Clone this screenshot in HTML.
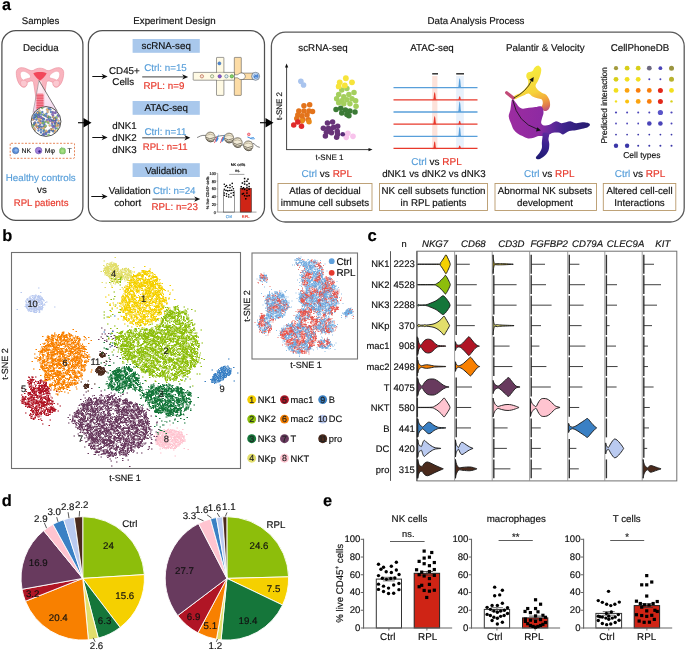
<!DOCTYPE html>
<html lang="en">
<head>
<meta charset="utf-8">
<title>Figure 1</title>
<style>
html,body{margin:0;padding:0;background:#fff;}
body{width:685px;height:650px;overflow:hidden;}
svg{display:block;font-family:"Liberation Sans",sans-serif;text-rendering:geometricPrecision;}
text{stroke-width:0.16px;}
</style>
</head>
<body>
<svg width="685" height="650" viewBox="0 0 685 650" role="img" aria-label="Figure 1: single-cell atlas of decidual immune cells in healthy controls and RPL patients">
<rect width="685" height="650" fill="#fff"/>
<text x="2" y="9.6" font-size="16.2" fill="#000" stroke="#000" font-weight="bold">a</text>
<text x="40.5" y="23.7" font-size="9.65" fill="#111" stroke="#111" text-anchor="middle">Samples</text>
<text x="174.5" y="24" font-size="9.75" fill="#111" stroke="#111" text-anchor="middle">Experiment Design</text>
<text x="476" y="24" font-size="9.75" fill="#111" stroke="#111" text-anchor="middle">Data Analysis Process</text>
<rect x="1.9" y="30.6" width="81" height="189.8" fill="none" stroke="#505050" stroke-width="1.25" rx="14"/>
<rect x="88.4" y="30.6" width="176.1" height="190.6" fill="none" stroke="#505050" stroke-width="1.25" rx="14"/>
<rect x="271.4" y="32.1" width="412.8" height="189.9" fill="none" stroke="#5a5a5a" stroke-width="1.3" rx="14"/>
<line x1="78" y1="122.7" x2="86" y2="122.7" stroke="#111" stroke-width="1.2"/>
<path d="M91.5 122.7 L83.5 118 L83.5 127.4Z" fill="#000"/>
<line x1="260" y1="122.7" x2="268" y2="122.7" stroke="#111" stroke-width="1.2"/>
<path d="M273.5 122.7 L265.5 118 L265.5 127.4Z" fill="#000"/>
<text x="40.8" y="50.8" font-size="9.75" fill="#111" stroke="#111" text-anchor="middle">Decidua</text>
<path d="M16.3 73.500 C15.8 68 21 66.2 26.500 68.8 C29.5 70.300 31.5 71.2 33.5 70.300 C35.5 69 37.5 68.200 40 68.2 C42.5 68.200 44.5 69 46.5 70.300 C48.5 71.2 50.500 70.300 53.5 68.8 C59 66.2 64.200 68 63.7 73.5 C63.5 79.5 61 85.5 57.5 87 C55 88 52.5 86 53 82.500 C50 81 47.500 80 46.5 82.500 C45.5 88 45 93 44.3 96 L44.3 108.5 C44.300 109.500 43.5 110 42.5 110 L37.5 110 C36.5 110 35.700 109.500 35.7 108.5 L35.7 96 C35 93 34.500 88 33.5 82.500 C32.5 80 30 81 27 82.500 C27.5 86 25 88 22.5 87 C19 85.500 16.500 79.500 16.3 73.5 Z" fill="#F9B4BE" stroke="#E98A98" stroke-width="0.6"/><path d="M20.300 74.5 C20.300 70.800 23.8 70.600 27 72.600 C29.5 74.2 31.2 76.2 30.2 77.800 C28 78.800 25.5 78.300 23.5 80.3 C21.5 79.300 20.300 77 20.3 74.5 Z" fill="#fff" stroke="#E98A98" stroke-width="0.4"/><path d="M59.700 74.5 C59.700 70.800 56.200 70.600 53 72.600 C50.5 74.2 48.800 76.2 49.800 77.800 C52 78.800 54.5 78.300 56.5 80.3 C58.5 79.300 59.700 77 59.7 74.5 Z" fill="#fff" stroke="#E98A98" stroke-width="0.4"/><path d="M21 81 C23 79.500 26 80 27 82.500 C27.5 85.500 25 87.500 22.5 86.500 C20.5 85.500 20 82.500 21 81Z" fill="#FBC8D0" stroke="#E98A98" stroke-width="0.4"/><path d="M59 81 C57 79.500 54 80 53 82.500 C52.5 85.500 55 87.500 57.5 86.500 C59.500 85.500 60 82.500 59 81Z" fill="#FBC8D0" stroke="#E98A98" stroke-width="0.4"/><path d="M33.3 73.300 C36 71.6 44 71.600 46.7 73.3 C45.2 76.500 42.5 79.300 40 80.5 C37.5 79.300 34.800 76.5 33.3 73.3Z" fill="#F2485A"/><path d="M38.3 81 L41.7 81 L42.8 95 L37.2 95Z" fill="#FBD9DE"/>
<defs><linearGradient id="cone" x1="0" y1="0" x2="0" y2="1"><stop offset="0" stop-color="#fff" stop-opacity="0.9"/><stop offset="0.45" stop-color="#FBE6F2" stop-opacity="0.75"/><stop offset="1" stop-color="#EFC2E6" stop-opacity="0.7"/></linearGradient><clipPath id="cc"><circle cx="46" cy="121.5" r="14.5"/></clipPath></defs><path d="M39 80.500 L32.6 113.5 L57.600 111.5 Z" fill="url(#cone)"/><rect x="36.5" y="93.5" width="7" height="16" fill="#F47C8C" rx="1.2" opacity="0.92"/><line x1="36.5" y1="95.8" x2="43.5" y2="95.8" stroke="#E2485C" stroke-width="0.8"/><line x1="36.5" y1="98.2" x2="43.5" y2="98.2" stroke="#E2485C" stroke-width="0.8"/><line x1="36.5" y1="100.6" x2="43.5" y2="100.6" stroke="#E2485C" stroke-width="0.8"/><line x1="36.5" y1="103" x2="43.5" y2="103" stroke="#E2485C" stroke-width="0.8"/><line x1="36.5" y1="105.4" x2="43.5" y2="105.4" stroke="#E2485C" stroke-width="0.8"/><line x1="36.5" y1="107.8" x2="43.5" y2="107.8" stroke="#E2485C" stroke-width="0.8"/><line x1="39" y1="80.5" x2="33" y2="112.5" stroke="#555" stroke-width="0.4"/><line x1="39" y1="80.5" x2="57" y2="110.8" stroke="#222" stroke-width="0.6"/><circle cx="46" cy="121.5" r="14.9" fill="#fff" stroke="#222" stroke-width="0.8"/><g clip-path="url(#cc)"><circle cx="43.55" cy="126.4" r="1.05" fill="#5B8FD9" stroke="#334" stroke-width="0.2"/><circle cx="55.27" cy="126.04" r="1.05" fill="#8FD46F" stroke="#334" stroke-width="0.2"/><circle cx="34.33" cy="114.82" r="1.05" fill="#5B8FD9" stroke="#334" stroke-width="0.2"/><circle cx="55.03" cy="123.67" r="1.05" fill="#5B8FD9" stroke="#334" stroke-width="0.2"/><circle cx="46.61" cy="131.95" r="1.05" fill="#5B8FD9" stroke="#334" stroke-width="0.2"/><circle cx="48.3" cy="117.11" r="1.05" fill="#5B8FD9" stroke="#334" stroke-width="0.2"/><circle cx="38.66" cy="113.62" r="1.05" fill="#5B8FD9" stroke="#334" stroke-width="0.2"/><circle cx="38.14" cy="117.36" r="1.05" fill="#5B8FD9" stroke="#334" stroke-width="0.2"/><circle cx="58.51" cy="125.27" r="1.05" fill="#9B7BD8" stroke="#334" stroke-width="0.2"/><circle cx="36.94" cy="126.54" r="1.05" fill="#9B7BD8" stroke="#334" stroke-width="0.2"/><circle cx="35.18" cy="117.2" r="1.05" fill="#5B8FD9" stroke="#334" stroke-width="0.2"/><circle cx="36.18" cy="115.97" r="1.05" fill="#8FD46F" stroke="#334" stroke-width="0.2"/><circle cx="55.74" cy="128.34" r="1.05" fill="#5B8FD9" stroke="#334" stroke-width="0.2"/><circle cx="38.72" cy="114.74" r="1.05" fill="#F9C27A" stroke="#334" stroke-width="0.2"/><circle cx="47.64" cy="112.02" r="1.05" fill="#F9C27A" stroke="#334" stroke-width="0.2"/><circle cx="41.47" cy="126.87" r="1.05" fill="#5B8FD9" stroke="#334" stroke-width="0.2"/><circle cx="43.81" cy="114.89" r="1.05" fill="#9B7BD8" stroke="#334" stroke-width="0.2"/><circle cx="32.97" cy="119.42" r="1.05" fill="#F9C27A" stroke="#334" stroke-width="0.2"/><circle cx="42.7" cy="135.06" r="1.05" fill="#5B8FD9" stroke="#334" stroke-width="0.2"/><circle cx="40.29" cy="121.07" r="1.05" fill="#9B7BD8" stroke="#334" stroke-width="0.2"/><circle cx="51.7" cy="129.55" r="1.05" fill="#5B8FD9" stroke="#334" stroke-width="0.2"/><circle cx="49.82" cy="120.57" r="1.05" fill="#9B7BD8" stroke="#334" stroke-width="0.2"/><circle cx="41.52" cy="128.54" r="1.05" fill="#F9C27A" stroke="#334" stroke-width="0.2"/><circle cx="37.65" cy="116.92" r="1.05" fill="#5B8FD9" stroke="#334" stroke-width="0.2"/><circle cx="55.13" cy="118.19" r="1.05" fill="#5B8FD9" stroke="#334" stroke-width="0.2"/><circle cx="56.96" cy="125.89" r="1.05" fill="#F9C27A" stroke="#334" stroke-width="0.2"/><circle cx="44.11" cy="130.05" r="1.05" fill="#8FD46F" stroke="#334" stroke-width="0.2"/><circle cx="55.48" cy="122.85" r="1.05" fill="#5B8FD9" stroke="#334" stroke-width="0.2"/><circle cx="38.4" cy="115.14" r="1.05" fill="#5B8FD9" stroke="#334" stroke-width="0.2"/><circle cx="46.58" cy="116.46" r="1.05" fill="#5B8FD9" stroke="#334" stroke-width="0.2"/><circle cx="35.18" cy="129.58" r="1.05" fill="#F9C27A" stroke="#334" stroke-width="0.2"/><circle cx="54.26" cy="126.08" r="1.05" fill="#9B7BD8" stroke="#334" stroke-width="0.2"/><circle cx="55.49" cy="112.96" r="1.05" fill="#9B7BD8" stroke="#334" stroke-width="0.2"/><circle cx="42.21" cy="108.02" r="1.05" fill="#8FD46F" stroke="#334" stroke-width="0.2"/><circle cx="51.29" cy="120.06" r="1.05" fill="#5B8FD9" stroke="#334" stroke-width="0.2"/><circle cx="52.65" cy="130.81" r="1.05" fill="#5B8FD9" stroke="#334" stroke-width="0.2"/><circle cx="35.23" cy="122.52" r="1.05" fill="#9B7BD8" stroke="#334" stroke-width="0.2"/><circle cx="44.93" cy="126.77" r="1.05" fill="#8FD46F" stroke="#334" stroke-width="0.2"/><circle cx="39.86" cy="116.43" r="1.05" fill="#5B8FD9" stroke="#334" stroke-width="0.2"/><circle cx="42.3" cy="112.08" r="1.05" fill="#5B8FD9" stroke="#334" stroke-width="0.2"/><circle cx="33.33" cy="125.04" r="1.05" fill="#8FD46F" stroke="#334" stroke-width="0.2"/><circle cx="38.9" cy="126.79" r="1.05" fill="#F9C27A" stroke="#334" stroke-width="0.2"/><circle cx="43.66" cy="118.87" r="1.05" fill="#5B8FD9" stroke="#334" stroke-width="0.2"/><circle cx="55.32" cy="120.6" r="1.05" fill="#5B8FD9" stroke="#334" stroke-width="0.2"/><circle cx="44.27" cy="124.23" r="1.05" fill="#5B8FD9" stroke="#334" stroke-width="0.2"/><circle cx="36.57" cy="117.29" r="1.05" fill="#8FD46F" stroke="#334" stroke-width="0.2"/><circle cx="43.18" cy="119.05" r="1.05" fill="#5B8FD9" stroke="#334" stroke-width="0.2"/><circle cx="41.9" cy="117.93" r="1.05" fill="#9B7BD8" stroke="#334" stroke-width="0.2"/><circle cx="56.52" cy="118.48" r="1.05" fill="#F9C27A" stroke="#334" stroke-width="0.2"/><circle cx="55.31" cy="130.56" r="1.05" fill="#F9C27A" stroke="#334" stroke-width="0.2"/><circle cx="38.19" cy="122.47" r="1.05" fill="#5B8FD9" stroke="#334" stroke-width="0.2"/><circle cx="52.61" cy="126.44" r="1.05" fill="#9B7BD8" stroke="#334" stroke-width="0.2"/><circle cx="34.38" cy="123.07" r="1.05" fill="#F9C27A" stroke="#334" stroke-width="0.2"/><circle cx="59.61" cy="123.49" r="1.05" fill="#F9C27A" stroke="#334" stroke-width="0.2"/><circle cx="38.43" cy="130.44" r="1.05" fill="#5B8FD9" stroke="#334" stroke-width="0.2"/><circle cx="46.39" cy="113.81" r="1.05" fill="#5B8FD9" stroke="#334" stroke-width="0.2"/><circle cx="43.61" cy="114.7" r="1.05" fill="#8FD46F" stroke="#334" stroke-width="0.2"/><circle cx="53.05" cy="116.92" r="1.05" fill="#5B8FD9" stroke="#334" stroke-width="0.2"/><circle cx="33.81" cy="118.97" r="1.05" fill="#9B7BD8" stroke="#334" stroke-width="0.2"/><circle cx="38.77" cy="113.15" r="1.05" fill="#5B8FD9" stroke="#334" stroke-width="0.2"/><circle cx="50.4" cy="109.53" r="1.05" fill="#5B8FD9" stroke="#334" stroke-width="0.2"/><circle cx="49.06" cy="130.91" r="1.05" fill="#5B8FD9" stroke="#334" stroke-width="0.2"/><circle cx="58.51" cy="120.68" r="1.05" fill="#F9C27A" stroke="#334" stroke-width="0.2"/><circle cx="45.32" cy="133.21" r="1.05" fill="#8FD46F" stroke="#334" stroke-width="0.2"/><circle cx="33.09" cy="125.94" r="1.05" fill="#8FD46F" stroke="#334" stroke-width="0.2"/><circle cx="54.18" cy="119.12" r="1.05" fill="#5B8FD9" stroke="#334" stroke-width="0.2"/><circle cx="53.74" cy="127.29" r="1.05" fill="#9B7BD8" stroke="#334" stroke-width="0.2"/><circle cx="49.15" cy="132.18" r="1.05" fill="#5B8FD9" stroke="#334" stroke-width="0.2"/><circle cx="34.7" cy="122.97" r="1.05" fill="#5B8FD9" stroke="#334" stroke-width="0.2"/><circle cx="48.48" cy="117.29" r="1.05" fill="#8FD46F" stroke="#334" stroke-width="0.2"/><circle cx="48.46" cy="109.54" r="1.05" fill="#F9C27A" stroke="#334" stroke-width="0.2"/><circle cx="53.12" cy="115.54" r="1.05" fill="#9B7BD8" stroke="#334" stroke-width="0.2"/><circle cx="57.73" cy="128.61" r="1.05" fill="#8FD46F" stroke="#334" stroke-width="0.2"/><circle cx="34.17" cy="124.29" r="1.05" fill="#5B8FD9" stroke="#334" stroke-width="0.2"/><circle cx="45.08" cy="115.76" r="1.05" fill="#5B8FD9" stroke="#334" stroke-width="0.2"/><circle cx="56.68" cy="123.37" r="1.05" fill="#F9C27A" stroke="#334" stroke-width="0.2"/><circle cx="47.87" cy="116.45" r="1.05" fill="#F9C27A" stroke="#334" stroke-width="0.2"/><circle cx="41.41" cy="114.53" r="1.05" fill="#5B8FD9" stroke="#334" stroke-width="0.2"/><circle cx="58.49" cy="123.19" r="1.05" fill="#5B8FD9" stroke="#334" stroke-width="0.2"/><circle cx="32.57" cy="119.24" r="1.05" fill="#F9C27A" stroke="#334" stroke-width="0.2"/><circle cx="52.2" cy="120.97" r="1.05" fill="#5B8FD9" stroke="#334" stroke-width="0.2"/><circle cx="52.4" cy="122.64" r="1.05" fill="#F9C27A" stroke="#334" stroke-width="0.2"/><circle cx="46.64" cy="132.28" r="1.05" fill="#9B7BD8" stroke="#334" stroke-width="0.2"/><circle cx="33.62" cy="117.96" r="1.05" fill="#5B8FD9" stroke="#334" stroke-width="0.2"/><circle cx="53.08" cy="117.01" r="1.05" fill="#F9C27A" stroke="#334" stroke-width="0.2"/><circle cx="39.35" cy="110.65" r="1.05" fill="#F9C27A" stroke="#334" stroke-width="0.2"/><circle cx="34.14" cy="127.96" r="1.05" fill="#F9C27A" stroke="#334" stroke-width="0.2"/><circle cx="49.74" cy="125.52" r="1.05" fill="#F9C27A" stroke="#334" stroke-width="0.2"/><circle cx="55.29" cy="122.6" r="1.05" fill="#5B8FD9" stroke="#334" stroke-width="0.2"/><circle cx="36.36" cy="113.67" r="1.05" fill="#5B8FD9" stroke="#334" stroke-width="0.2"/><circle cx="50.55" cy="130.07" r="1.05" fill="#5B8FD9" stroke="#334" stroke-width="0.2"/><circle cx="38.45" cy="118.7" r="1.05" fill="#F9C27A" stroke="#334" stroke-width="0.2"/><circle cx="36.39" cy="119.62" r="1.05" fill="#5B8FD9" stroke="#334" stroke-width="0.2"/><circle cx="48.5" cy="119.25" r="1.05" fill="#5B8FD9" stroke="#334" stroke-width="0.2"/><circle cx="43.91" cy="133.71" r="1.05" fill="#F9C27A" stroke="#334" stroke-width="0.2"/><circle cx="43.75" cy="122.2" r="1.05" fill="#5B8FD9" stroke="#334" stroke-width="0.2"/><circle cx="35.66" cy="125.35" r="1.05" fill="#F9C27A" stroke="#334" stroke-width="0.2"/><circle cx="41.05" cy="117.61" r="1.05" fill="#9B7BD8" stroke="#334" stroke-width="0.2"/><circle cx="36.16" cy="124.54" r="1.05" fill="#F9C27A" stroke="#334" stroke-width="0.2"/><circle cx="38.99" cy="121.16" r="1.05" fill="#F9C27A" stroke="#334" stroke-width="0.2"/><circle cx="55.77" cy="111.92" r="1.05" fill="#9B7BD8" stroke="#334" stroke-width="0.2"/><circle cx="57.79" cy="115.29" r="1.05" fill="#5B8FD9" stroke="#334" stroke-width="0.2"/><circle cx="48.8" cy="117.09" r="1.05" fill="#5B8FD9" stroke="#334" stroke-width="0.2"/><circle cx="39.82" cy="126.46" r="1.05" fill="#5B8FD9" stroke="#334" stroke-width="0.2"/><circle cx="40.15" cy="124.33" r="1.05" fill="#9B7BD8" stroke="#334" stroke-width="0.2"/><circle cx="48.83" cy="108.45" r="1.05" fill="#5B8FD9" stroke="#334" stroke-width="0.2"/><circle cx="56.5" cy="117.3" r="1.05" fill="#8FD46F" stroke="#334" stroke-width="0.2"/><circle cx="54.25" cy="131.86" r="1.05" fill="#F9C27A" stroke="#334" stroke-width="0.2"/><circle cx="48.61" cy="135.01" r="1.05" fill="#8FD46F" stroke="#334" stroke-width="0.2"/><circle cx="50.27" cy="117.74" r="1.05" fill="#5B8FD9" stroke="#334" stroke-width="0.2"/><circle cx="50.89" cy="129.37" r="1.05" fill="#F9C27A" stroke="#334" stroke-width="0.2"/><circle cx="38.47" cy="126.7" r="1.05" fill="#8FD46F" stroke="#334" stroke-width="0.2"/><circle cx="41" cy="132.39" r="1.05" fill="#5B8FD9" stroke="#334" stroke-width="0.2"/><circle cx="40.99" cy="129.63" r="1.05" fill="#5B8FD9" stroke="#334" stroke-width="0.2"/><circle cx="38.42" cy="128.24" r="1.05" fill="#9B7BD8" stroke="#334" stroke-width="0.2"/><circle cx="42.44" cy="121.22" r="1.05" fill="#5B8FD9" stroke="#334" stroke-width="0.2"/><circle cx="50.49" cy="120.69" r="1.05" fill="#9B7BD8" stroke="#334" stroke-width="0.2"/><circle cx="44.16" cy="134.79" r="1.05" fill="#5B8FD9" stroke="#334" stroke-width="0.2"/><circle cx="45.35" cy="126.53" r="1.05" fill="#F9C27A" stroke="#334" stroke-width="0.2"/><circle cx="52.79" cy="112.1" r="1.05" fill="#9B7BD8" stroke="#334" stroke-width="0.2"/><circle cx="37.42" cy="127.25" r="1.05" fill="#F9C27A" stroke="#334" stroke-width="0.2"/><circle cx="35.34" cy="116.44" r="1.05" fill="#5B8FD9" stroke="#334" stroke-width="0.2"/><circle cx="43.71" cy="133.9" r="1.05" fill="#5B8FD9" stroke="#334" stroke-width="0.2"/><circle cx="42.62" cy="123.22" r="1.05" fill="#5B8FD9" stroke="#334" stroke-width="0.2"/><circle cx="37.62" cy="112.06" r="1.05" fill="#5B8FD9" stroke="#334" stroke-width="0.2"/><circle cx="40.83" cy="117.32" r="1.05" fill="#9B7BD8" stroke="#334" stroke-width="0.2"/><circle cx="52.18" cy="114.29" r="1.05" fill="#9B7BD8" stroke="#334" stroke-width="0.2"/><circle cx="55.11" cy="121.17" r="1.05" fill="#9B7BD8" stroke="#334" stroke-width="0.2"/><circle cx="43.89" cy="119.47" r="1.05" fill="#5B8FD9" stroke="#334" stroke-width="0.2"/><circle cx="58.85" cy="116.24" r="1.05" fill="#9B7BD8" stroke="#334" stroke-width="0.2"/><circle cx="52.02" cy="123.47" r="1.05" fill="#9B7BD8" stroke="#334" stroke-width="0.2"/><circle cx="38.9" cy="114.07" r="1.05" fill="#5B8FD9" stroke="#334" stroke-width="0.2"/><circle cx="43.52" cy="131.16" r="1.05" fill="#5B8FD9" stroke="#334" stroke-width="0.2"/><circle cx="44.37" cy="134.04" r="1.05" fill="#9B7BD8" stroke="#334" stroke-width="0.2"/><circle cx="47.86" cy="121.94" r="1.05" fill="#F9C27A" stroke="#334" stroke-width="0.2"/><circle cx="40.18" cy="119.57" r="1.05" fill="#F9C27A" stroke="#334" stroke-width="0.2"/><circle cx="46.26" cy="130.92" r="1.05" fill="#F9C27A" stroke="#334" stroke-width="0.2"/><circle cx="40.23" cy="112.83" r="1.05" fill="#8FD46F" stroke="#334" stroke-width="0.2"/><circle cx="53.69" cy="120.05" r="1.05" fill="#5B8FD9" stroke="#334" stroke-width="0.2"/><circle cx="54.2" cy="120.59" r="1.05" fill="#5B8FD9" stroke="#334" stroke-width="0.2"/><circle cx="39.13" cy="126.19" r="1.05" fill="#5B8FD9" stroke="#334" stroke-width="0.2"/><circle cx="46.87" cy="120.06" r="1.05" fill="#9B7BD8" stroke="#334" stroke-width="0.2"/><circle cx="42.99" cy="122.9" r="1.05" fill="#8FD46F" stroke="#334" stroke-width="0.2"/><circle cx="53.93" cy="113.11" r="1.05" fill="#9B7BD8" stroke="#334" stroke-width="0.2"/><circle cx="36.45" cy="114.68" r="1.05" fill="#5B8FD9" stroke="#334" stroke-width="0.2"/><circle cx="40.58" cy="122.91" r="1.05" fill="#F9C27A" stroke="#334" stroke-width="0.2"/><circle cx="54.51" cy="121.69" r="1.05" fill="#9B7BD8" stroke="#334" stroke-width="0.2"/><circle cx="56.28" cy="119.71" r="1.05" fill="#5B8FD9" stroke="#334" stroke-width="0.2"/><circle cx="58.94" cy="124.34" r="1.05" fill="#5B8FD9" stroke="#334" stroke-width="0.2"/><circle cx="45.71" cy="121.86" r="1.05" fill="#8FD46F" stroke="#334" stroke-width="0.2"/><circle cx="52.44" cy="125.25" r="1.05" fill="#5B8FD9" stroke="#334" stroke-width="0.2"/><circle cx="46.14" cy="133.92" r="1.05" fill="#5B8FD9" stroke="#334" stroke-width="0.2"/><circle cx="45.62" cy="125.71" r="1.05" fill="#8FD46F" stroke="#334" stroke-width="0.2"/><circle cx="38.43" cy="116.91" r="1.05" fill="#9B7BD8" stroke="#334" stroke-width="0.2"/><circle cx="43.73" cy="127.91" r="1.05" fill="#F9C27A" stroke="#334" stroke-width="0.2"/><circle cx="49.36" cy="117.07" r="1.05" fill="#8FD46F" stroke="#334" stroke-width="0.2"/><circle cx="47.07" cy="109.58" r="1.05" fill="#F9C27A" stroke="#334" stroke-width="0.2"/><circle cx="53.09" cy="131.18" r="1.05" fill="#5B8FD9" stroke="#334" stroke-width="0.2"/><circle cx="58.4" cy="125" r="1.05" fill="#F9C27A" stroke="#334" stroke-width="0.2"/><circle cx="37.59" cy="112.83" r="1.05" fill="#F9C27A" stroke="#334" stroke-width="0.2"/><circle cx="52.54" cy="129.33" r="1.05" fill="#F9C27A" stroke="#334" stroke-width="0.2"/><circle cx="34.45" cy="116.2" r="1.05" fill="#5B8FD9" stroke="#334" stroke-width="0.2"/><circle cx="50.98" cy="111.94" r="1.05" fill="#5B8FD9" stroke="#334" stroke-width="0.2"/><circle cx="48.48" cy="122.97" r="1.05" fill="#8FD46F" stroke="#334" stroke-width="0.2"/><circle cx="54.37" cy="119.32" r="1.05" fill="#F9C27A" stroke="#334" stroke-width="0.2"/></g>
<rect x="10.2" y="143.3" width="64.3" height="15" fill="none" stroke="#E2703C" stroke-width="0.85" rx="0.8" stroke-dasharray="2 1.5"/>
<circle cx="15.6" cy="150.6" r="3.2" fill="#5B8FD9" stroke="#2f5590" stroke-width="0.5"/>
<circle cx="16.1" cy="150.2" r="1.5" fill="#8DB4EC"/>
<text x="21.6" y="153.1" font-size="6.9" fill="#222" stroke="#222" stroke-width="0.35">NK</text>
<circle cx="38.6" cy="150.6" r="3.3" fill="#A484DC" stroke="#5f44a0" stroke-width="0.5"/>
<circle cx="39.5" cy="151.5" r="1.2" fill="#3a1f8a"/>
<text x="44.7" y="153.1" font-size="6.9" fill="#222" stroke="#222" stroke-width="0.35">Mφ</text>
<rect x="59.7" y="148.2" width="5.6" height="5.6" fill="#8FD46F" stroke="#4f9a38" stroke-width="0.5" rx="1.6"/>
<line x1="62" y1="148.2" x2="61.5" y2="146.9" stroke="#4f9a38" stroke-width="0.5"/>
<circle cx="62.5" cy="151.1" r="1.5" fill="#A8E088"/>
<text x="67.6" y="153.1" font-size="6.9" fill="#222" stroke="#222" stroke-width="0.35">T</text>
<text x="40.8" y="181" font-size="9.75" fill="#589FDA" stroke="#589FDA" text-anchor="middle">Healthy controls</text>
<text x="41.9" y="193.4" font-size="9.75" fill="#111" stroke="#111" text-anchor="middle">vs</text>
<text x="41.1" y="206" font-size="9.65" fill="#E8382B" stroke="#E8382B" text-anchor="middle">RPL patients</text>
<rect x="132.6" y="39" width="67.2" height="13.8" fill="#A9C8EC"/>
<text x="166.2" y="49.4" font-size="9.75" fill="#111" stroke="#111" text-anchor="middle">scRNA-seq</text>
<rect x="132.6" y="101" width="67.2" height="13.8" fill="#A9C8EC"/>
<text x="166.2" y="111.4" font-size="9.75" fill="#111" stroke="#111" text-anchor="middle">ATAC-seq</text>
<rect x="132.6" y="163.2" width="67.2" height="13.8" fill="#A9C8EC"/>
<text x="166.2" y="173.6" font-size="9.75" fill="#111" stroke="#111" text-anchor="middle">Validation</text>
<line x1="92.3" y1="76.5" x2="104" y2="76.5" stroke="#111" stroke-width="1"/><path d="M107.6 76.5L101.6 73.8L103.28 76.5L101.6 79.2Z" fill="#111"/>
<text x="124.4" y="74" font-size="9.75" fill="#111" stroke="#111" text-anchor="middle">CD45+</text>
<text x="123.2" y="85.2" font-size="9.75" fill="#111" stroke="#111" text-anchor="middle">Cells</text>
<line x1="142.2" y1="76.9" x2="184.6" y2="76.9" stroke="#666" stroke-width="1.3"/><path d="M188.2 76.9L182.2 74.2L183.88 76.9L182.2 79.6Z" fill="#111"/>
<text x="144.2" y="71" font-size="9.75" fill="#589FDA" stroke="#589FDA">Ctrl: n=15</text>
<text x="143.4" y="89.2" font-size="9.75" fill="#E8382B" stroke="#E8382B">RPL: n=9</text>
<rect x="234.3" y="57.4" width="7" height="38" fill="#FCDCA6" stroke="#3c3c3c" stroke-width="0.5" rx="0.5"/><path d="M241.3 73.1 L254 73.1 L254 79.5 L241.3 79.5Z" fill="#FCDCA6" stroke="#3c3c3c" stroke-width="0.5"/><rect x="216.5" y="57.4" width="7.4" height="38" fill="#FFFAE4" stroke="#3c3c3c" stroke-width="0.5" rx="0.5"/><rect x="193.2" y="72.4" width="41.3" height="7.8" fill="#FFFAE4" stroke="#3c3c3c" stroke-width="0.5" rx="0.5"/><rect x="216.9" y="72.7" width="6.6" height="7.2" fill="#FFFAE4"/><path d="M234.3 74.700 C236 74.7 237.3 75.2 238.3 74.3 C240 72.200 245 72.5 245.3 76.3 C245 80.100 240 80.4 238.3 78.3 C237.3 77.400 236 77.900 234.3 77.9 Z" fill="#fff" stroke="#3c3c3c" stroke-width="0.5"/><circle cx="201.9" cy="76.3" r="1.65" fill="#F6E2D6" stroke="#B8654A" stroke-width="0.7"/><circle cx="212.1" cy="76.3" r="1.65" fill="#EEF2E2" stroke="#7E9466" stroke-width="0.7"/><circle cx="219.7" cy="76.3" r="1.65" fill="#8B5AD0" stroke="#5A3A9C" stroke-width="0.7"/><circle cx="226.4" cy="76.3" r="1.65" fill="#E6EEF2" stroke="#5E8298" stroke-width="0.7"/><circle cx="231.8" cy="76.3" r="1.65" fill="#86D46A" stroke="#4E9A3C" stroke-width="0.7"/><circle cx="219.4" cy="63.4" r="1.6" fill="#4E86D0" stroke="#3a68a8" stroke-width="0.4"/><circle cx="255.6" cy="76.3" r="4" fill="#D2E3F6" stroke="#3a4a5a" stroke-width="0.55"/><circle cx="256" cy="76.2" r="2.5" fill="#4E86D0"/><path d="M254.3 75.300 q1.2 -1.400 2.6 -0.6" fill="none" stroke="#fff" stroke-width="0.7"/><path d="M255.2 77.300 q1.2 0.900 2.2 0" fill="none" stroke="#fff" stroke-width="0.5"/>
<line x1="92.3" y1="137.5" x2="104" y2="137.5" stroke="#111" stroke-width="1"/><path d="M107.6 137.5L101.6 134.8L103.28 137.5L101.6 140.2Z" fill="#111"/>
<text x="124.5" y="129.2" font-size="9.75" fill="#111" stroke="#111" text-anchor="middle">dNK1</text>
<text x="124.5" y="140.9" font-size="9.75" fill="#111" stroke="#111" text-anchor="middle">dNK2</text>
<text x="124.5" y="152.6" font-size="9.75" fill="#111" stroke="#111" text-anchor="middle">dNK3</text>
<line x1="142.2" y1="137.7" x2="186.7" y2="137.7" stroke="#808080" stroke-width="1.5"/><path d="M190.3 137.7L184.3 135L185.98 137.7L184.3 140.4Z" fill="#111"/>
<text x="144.5" y="134.7" font-size="9.75" fill="#589FDA" stroke="#589FDA">Ctrl: n=11</text>
<text x="142.8" y="149.6" font-size="9.6" fill="#E8382B" stroke="#E8382B">RPL: n=11</text>
<path d="M197.12 137.57 C199.46 136.72 201.06 134.8 205.85 135.44" stroke="#2a2a2a" stroke-width="0.6" fill="none"/><path d="M214.38 137.79 C217.58 136.19 221.84 135.12 225.57 135.66" stroke="#2a2a2a" stroke-width="0.6" fill="none"/><path d="M240.49 144.71 L244.22 145.25" stroke="#2a2a2a" stroke-width="0.6" fill="none"/><path d="M252.74 143.12 C254.87 143.65 255.94 146.85 259.77 147.38" stroke="#2a2a2a" stroke-width="0.6" fill="none"/><ellipse cx="210.33" cy="136.94" rx="4.7" ry="4.9" fill="#F2EBD6" stroke="#3a3226" stroke-width="0.5" transform="rotate(-20 210.33 136.94)"/><path d="M205.83 137.14 q3.6 3.200 8.6 0.4 M206.23 138.84 q3.6 3.200 8.2 0.6 M207.13 140.34 q3 2.600 6.800 0.8" fill="none" stroke="#2e281e" stroke-width="0.55"/><path d="M206.43 135.34 q3.8 -2.400 8 0.2 M207.73 133.54 q3 -2 6.400 -0.6" fill="none" stroke="#8a7f64" stroke-width="0.45"/><ellipse cx="228.98" cy="138" rx="4.7" ry="4.9" fill="#F2EBD6" stroke="#3a3226" stroke-width="0.5" transform="rotate(-20 228.98 138)"/><path d="M224.48 138.2 q3.6 3.200 8.6 0.4 M224.88 139.9 q3.6 3.200 8.2 0.6 M225.78 141.4 q3 2.600 6.800 0.8" fill="none" stroke="#2e281e" stroke-width="0.55"/><path d="M225.08 136.4 q3.8 -2.400 8 0.2 M226.38 134.6 q3 -2 6.400 -0.6" fill="none" stroke="#8a7f64" stroke-width="0.45"/><ellipse cx="237.5" cy="142.58" rx="4.7" ry="4.9" fill="#F2EBD6" stroke="#3a3226" stroke-width="0.5" transform="rotate(-20 237.5 142.58)"/><path d="M233 142.78 q3.6 3.200 8.6 0.4 M233.4 144.48 q3.6 3.200 8.2 0.6 M234.3 145.98 q3 2.600 6.800 0.8" fill="none" stroke="#2e281e" stroke-width="0.55"/><path d="M233.6 140.98 q3.8 -2.400 8 0.2 M234.9 139.18 q3 -2 6.400 -0.6" fill="none" stroke="#8a7f64" stroke-width="0.45"/><ellipse cx="248.27" cy="145.78" rx="4.7" ry="4.9" fill="#F2EBD6" stroke="#3a3226" stroke-width="0.5" transform="rotate(-20 248.27 145.78)"/><path d="M243.77 145.98 q3.6 3.200 8.6 0.4 M244.17 147.68 q3.6 3.200 8.2 0.6 M245.07 149.18 q3 2.600 6.800 0.8" fill="none" stroke="#2e281e" stroke-width="0.55"/><path d="M244.37 144.18 q3.8 -2.400 8 0.2 M245.67 142.38 q3 -2 6.400 -0.6" fill="none" stroke="#8a7f64" stroke-width="0.45"/><ellipse cx="216.8" cy="139.49" rx="1.3" ry="2.6" fill="#3E8FE0" transform="rotate(28 216.8 139.49)"/><path d="M214.4 143.09 l2.400 -6.2" fill="none" stroke="#F0485A" stroke-width="0.8"/><path d="M217.3 137.89 l1.300 -3.2" fill="none" stroke="#3E8FE0" stroke-width="0.7"/><ellipse cx="222.76" cy="139.49" rx="1.3" ry="2.6" fill="#3E8FE0" transform="rotate(28 222.76 139.49)"/><path d="M220.36 143.09 l2.400 -6.2" fill="none" stroke="#F0485A" stroke-width="0.8"/><path d="M223.26 137.89 l1.300 -3.2" fill="none" stroke="#3E8FE0" stroke-width="0.7"/><path d="M247.41 136.94 q3 2.200 6.400 0.6" fill="none" stroke="#3E8FE0" stroke-width="1"/><path d="M250.08 138.43 q2.600 1 4.800 0.2" fill="none" stroke="#3E8FE0" stroke-width="0.8"/><circle cx="248.8" cy="134.38" r="1.3" fill="#F6B0B6" stroke="#EE3E4E" stroke-width="0.7"/>
<line x1="91.3" y1="196.5" x2="104" y2="196.5" stroke="#111" stroke-width="1"/><path d="M107.6 196.5L101.6 193.8L103.28 196.5L101.6 199.2Z" fill="#111"/>
<text x="129.7" y="194.2" font-size="9.75" fill="#111" stroke="#111" text-anchor="middle">Validation</text>
<text x="127.7" y="206.2" font-size="9.75" fill="#111" stroke="#111" text-anchor="middle">cohort</text>
<line x1="152.4" y1="199.1" x2="196.6" y2="199.1" stroke="#666" stroke-width="1.3"/><path d="M200.2 199.1L194.2 196.4L195.88 199.1L194.2 201.8Z" fill="#111"/>
<text x="153" y="194.4" font-size="9.75" fill="#589FDA" stroke="#589FDA">Ctrl: n=24</text>
<text x="151.5" y="209.8" font-size="9.75" fill="#E8382B" stroke="#E8382B">RPL: n=23</text>
<text x="238" y="166.1" font-size="4" fill="#111" stroke="#111" text-anchor="middle">NK cells</text><text x="237.7" y="172.4" font-size="4" fill="#111" stroke="#111" text-anchor="middle">ns.</text><line x1="229.2" y1="174.4" x2="244.4" y2="174.4" stroke="#333" stroke-width="0.45"/><rect x="223.31" y="190.76" width="11.21" height="21.34" fill="#fff" stroke="#333" stroke-width="0.5"/><rect x="240.17" y="188.23" width="11.3" height="23.87" fill="#CF2415" stroke="#222" stroke-width="0.5"/><line x1="217.7" y1="173.4" x2="217.7" y2="212.1" stroke="#555" stroke-width="0.55"/><line x1="217.7" y1="212.1" x2="256.5" y2="212.1" stroke="#555" stroke-width="0.55"/><line x1="216.4" y1="212.1" x2="217.7" y2="212.1" stroke="#555" stroke-width="0.45"/><text x="216.1" y="213.5" font-size="4" fill="#111" stroke="#111" text-anchor="end">0</text><line x1="216.4" y1="204.36" x2="217.7" y2="204.36" stroke="#555" stroke-width="0.45"/><text x="216.1" y="205.76" font-size="4" fill="#111" stroke="#111" text-anchor="end">20</text><line x1="216.4" y1="196.62" x2="217.7" y2="196.62" stroke="#555" stroke-width="0.45"/><text x="216.1" y="198.02" font-size="4" fill="#111" stroke="#111" text-anchor="end">40</text><line x1="216.4" y1="188.88" x2="217.7" y2="188.88" stroke="#555" stroke-width="0.45"/><text x="216.1" y="190.28" font-size="4" fill="#111" stroke="#111" text-anchor="end">60</text><line x1="216.4" y1="181.14" x2="217.7" y2="181.14" stroke="#555" stroke-width="0.45"/><text x="216.1" y="182.54" font-size="4" fill="#111" stroke="#111" text-anchor="end">80</text><line x1="216.4" y1="173.4" x2="217.7" y2="173.4" stroke="#555" stroke-width="0.45"/><text x="216.1" y="174.8" font-size="4" fill="#111" stroke="#111" text-anchor="end">100</text><text transform="translate(209.2 192.8) rotate(-90)" font-size="4" text-anchor="middle" fill="#111" stroke="#111">% live CD45<tspan font-size="2.6" dy="-1.4">+</tspan><tspan dy="1.4"> cells</tspan></text><circle cx="224.28" cy="184.3" r="0.8" fill="#000"/><circle cx="232.24" cy="183.39" r="0.8" fill="#000"/><circle cx="226.52" cy="185.58" r="0.8" fill="#000"/><circle cx="230" cy="185.17" r="0.8" fill="#000"/><circle cx="225.38" cy="186.44" r="0.8" fill="#000"/><circle cx="232.24" cy="186.8" r="0.8" fill="#000"/><circle cx="227.71" cy="187.57" r="0.8" fill="#000"/><circle cx="230" cy="187.87" r="0.8" fill="#000"/><circle cx="233.43" cy="188.74" r="0.8" fill="#000"/><circle cx="224.28" cy="189.25" r="0.8" fill="#000"/><circle cx="226" cy="190.37" r="0.8" fill="#000"/><circle cx="227.82" cy="190.88" r="0.8" fill="#000"/><circle cx="229.74" cy="190.52" r="0.8" fill="#000"/><circle cx="231.56" cy="190.27" r="0.8" fill="#000"/><circle cx="224.28" cy="192.97" r="0.8" fill="#000"/><circle cx="226.52" cy="193.83" r="0.8" fill="#000"/><circle cx="231.04" cy="193.32" r="0.8" fill="#000"/><circle cx="233.38" cy="192.66" r="0.8" fill="#000"/><circle cx="228.75" cy="194.7" r="0.8" fill="#000"/><circle cx="224.28" cy="195.26" r="0.8" fill="#000"/><circle cx="226.52" cy="196.18" r="0.8" fill="#000"/><circle cx="233.38" cy="195.36" r="0.8" fill="#000"/><circle cx="228.75" cy="197.04" r="0.8" fill="#000"/><circle cx="231.04" cy="196.94" r="0.8" fill="#000"/><rect x="243.85" y="177.8" width="1.5" height="1.5" fill="#000"/><rect x="247.23" y="178.41" width="1.5" height="1.5" fill="#000"/><rect x="246.19" y="180.45" width="1.5" height="1.5" fill="#000"/><rect x="243.85" y="180.85" width="1.5" height="1.5" fill="#000"/><rect x="241.62" y="182.28" width="1.5" height="1.5" fill="#000"/><rect x="248.38" y="182.79" width="1.5" height="1.5" fill="#000"/><rect x="243.85" y="183.3" width="1.5" height="1.5" fill="#000"/><rect x="246.19" y="184.17" width="1.5" height="1.5" fill="#000"/><rect x="240.48" y="185.95" width="1.5" height="1.5" fill="#000"/><rect x="248.38" y="185.85" width="1.5" height="1.5" fill="#000"/><rect x="242.76" y="186.97" width="1.5" height="1.5" fill="#000"/><rect x="246.19" y="186.71" width="1.5" height="1.5" fill="#000"/><rect x="241.62" y="188.09" width="1.5" height="1.5" fill="#000"/><rect x="243.85" y="188.65" width="1.5" height="1.5" fill="#000"/><rect x="248.38" y="188.39" width="1.5" height="1.5" fill="#000"/><rect x="246.19" y="189.77" width="1.5" height="1.5" fill="#000"/><rect x="246.19" y="192.32" width="1.5" height="1.5" fill="#000"/><rect x="242.76" y="192.73" width="1.5" height="1.5" fill="#000"/><rect x="241.62" y="193.34" width="1.5" height="1.5" fill="#000"/><rect x="243.85" y="194.97" width="1.5" height="1.5" fill="#000"/><rect x="246.19" y="195.27" width="1.5" height="1.5" fill="#000"/><rect x="248.38" y="194.87" width="1.5" height="1.5" fill="#000"/><rect x="245" y="198.03" width="1.5" height="1.5" fill="#000"/><text x="228.8" y="217.6" font-size="4" fill="#589FDA" stroke="#589FDA" text-anchor="middle">Ctrl</text><text x="245.7" y="217.6" font-size="4" fill="#E8382B" stroke="#E8382B" text-anchor="middle">RPL</text>
<text x="323" y="51.3" font-size="9.75" fill="#111" stroke="#111" text-anchor="middle">scRNA-seq</text>
<text x="432" y="51.3" font-size="9.75" fill="#111" stroke="#111" text-anchor="middle">ATAC-seq</text>
<text x="545.3" y="51.3" font-size="9.75" fill="#111" stroke="#111" text-anchor="middle">Palantir &amp; Velocity</text>
<text x="640" y="51.3" font-size="9.75" fill="#111" stroke="#111" text-anchor="middle">CellPhoneDB</text>
<line x1="286.6" y1="149.6" x2="286.6" y2="66" stroke="#111" stroke-width="0.8"/><path d="M286.6 63.5 L285 67.500 L288.2 67.5Z" fill="#111"/><line x1="286.2" y1="149.6" x2="370" y2="149.6" stroke="#111" stroke-width="0.8"/><path d="M372.5 149.6 L368.5 148 L368.5 151.2Z" fill="#111"/><text transform="translate(281.8 106) rotate(-90)" font-size="8" fill="#111" stroke="#111" text-anchor="middle">t-SNE 2</text><text x="329.5" y="159.5" font-size="8" fill="#111" stroke="#111" text-anchor="middle">t-SNE 1</text><circle cx="300.87" cy="81.31" r="2.8" fill="#A9C4EE"/><circle cx="303.53" cy="84.99" r="2.8" fill="#A9C4EE"/><circle cx="303.94" cy="105.84" r="2.75" fill="#E3731B"/><circle cx="309.66" cy="104.82" r="2.75" fill="#E3731B"/><circle cx="298.83" cy="110.95" r="2.75" fill="#E3731B"/><circle cx="303.94" cy="110.95" r="2.75" fill="#E3731B"/><circle cx="309.05" cy="110.95" r="2.75" fill="#E3731B"/><circle cx="312.52" cy="111.56" r="2.75" fill="#E3731B"/><circle cx="297.81" cy="115.03" r="2.75" fill="#E3731B"/><circle cx="301.9" cy="115.65" r="2.75" fill="#E3731B"/><circle cx="307.01" cy="115.03" r="2.75" fill="#E3731B"/><circle cx="296.79" cy="118.51" r="2.75" fill="#E3731B"/><circle cx="302.92" cy="119.53" r="2.75" fill="#E3731B"/><circle cx="308.44" cy="119.73" r="2.75" fill="#E3731B"/><circle cx="301.9" cy="121.02" r="2.75" fill="#E98A1A"/><circle cx="309.05" cy="121.63" r="2.75" fill="#E98A1A"/><circle cx="293.72" cy="125.11" r="2.75" fill="#E02A2A"/><circle cx="297.81" cy="122.04" r="2.75" fill="#E02A2A"/><circle cx="301.49" cy="126.13" r="2.75" fill="#E02A2A"/><circle cx="341.75" cy="89.9" r="2.75" fill="#A4CF5D"/><circle cx="346.86" cy="88.47" r="2.75" fill="#A4CF5D"/><circle cx="354.01" cy="92.55" r="2.75" fill="#A4CF5D"/><circle cx="338.68" cy="94.6" r="2.75" fill="#A4CF5D"/><circle cx="343.79" cy="96.64" r="2.75" fill="#A4CF5D"/><circle cx="348.9" cy="94.6" r="2.75" fill="#A4CF5D"/><circle cx="336.64" cy="98.68" r="2.75" fill="#A4CF5D"/><circle cx="341.75" cy="100.73" r="2.75" fill="#A4CF5D"/><circle cx="346.86" cy="99.71" r="2.75" fill="#A4CF5D"/><circle cx="351.97" cy="98.68" r="2.75" fill="#A4CF5D"/><circle cx="355.65" cy="100.73" r="2.75" fill="#A4CF5D"/><circle cx="343.79" cy="103.79" r="2.75" fill="#A4CF5D"/><circle cx="349.92" cy="103.79" r="2.75" fill="#A4CF5D"/><circle cx="356.06" cy="106.25" r="2.75" fill="#A4CF5D"/><circle cx="338.68" cy="102.77" r="2.75" fill="#A4CF5D"/><circle cx="345.84" cy="78.25" r="2.9" fill="#F7E43A"/><circle cx="339.71" cy="82.33" r="2.9" fill="#F7E43A"/><circle cx="351.97" cy="82.33" r="2.9" fill="#F7E43A"/><circle cx="338.68" cy="86.42" r="2.9" fill="#F7E43A"/><circle cx="344.82" cy="85.4" r="2.9" fill="#F7E43A"/><circle cx="336.03" cy="109.52" r="2.75" fill="#3B7A35"/><circle cx="340.73" cy="108.29" r="2.75" fill="#3B7A35"/><circle cx="345.43" cy="109.92" r="2.75" fill="#3B7A35"/><circle cx="349.92" cy="110.95" r="2.75" fill="#3B7A35"/><circle cx="355.03" cy="111.97" r="2.75" fill="#3B7A35"/><circle cx="341.75" cy="112.99" r="2.75" fill="#3B7A35"/><circle cx="346.86" cy="114.42" r="2.75" fill="#3B7A35"/><circle cx="348.9" cy="115.65" r="2.75" fill="#3B7A35"/><circle cx="347.88" cy="133.28" r="2.8" fill="#F8C3EC"/><circle cx="346.25" cy="137.37" r="2.8" fill="#F8C3EC"/><circle cx="352.99" cy="136.35" r="2.8" fill="#F8C3EC"/><circle cx="327.44" cy="123.07" r="2.75" fill="#673378"/><circle cx="332.55" cy="122.04" r="2.75" fill="#673378"/><circle cx="323.36" cy="128.17" r="2.75" fill="#673378"/><circle cx="328.47" cy="128.17" r="2.75" fill="#673378"/><circle cx="333.57" cy="127.15" r="2.75" fill="#673378"/><circle cx="337.66" cy="126.13" r="2.75" fill="#673378"/><circle cx="326.42" cy="132.26" r="2.75" fill="#673378"/><circle cx="331.53" cy="132.67" r="2.75" fill="#673378"/><circle cx="337.25" cy="131.24" r="2.75" fill="#673378"/><circle cx="325.4" cy="135.94" r="2.75" fill="#673378"/><circle cx="336.64" cy="137.37" r="2.75" fill="#673378"/><circle cx="330.51" cy="129.81" r="2.75" fill="#673378"/><circle cx="337.66" cy="134.31" r="2.75" fill="#673378"/><circle cx="342.77" cy="134.31" r="2.3" fill="#5A2A78"/>
<rect x="432.2" y="76" width="5.2" height="73.5" fill="#FDE2DA"/><rect x="456.2" y="76" width="7.6" height="73.5" fill="#E7F1FC"/><line x1="432.2" y1="73.8" x2="438" y2="73.8" stroke="#333" stroke-width="1.5"/><line x1="456.2" y1="73.8" x2="464" y2="73.8" stroke="#333" stroke-width="1.5"/><line x1="393.5" y1="87.7" x2="477.5" y2="87.7" stroke="#589FDA" stroke-width="1.3"/><path d="M458.1 87.7 L458 87.7 C458.9 87.7 458.8 78.2 459.7 78.2 C460.6 78.2 460.5 87.7 461.4 87.7Z" fill="#589FDA"/><line x1="393.5" y1="99.8" x2="477.5" y2="99.8" stroke="#E8382B" stroke-width="1.3"/><path d="M433.1 99.8 L433 99.8 C433.9 99.8 433.8 92.3 434.7 92.3 C435.6 92.3 435.5 99.8 436.4 99.8Z" fill="#E8382B"/><path d="M458.1 99.8 L458 99.8 C458.9 99.8 458.8 96.3 459.7 96.3 C460.6 96.3 460.5 99.8 461.4 99.8Z" fill="#E8382B"/><line x1="393.5" y1="112" x2="477.5" y2="112" stroke="#589FDA" stroke-width="1.3"/><path d="M458.1 112 L458 112 C458.9 112 458.8 101.5 459.7 101.5 C460.6 101.5 460.5 112 461.4 112Z" fill="#589FDA"/><line x1="393.5" y1="124.2" x2="477.5" y2="124.2" stroke="#E8382B" stroke-width="1.3"/><path d="M433.1 124.2 L433 124.2 C433.9 124.2 433.8 116.2 434.7 116.2 C435.6 116.2 435.5 124.2 436.4 124.2Z" fill="#E8382B"/><path d="M458.1 124.2 L458 124.2 C458.9 124.2 458.8 120.7 459.7 120.7 C460.6 120.7 460.5 124.2 461.4 124.2Z" fill="#E8382B"/><line x1="393.5" y1="136.4" x2="477.5" y2="136.4" stroke="#589FDA" stroke-width="1.3"/><path d="M458.1 136.4 L458 136.4 C458.9 136.4 458.8 126.9 459.7 126.9 C460.6 126.9 460.5 136.4 461.4 136.4Z" fill="#589FDA"/><line x1="393.5" y1="148.4" x2="477.5" y2="148.4" stroke="#E8382B" stroke-width="1.3"/><path d="M433.1 148.4 L433 148.4 C433.9 148.4 433.8 141.4 434.7 141.4 C435.6 141.4 435.5 148.4 436.4 148.4Z" fill="#E8382B"/><path d="M458.1 148.4 L458 148.4 C458.9 148.4 458.8 145.4 459.7 145.4 C460.6 145.4 460.5 148.4 461.4 148.4Z" fill="#E8382B"/>
<defs><linearGradient id="pg1" gradientUnits="userSpaceOnUse" x1="533.77" y1="69.69" x2="548.31" y2="110.08"><stop offset="0" stop-color="#F6E93C"/><stop offset="0.5" stop-color="#F6D23A"/><stop offset="0.72" stop-color="#F2A83C"/><stop offset="0.88" stop-color="#E07C4C"/><stop offset="1" stop-color="#C0507C"/></linearGradient><linearGradient id="pg2" gradientUnits="userSpaceOnUse" x1="509.54" y1="116.54" x2="590.32" y2="124.62"><stop offset="0" stop-color="#9C2CA0"/><stop offset="0.38" stop-color="#8E2AA2"/><stop offset="0.5" stop-color="#6A2A9E"/><stop offset="0.68" stop-color="#3E248C"/><stop offset="1" stop-color="#241C6E"/></linearGradient><linearGradient id="pg3" gradientUnits="userSpaceOnUse" x1="546.7" y1="132.7" x2="538.62" y2="158.55"><stop offset="0" stop-color="#5E2A9C"/><stop offset="0.45" stop-color="#3A2290"/><stop offset="1" stop-color="#1E1A72"/></linearGradient></defs><path d="M538.62 65.65C539.7 65.9 540.91 67.35 541.2 68.89C541.5 70.42 540.93 72.84 540.4 74.86C539.86 76.88 538.78 79.17 537.97 81C537.16 82.83 535.55 84.34 535.55 85.85C535.55 87.36 536.87 88.86 537.97 90.05C539.08 91.23 540.77 92.15 542.17 92.96C543.57 93.76 545.19 93.76 546.37 94.89C547.56 96.03 548.66 98.02 549.28 99.74C549.9 101.46 550.22 103.62 550.09 105.23C549.95 106.85 549.42 108.47 548.47 109.43C547.53 110.4 545.57 111.32 544.43 111.05C543.3 110.78 541.96 109.17 541.69 107.82C541.42 106.47 542.85 104.4 542.82 102.97C542.79 101.55 542.44 100.06 541.53 99.26C540.61 98.45 538.83 98.58 537.33 98.13C535.82 97.67 533.93 97.26 532.48 96.51C531.03 95.76 530 93.82 528.6 93.6C527.2 93.39 525.64 94.63 524.08 95.22C522.52 95.81 520.79 96.48 519.23 97.16C517.67 97.83 515.73 99.31 514.71 99.26C513.69 99.2 512.72 97.61 513.09 96.83C513.47 96.05 515.52 95.38 516.97 94.57C518.42 93.76 520.36 93.06 521.82 91.99C523.27 90.91 524.64 89.4 525.69 88.11C526.74 86.82 527.71 85.53 528.12 84.23C528.52 82.94 528.41 81.59 528.12 80.36C527.82 79.12 526.48 78.04 526.34 76.8C526.21 75.56 526.34 73.84 527.31 72.92C528.28 72.01 530.92 72.22 532.16 71.31C533.4 70.39 533.66 68.37 534.74 67.43C535.82 66.49 537.54 65.41 538.62 65.65Z" fill="url(#pg1)"/><path d="M506.63 92.79 L513.26 97.96" stroke="#C24A78" stroke-width="3.2" stroke-linecap="round" fill="none"/><path d="M512.45 99.1C513.26 98.93 514.87 101.65 516 102.97C517.13 104.29 518.1 106.07 519.23 107.01C520.36 107.95 521.17 108.49 522.79 108.63C524.4 108.76 526.83 108.09 528.93 107.82C531.03 107.55 533.4 107.28 535.39 107.01C537.38 106.74 539.61 105.91 540.88 106.2C542.15 106.5 542.55 107.6 542.98 108.79C543.41 109.97 543.63 111.75 543.47 113.31C543.3 114.87 542.39 116.54 542.01 118.16C541.63 119.77 540.91 121.79 541.2 123C541.5 124.22 542.33 125.19 543.79 125.43C545.24 125.67 547.96 125.13 549.93 124.46C551.89 123.79 553.7 121.6 555.58 121.39C557.47 121.17 559.49 123.03 561.24 123.17C562.99 123.3 564.47 122.49 566.08 122.2C567.7 121.9 569.26 121.23 570.93 121.39C572.6 121.55 574.21 123.03 576.1 123.17C577.98 123.3 580.3 122.25 582.24 122.2C584.18 122.14 586.44 122.41 587.73 122.84C589.02 123.27 589.99 124.05 589.99 124.78C589.99 125.51 589.02 126.53 587.73 127.21C586.44 127.88 584.23 128.31 582.24 128.82C580.25 129.33 577.93 129.9 575.78 130.27C573.62 130.65 571.41 130.38 569.31 131.08C567.21 131.78 564.79 134.21 563.17 134.47C561.56 134.74 561.29 132.99 559.62 132.7C557.95 132.4 554.99 132.37 553.16 132.7C551.33 133.02 550.25 134.1 548.63 134.64C547.02 135.18 545.13 135.69 543.47 135.93C541.8 136.17 540.23 135.79 538.62 136.09C537 136.39 535.52 137.3 533.77 137.71C532.02 138.11 530 138.78 528.12 138.51C526.23 138.24 524.21 136.93 522.46 136.09C520.71 135.26 519.1 134.61 517.62 133.51C516.14 132.4 514.66 131.08 513.58 129.47C512.5 127.85 511.96 125.97 511.16 123.81C510.35 121.66 508.87 118.83 508.73 116.54C508.6 114.25 509.94 112.18 510.35 110.08C510.75 107.98 510.81 105.77 511.16 103.94C511.51 102.11 511.64 99.26 512.45 99.1Z" fill="url(#pg2)"/><path d="M543.14 132.7C544.22 132.13 548.07 132.43 548.96 133.51C549.85 134.58 548.42 137.41 548.47 139.16C548.53 140.91 549.28 142.12 549.28 144.01C549.28 145.89 549.15 148.58 548.47 150.47C547.8 152.35 546.59 153.94 545.24 155.32C543.9 156.69 541.8 158.09 540.4 158.71C539 159.33 537.57 159.33 536.84 159.03C536.11 158.73 535.6 157.95 536.03 156.93C536.46 155.91 538.46 154.37 539.43 152.89C540.4 151.41 541.45 149.8 541.85 148.05C542.25 146.3 541.74 144.25 541.85 142.39C541.96 140.53 542.28 138.51 542.5 136.9C542.71 135.28 542.07 133.26 543.14 132.7Z" fill="url(#pg3)"/><path d="M513.74 98.13 Q526.5 91.5 531.51 80.68" stroke="#111" stroke-width="0.8" fill="none"/><path d="M533.77 77.12 L529.25 79.71 L533.13 81.97 Z" fill="#111"/><path d="M512.77 100.06 Q517.62 123 537.33 129.14" stroke="#111" stroke-width="0.8" fill="none"/><path d="M540.88 130.44 L537.33 127.21 L536.03 131.41 Z" fill="#111"/>
<circle cx="616" cy="68.2" r="2.1" fill="#A39B3E"/><circle cx="627.1" cy="68.2" r="2.4" fill="#D8CF1A"/><circle cx="638.2" cy="68.2" r="2.4" fill="#D8CF1A"/><circle cx="649.3" cy="68.2" r="2.4" fill="#6E6A80"/><circle cx="660.4" cy="68.2" r="1.9" fill="#4A44B8"/><circle cx="671.5" cy="68.2" r="2.5" fill="#9A9440"/><circle cx="616" cy="79.3" r="2.4" fill="#D8CF1A"/><circle cx="627.1" cy="79.3" r="2.4" fill="#F2DF1E"/><circle cx="638.2" cy="79.3" r="2.4" fill="#F2DF1E"/><circle cx="649.3" cy="79.3" r="1" fill="#4A44B8"/><circle cx="660.4" cy="79.3" r="1" fill="#4A44B8"/><circle cx="671.5" cy="79.3" r="2.5" fill="#B8B22E"/><circle cx="616" cy="90.4" r="2.4" fill="#F2DF1E"/><circle cx="627.1" cy="90.4" r="2.4" fill="#FBA30F"/><circle cx="638.2" cy="90.4" r="2.4" fill="#F97E0B"/><circle cx="649.3" cy="90.4" r="2.4" fill="#F97E0B"/><circle cx="660.4" cy="90.4" r="2.5" fill="#E2281A"/><circle cx="671.5" cy="90.4" r="2.4" fill="#F2DF1E"/><circle cx="616" cy="101.4" r="1.2" fill="#F2DF1E"/><circle cx="627.1" cy="101.4" r="2" fill="#FBC210"/><circle cx="638.2" cy="101.4" r="2.4" fill="#FBA30F"/><circle cx="649.3" cy="101.4" r="2.4" fill="#F97E0B"/><circle cx="660.4" cy="101.4" r="2.5" fill="#E2281A"/><circle cx="671.5" cy="101.4" r="1.2" fill="#D8CF1A"/><circle cx="616" cy="112.5" r="1.1" fill="#4A44B8"/><circle cx="627.1" cy="112.5" r="1" fill="#4A44B8"/><circle cx="638.2" cy="112.5" r="1" fill="#4A44B8"/><circle cx="649.3" cy="112.5" r="1" fill="#4A44B8"/><circle cx="660.4" cy="112.5" r="2.6" fill="#5A54C8"/><circle cx="671.5" cy="112.5" r="1.1" fill="#4A44B8"/><circle cx="616" cy="123.5" r="0.9" fill="#4A44B8"/><circle cx="627.1" cy="123.5" r="0.9" fill="#4A44B8"/><circle cx="638.2" cy="123.5" r="0.9" fill="#4A44B8"/><circle cx="649.3" cy="123.5" r="2.3" fill="#4A44B8"/><circle cx="660.4" cy="123.5" r="2.3" fill="#4A44B8"/><circle cx="671.5" cy="123.5" r="1" fill="#4A44B8"/><circle cx="616" cy="134.6" r="0.9" fill="#3A36A8"/><circle cx="627.1" cy="134.6" r="0.9" fill="#3A36A8"/><circle cx="638.2" cy="134.6" r="0.9" fill="#3A36A8"/><circle cx="649.3" cy="134.6" r="0.9" fill="#3A36A8"/><circle cx="660.4" cy="134.6" r="0.9" fill="#3A36A8"/><circle cx="671.5" cy="134.6" r="0.9" fill="#3A36A8"/><circle cx="616" cy="145.7" r="2.2" fill="#3A36A8"/><circle cx="627.1" cy="145.7" r="2.2" fill="#3A36A8"/><circle cx="638.2" cy="145.7" r="1" fill="#3A36A8"/><circle cx="649.3" cy="145.7" r="1" fill="#3A36A8"/><circle cx="660.4" cy="145.7" r="1" fill="#3A36A8"/><circle cx="671.5" cy="145.7" r="1" fill="#3A36A8"/><text transform="translate(606.5 105.3) rotate(-90)" font-size="8.4" fill="#111" stroke="#111" text-anchor="middle">Predicted interaction</text><text x="641.8" y="157.8" font-size="8.5" fill="#111" stroke="#111" text-anchor="middle">Cell types</text>
<text x="326.8" y="177.3" font-size="10" text-anchor="middle" stroke="none"><tspan fill="#589FDA" stroke="#589FDA">Ctrl</tspan><tspan fill="#111" stroke="#111"> vs </tspan><tspan fill="#E8382B" stroke="#E8382B">RPL</tspan></text>
<text x="436.5" y="165.2" font-size="10" text-anchor="middle" stroke="none"><tspan fill="#589FDA" stroke="#589FDA">Ctrl</tspan><tspan fill="#111" stroke="#111"> vs </tspan><tspan fill="#E8382B" stroke="#E8382B">RPL</tspan></text>
<text x="433.9" y="177.3" font-size="9.75" fill="#111" stroke="#111" text-anchor="middle">dNK1 vs dNK2 vs dNK3</text>
<text x="549.2" y="177.3" font-size="10" text-anchor="middle" stroke="none"><tspan fill="#589FDA" stroke="#589FDA">Ctrl</tspan><tspan fill="#111" stroke="#111"> vs </tspan><tspan fill="#E8382B" stroke="#E8382B">RPL</tspan></text>
<text x="640" y="177.3" font-size="10" text-anchor="middle" stroke="none"><tspan fill="#589FDA" stroke="#589FDA">Ctrl</tspan><tspan fill="#111" stroke="#111"> vs </tspan><tspan fill="#E8382B" stroke="#E8382B">RPL</tspan></text>
<rect x="278" y="183.5" width="94" height="27" fill="#fff" stroke="#B8996A" stroke-width="0.9"/>
<text x="325" y="194.2" font-size="9.75" fill="#111" stroke="#111" text-anchor="middle">Atlas of decidual</text>
<text x="325" y="205.8" font-size="9.75" fill="#111" stroke="#111" text-anchor="middle">immune cell subsets</text>
<rect x="379.5" y="183.5" width="108" height="27" fill="#fff" stroke="#B8996A" stroke-width="0.9"/>
<text x="433.5" y="194.2" font-size="9.75" fill="#111" stroke="#111" text-anchor="middle">NK cell subsets function</text>
<text x="433.5" y="205.8" font-size="9.75" fill="#111" stroke="#111" text-anchor="middle">in RPL patients</text>
<rect x="495" y="183.5" width="101.5" height="27" fill="#fff" stroke="#B8996A" stroke-width="0.9"/>
<text x="545" y="194.2" font-size="9.75" fill="#111" stroke="#111" text-anchor="middle">Abnormal NK subsets</text>
<text x="545" y="205.8" font-size="9.75" fill="#111" stroke="#111" text-anchor="middle">development</text>
<rect x="603.3" y="183.5" width="72.5" height="27" fill="#fff" stroke="#B8996A" stroke-width="0.9"/>
<text x="639.5" y="194.2" font-size="9.75" fill="#111" stroke="#111" text-anchor="middle">Altered cell-cell</text>
<text x="639.5" y="205.8" font-size="9.75" fill="#111" stroke="#111" text-anchor="middle">Interactions</text>
<text x="2.3" y="241.1" font-size="16.4" fill="#000" stroke="#000" font-weight="bold">b</text>
<path transform="translate(11.5 253) scale(0.5)" d="M178 283h3m13 0h3m-18 1h2m23 0h2m-30 1h2m1 0h2m7 0h2m1 0h2m11 0h3m-46 1h2m18 0h3m6 0h5m4 0h6m-13 1h3m2 0h2m1 0h3m10 0h2m-37 1h2m8 0h2m4 0h4m3 0h2m-48 1h2m18 0h2m8 0h2m4 0h8m1 0h3m4 0h3m-57 1h2m10 0h6m4 0h2m1 0h2m5 0h2m2 0h2m3 0h6m1 0h2m6 0h2m-58 1h2m1 0h2m6 0h7m14 0h2m7 0h4m4 0h2m4 0h2m5 0h3m10 0h2m-67 1h2m4 0h2m3 0h2m1 0h2m16 0h3m3 0h2m1 0h2m2 0h2m4 0h4m10 0h4m-82 1h2m1 0h2m1 0h5m8 0h3m1 0h2m11 0h2m3 0h8m2 0h2m1 0h4m3 0h2m1 0h3m1 0h2m6 0h4m-78 1h2m15 0h5m1 0h3m1 0h6m9 0h2m8 0h2m7 0h3m8 0h3m4 0h2m-86 1h2m2 0h3m2 0h6m7 0h5m3 0h7m3 0h2m2 0h2m1 0h2m9 0h3m7 0h2m4 0h12m-83 1h2m2 0h5m9 0h10m2 0h2m4 0h2m1 0h3m1 0h2m5 0h2m1 0h11m2 0h3m3 0h4m3 0h2m-88 1h2m7 0h2m5 0h2m1 0h2m3 0h5m3 0h6m3 0h5m1 0h2m7 0h3m1 0h6m1 0h3m2 0h2m10 0h2m2 0h2m5 0h2m-93 1h3m4 0h2m3 0h6m1 0h7m3 0h5m2 0h6m1 0h6m5 0h6m14 0h5m2 0h2m5 0h4m-87 1h11m3 0h6m4 0h6m3 0h3m3 0h6m1 0h2m2 0h2m3 0h6m10 0h9m1 0h9m-98 1h2m2 0h10m2 0h2m5 0h2m1 0h5m3 0h5m1 0h4m9 0h6m1 0h4m2 0h2m1 0h2m8 0h2m6 0h2m1 0h4m1 0h4m4 0h2m-109 1h3m1 0h2m4 0h7m3 0h3m2 0h3m2 0h4m2 0h4m1 0h2m1 0h2m2 0h6m4 0h4m4 0h2m6 0h2m8 0h8m3 0h7m7 0h3m-114 1h4m3 0h2m3 0h8m2 0h3m2 0h2m1 0h8m2 0h4m1 0h2m7 0h2m3 0h5m7 0h2m1 0h2m6 0h5m1 0h4m1 0h7m1 0h2m5 0h2m-109 1h2m1 0h12m2 0h5m2 0h3m1 0h2m1 0h5m9 0h2m4 0h2m3 0h2m1 0h4m4 0h2m1 0h5m6 0h2m8 0h4m9 0h2m1 0h7m-118 1h3m1 0h2m1 0h7m2 0h6m8 0h3m2 0h3m3 0h2m5 0h6m2 0h2m1 0h2m6 0h4m3 0h5m2 0h2m13 0h6m6 0h2m1 0h2m2 0h2m-118 1h3m4 0h6m1 0h9m1 0h2m10 0h2m13 0h3m2 0h3m7 0h2m5 0h10m17 0h3m7 0h2m4 0h2m-111 1h6m2 0h3m5 0h5m7 0h3m11 0h10m12 0h12m10 0h2m1 0h2m1 0h2m1 0h2m3 0h12m-111 1h5m3 0h4m5 0h2m4 0h2m2 0h2m3 0h3m4 0h3m5 0h3m1 0h2m5 0h2m6 0h9m8 0h2m2 0h2m1 0h2m1 0h4m2 0h4m5 0h4m-110 1h2m3 0h5m3 0h2m1 0h3m3 0h2m7 0h5m3 0h2m6 0h2m17 0h3m9 0h4m3 0h4m1 0h5m6 0h2m4 0h4m2 0h2m2 0h2m-121 1h3m6 0h3m5 0h2m1 0h2m7 0h3m5 0h3m5 0h2m3 0h3m2 0h4m10 0h4m3 0h2m3 0h4m3 0h4m9 0h2m6 0h4m-123 1h2m4 0h2m2 0h8m1 0h2m1 0h2m3 0h3m3 0h2m4 0h2m3 0h3m14 0h2m1 0h2m14 0h4m2 0h2m4 0h2m6 0h2m2 0h2m8 0h3m2 0h6m2 0h4m-126 1h2m3 0h6m2 0h4m5 0h5m2 0h8m3 0h4m5 0h2m2 0h2m1 0h4m1 0h2m7 0h2m1 0h2m1 0h2m6 0h4m3 0h2m14 0h2m5 0h5m6 0h2m-126 1h2m3 0h2m1 0h9m1 0h4m3 0h2m3 0h3m4 0h3m1 0h4m4 0h7m7 0h4m3 0h2m3 0h3m7 0h9m1 0h2m1 0h2m2 0h2m6 0h7m1 0h2m3 0h2m-130 1h2m6 0h4m3 0h7m2 0h2m1 0h4m4 0h3m1 0h2m3 0h2m1 0h4m6 0h2m2 0h2m14 0h2m1 0h6m1 0h11m3 0h2m3 0h4m5 0h9m-125 1h4m3 0h6m1 0h2m1 0h2m1 0h2m4 0h12m1 0h3m6 0h2m9 0h5m2 0h2m5 0h2m6 0h5m4 0h3m1 0h2m2 0h5m1 0h11m1 0h7m-125 1h5m3 0h3m1 0h5m3 0h2m2 0h3m1 0h2m1 0h5m1 0h2m1 0h3m2 0h3m10 0h2m1 0h2m2 0h6m6 0h10m2 0h8m1 0h7m1 0h9m1 0h5m4 0h9m1 0h3m-133 1h2m13 0h3m2 0h3m4 0h4m5 0h3m18 0h2m12 0h2m1 0h8m2 0h9m2 0h2m1 0h2m1 0h2m6 0h3m1 0h6m1 0h9m-135 1h4m3 0h2m1 0h2m3 0h3m2 0h2m2 0h2m2 0h3m1 0h8m3 0h2m8 0h5m6 0h3m17 0h2m2 0h4m3 0h4m1 0h2m4 0h2m2 0h2m2 0h4m6 0h8m1 0h4m-138 1h4m1 0h3m1 0h4m8 0h2m7 0h10m3 0h5m15 0h2m1 0h3m12 0h4m1 0h3m2 0h14m4 0h2m2 0h2m9 0h3m1 0h2m1 0h2m8 0h2m-146 1h2m3 0h6m5 0h2m4 0h2m14 0h5m2 0h4m2 0h2m1 0h2m2 0h2m7 0h3m15 0h2m1 0h3m3 0h4m4 0h6m1 0h2m4 0h2m1 0h3m5 0h6m2 0h2m1 0h2m4 0h2m-146 1h5m2 0h9m7 0h2m2 0h2m8 0h10m14 0h2m5 0h2m2 0h2m11 0h3m4 0h2m2 0h2m2 0h3m3 0h4m8 0h7m2 0h6m1 0h3m2 0h2m2 0h4m-143 1h7m1 0h2m1 0h6m6 0h5m1 0h2m8 0h2m9 0h2m2 0h2m7 0h2m1 0h3m5 0h2m7 0h2m7 0h2m4 0h2m2 0h5m2 0h3m7 0h2m5 0h2m2 0h2m6 0h2m-141 1h4m4 0h5m1 0h3m4 0h5m2 0h2m4 0h2m5 0h2m3 0h3m1 0h2m4 0h2m1 0h2m3 0h8m4 0h2m8 0h4m2 0h6m5 0h4m14 0h3m3 0h5m5 0h2m2 0h2m-144 1h2m5 0h2m4 0h5m5 0h2m3 0h5m1 0h2m2 0h6m2 0h3m3 0h2m6 0h4m3 0h2m3 0h2m15 0h2m1 0h8m2 0h2m9 0h3m4 0h6m1 0h6m5 0h2m2 0h3m-146 1h4m1 0h2m1 0h2m6 0h4m1 0h4m4 0h2m1 0h7m2 0h3m3 0h3m4 0h2m5 0h3m5 0h5m13 0h2m1 0h2m2 0h2m3 0h6m1 0h2m3 0h6m3 0h5m2 0h2m10 0h6m-141 1h3m7 0h4m1 0h2m10 0h3m1 0h5m1 0h3m3 0h2m2 0h2m7 0h4m2 0h8m10 0h2m12 0h10m1 0h2m2 0h6m5 0h3m6 0h2m4 0h6m-145 1h6m1 0h2m9 0h4m11 0h8m3 0h2m1 0h4m4 0h4m5 0h2m4 0h2m16 0h4m2 0h2m1 0h2m12 0h4m1 0h3m3 0h7m5 0h2m3 0h6m-145 1h6m1 0h3m7 0h3m1 0h3m8 0h2m6 0h2m4 0h2m4 0h2m1 0h8m10 0h2m5 0h2m4 0h3m1 0h4m1 0h2m1 0h2m9 0h2m3 0h2m1 0h2m6 0h4m1 0h2m1 0h2m1 0h2m2 0h6m-149 1h6m6 0h4m6 0h4m4 0h2m1 0h2m6 0h6m6 0h9m2 0h2m3 0h4m5 0h4m1 0h7m1 0h4m3 0h4m7 0h2m4 0h2m1 0h4m1 0h2m2 0h2m2 0h2m2 0h2m8 0h4m-143 1h5m2 0h2m2 0h2m2 0h2m2 0h2m3 0h2m3 0h3m2 0h2m5 0h4m2 0h2m3 0h5m1 0h2m1 0h5m3 0h2m3 0h2m4 0h4m2 0h2m3 0h7m5 0h4m5 0h5m5 0h4m10 0h6m1 0h2m-152 1h2m9 0h2m4 0h4m1 0h5m9 0h2m12 0h4m1 0h14m10 0h3m4 0h4m1 0h2m3 0h4m1 0h2m6 0h2m7 0h9m1 0h2m1 0h4m7 0h4m3 0h2m-150 1h2m13 0h6m2 0h4m2 0h2m2 0h2m4 0h3m5 0h4m1 0h2m3 0h2m2 0h2m1 0h3m1 0h2m5 0h4m6 0h4m2 0h6m1 0h2m3 0h6m3 0h4m1 0h9m3 0h2m12 0h2m3 0h2m1 0h2m-153 1h2m13 0h10m5 0h3m6 0h6m4 0h6m2 0h2m3 0h2m1 0h2m4 0h2m1 0h2m8 0h2m1 0h3m2 0h7m8 0h2m2 0h2m7 0h7m4 0h2m10 0h6m-150 1h2m12 0h13m3 0h2m5 0h9m3 0h5m2 0h9m5 0h2m1 0h3m4 0h2m2 0h10m2 0h3m4 0h2m1 0h3m5 0h2m19 0h2m1 0h4m7 0h2m-150 1h3m1 0h2m5 0h2m1 0h10m5 0h3m4 0h3m1 0h2m3 0h2m1 0h6m1 0h4m1 0h6m4 0h3m3 0h2m10 0h7m7 0h2m2 0h2m3 0h3m8 0h3m9 0h8m4 0h2m2 0h2m-153 1h2m1 0h3m5 0h2m3 0h2m2 0h2m1 0h2m2 0h3m1 0h2m2 0h7m7 0h3m1 0h2m1 0h3m1 0h2m8 0h2m4 0h2m7 0h6m1 0h2m2 0h2m7 0h7m3 0h4m2 0h2m9 0h2m1 0h6m5 0h2m2 0h2m-153 1h3m3 0h3m4 0h3m1 0h2m2 0h9m8 0h6m10 0h4m1 0h6m1 0h3m7 0h4m7 0h3m1 0h3m7 0h2m2 0h2m4 0h2m4 0h2m1 0h2m2 0h2m2 0h2m2 0h8m3 0h2m1 0h3m3 0h2m-154 1h2m2 0h4m5 0h4m6 0h2m1 0h5m5 0h6m7 0h4m2 0h2m4 0h2m1 0h2m4 0h8m1 0h2m1 0h4m1 0h6m4 0h5m2 0h4m6 0h2m1 0h4m1 0h3m9 0h5m1 0h2m4 0h4m1 0h2m1 0h3m-157 1h2m3 0h2m8 0h3m1 0h3m2 0h4m8 0h4m2 0h2m11 0h3m1 0h8m10 0h2m4 0h7m2 0h2m3 0h2m6 0h5m2 0h9m4 0h3m6 0h2m4 0h4m4 0h7m-146 1h2m5 0h7m14 0h2m4 0h2m3 0h4m9 0h4m9 0h3m5 0h2m2 0h2m1 0h4m3 0h16m5 0h2m3 0h6m5 0h2m1 0h4m2 0h2m3 0h6m-146 1h2m8 0h4m9 0h2m3 0h6m2 0h6m11 0h3m1 0h3m10 0h4m1 0h6m3 0h2m3 0h4m1 0h3m22 0h2m7 0h2m2 0h7m3 0h2m2 0h2m-153 1h4m1 0h3m3 0h2m2 0h2m3 0h2m8 0h3m10 0h2m4 0h6m7 0h2m3 0h2m5 0h2m2 0h3m2 0h3m4 0h5m11 0h2m6 0h2m5 0h2m2 0h2m5 0h3m4 0h7m1 0h5m1 0h2m-143 1h2m1 0h6m3 0h2m2 0h6m9 0h2m8 0h4m3 0h3m2 0h5m5 0h5m2 0h2m6 0h5m12 0h2m8 0h4m1 0h4m4 0h3m1 0h2m1 0h5m6 0h3m1 0h2m-148 1h3m3 0h12m4 0h6m2 0h2m12 0h6m7 0h2m2 0h2m1 0h2m1 0h7m4 0h2m7 0h2m11 0h2m3 0h2m3 0h2m5 0h4m2 0h2m1 0h2m2 0h2m1 0h5m4 0h4m-146 1h3m7 0h5m7 0h2m4 0h3m15 0h6m3 0h5m9 0h2m1 0h2m5 0h8m15 0h4m4 0h4m2 0h10m4 0h2m5 0h2m3 0h2m-142 1h2m3 0h6m6 0h7m1 0h4m14 0h2m4 0h9m3 0h2m2 0h2m2 0h7m3 0h5m3 0h2m4 0h2m5 0h3m3 0h4m1 0h11m1 0h9m3 0h3m5 0h2m-139 1h7m9 0h2m4 0h4m4 0h2m2 0h2m6 0h2m3 0h2m1 0h2m12 0h5m3 0h5m4 0h2m20 0h2m3 0h2m3 0h2m2 0h4m1 0h3m1 0h2m2 0h2m1 0h2m-137 1h4m1 0h3m2 0h2m1 0h2m1 0h9m5 0h4m1 0h4m1 0h4m1 0h5m14 0h6m5 0h11m14 0h2m2 0h5m2 0h2m8 0h2m2 0h7m-133 1h6m1 0h4m7 0h8m2 0h3m2 0h4m6 0h2m1 0h4m6 0h2m2 0h3m3 0h3m1 0h4m2 0h11m11 0h2m1 0h4m3 0h7m3 0h2m7 0h2m4 0h4m2 0h2m-144 1h2m3 0h2m2 0h4m11 0h8m1 0h3m4 0h2m6 0h8m3 0h2m3 0h2m2 0h4m4 0h6m4 0h2m5 0h3m2 0h2m2 0h5m2 0h5m2 0h7m10 0h3m3 0h2m2 0h2m-144 1h4m3 0h3m4 0h2m3 0h9m1 0h2m18 0h6m2 0h2m1 0h2m5 0h3m3 0h2m1 0h4m2 0h6m3 0h2m4 0h2m3 0h4m3 0h12m10 0h10m1 0h2m-144 1h3m2 0h2m3 0h2m8 0h4m3 0h2m3 0h2m5 0h2m1 0h7m2 0h2m1 0h6m7 0h5m4 0h4m4 0h3m3 0h16m5 0h2m4 0h4m11 0h2m4 0h2m-139 1h2m3 0h2m2 0h2m1 0h2m4 0h3m2 0h2m1 0h2m7 0h2m1 0h8m5 0h4m1 0h2m1 0h4m1 0h2m4 0h9m8 0h3m1 0h2m11 0h3m2 0h2m1 0h11m2 0h8m1 0h4m-135 1h4m4 0h11m3 0h3m1 0h2m3 0h2m1 0h3m6 0h2m5 0h2m1 0h4m1 0h2m1 0h10m5 0h2m5 0h4m1 0h2m8 0h3m3 0h4m7 0h5m6 0h10m3 0h2m-138 1h4m2 0h2m2 0h4m7 0h2m4 0h5m8 0h2m5 0h3m5 0h4m4 0h5m13 0h4m20 0h2m5 0h6m7 0h6m1 0h2m-129 1h2m4 0h9m8 0h7m2 0h5m4 0h13m7 0h3m2 0h6m6 0h3m6 0h2m1 0h4m11 0h5m2 0h2m9 0h5m-134 1h2m3 0h3m5 0h3m3 0h3m3 0h2m1 0h2m4 0h2m12 0h3m1 0h4m5 0h2m4 0h6m2 0h2m5 0h8m1 0h6m2 0h2m10 0h7m1 0h2m6 0h2m1 0h4m-120 1h3m3 0h2m4 0h2m1 0h2m5 0h6m2 0h7m1 0h7m8 0h4m2 0h2m12 0h2m2 0h2m2 0h6m8 0h7m5 0h3m6 0h4m-133 1h2m20 0h2m1 0h2m4 0h4m4 0h4m2 0h2m1 0h2m1 0h2m1 0h7m7 0h3m3 0h8m10 0h5m3 0h2m2 0h2m1 0h2m1 0h5m5 0h2m1 0h2m6 0h2m-135 1h3m7 0h2m2 0h5m3 0h4m6 0h3m1 0h3m2 0h6m3 0h4m1 0h2m3 0h4m4 0h2m7 0h4m4 0h2m1 0h3m3 0h5m3 0h4m5 0h4m4 0h3m2 0h5m3 0h5m-129 1h3m2 0h2m6 0h2m7 0h2m4 0h5m2 0h5m3 0h2m2 0h4m2 0h3m2 0h3m9 0h3m1 0h3m1 0h3m5 0h4m2 0h2m3 0h2m2 0h9m6 0h2m8 0h2m-125 1h2m2 0h2m3 0h2m1 0h4m5 0h4m1 0h5m1 0h5m3 0h5m4 0h4m4 0h2m2 0h7m2 0h2m2 0h2m1 0h2m2 0h4m1 0h2m2 0h2m2 0h4m1 0h4m1 0h2m1 0h2m6 0h6m1 0h2m-127 1h4m6 0h10m1 0h2m1 0h4m5 0h4m1 0h3m2 0h4m2 0h8m6 0h2m13 0h7m1 0h2m3 0h4m4 0h4m4 0h2m1 0h2m10 0h4m-116 1h2m1 0h3m1 0h2m1 0h2m2 0h3m2 0h2m1 0h3m4 0h2m3 0h3m7 0h3m10 0h2m2 0h3m5 0h4m5 0h2m2 0h2m4 0h4m9 0h5m3 0h6m-120 1h2m4 0h4m2 0h2m1 0h2m5 0h8m6 0h3m6 0h3m3 0h2m8 0h2m4 0h4m6 0h2m3 0h2m3 0h5m1 0h2m1 0h5m3 0h2m2 0h3m2 0h4m7 0h2m-127 1h3m3 0h4m1 0h2m1 0h3m7 0h5m13 0h4m7 0h2m8 0h9m1 0h2m3 0h2m5 0h3m2 0h2m6 0h6m8 0h2m5 0h2m2 0h2m-118 1h7m2 0h2m7 0h3m1 0h2m6 0h8m1 0h2m2 0h2m4 0h3m14 0h3m2 0h2m10 0h4m3 0h3m1 0h4m4 0h7m1 0h2m-113 1h4m1 0h4m6 0h2m2 0h3m10 0h5m3 0h7m4 0h4m4 0h4m4 0h3m7 0h4m3 0h2m2 0h5m5 0h5m8 0h4m-116 1h8m7 0h5m2 0h6m5 0h2m4 0h2m1 0h5m3 0h5m6 0h2m3 0h3m10 0h3m3 0h2m3 0h3m5 0h2m1 0h2m7 0h4m1 0h2m-116 1h11m3 0h2m1 0h2m2 0h5m2 0h2m9 0h2m1 0h4m4 0h11m1 0h2m4 0h3m13 0h2m1 0h4m12 0h2m6 0h4m-118 1h2m2 0h3m3 0h2m2 0h7m4 0h3m3 0h3m2 0h2m5 0h4m7 0h7m1 0h2m1 0h11m2 0h2m1 0h4m3 0h2m2 0h4m8 0h2m4 0h6m-114 1h4m1 0h14m9 0h2m10 0h2m5 0h2m1 0h4m2 0h3m1 0h8m2 0h2m3 0h3m2 0h2m6 0h5m6 0h2m1 0h3m5 0h3m-113 1h5m1 0h8m1 0h4m2 0h8m2 0h2m3 0h2m2 0h6m7 0h2m2 0h2m5 0h4m2 0h15m1 0h2m4 0h6m1 0h3m1 0h4m2 0h2m1 0h2m-115 1h2m5 0h14m2 0h2m2 0h2m1 0h7m1 0h4m1 0h4m5 0h4m8 0h4m6 0h4m1 0h2m6 0h2m1 0h5m1 0h2m2 0h2m1 0h9m1 0h2m-113 1h2m3 0h2m2 0h7m3 0h2m5 0h8m1 0h9m6 0h6m3 0h4m6 0h2m1 0h4m5 0h2m9 0h2m4 0h4m3 0h2m-109 1h2m4 0h2m1 0h5m1 0h3m1 0h2m1 0h2m1 0h2m3 0h19m5 0h2m3 0h6m1 0h2m6 0h6m2 0h2m2 0h2m2 0h2m4 0h2m2 0h2m6 0h3m-101 1h7m4 0h2m3 0h2m1 0h6m5 0h2m2 0h5m1 0h2m1 0h2m3 0h2m3 0h4m4 0h2m2 0h2m1 0h5m6 0h6m13 0h2m-104 1h2m2 0h6m1 0h2m1 0h4m4 0h7m3 0h2m2 0h12m3 0h3m11 0h2m2 0h6m1 0h3m6 0h4m9 0h3m1 0h2m-103 1h2m2 0h3m1 0h6m4 0h2m1 0h5m4 0h4m2 0h9m13 0h2m6 0h2m2 0h3m2 0h2m3 0h2m1 0h2m8 0h3m2 0h3m-100 1h4m1 0h2m4 0h2m7 0h8m1 0h3m5 0h9m6 0h2m2 0h3m6 0h3m4 0h2m1 0h12m4 0h4m1 0h5m-104 1h2m9 0h2m1 0h5m5 0h9m5 0h2m6 0h4m13 0h2m3 0h2m1 0h2m16 0h2m1 0h3m1 0h2m3 0h2m4 0h2m-111 1h5m1 0h2m5 0h2m2 0h2m3 0h2m4 0h7m2 0h9m2 0h2m16 0h2m1 0h8m1 0h2m3 0h4m1 0h2m5 0h2m1 0h7m-107 1h3m3 0h2m1 0h6m9 0h3m9 0h3m1 0h4m4 0h2m5 0h4m6 0h2m1 0h2m2 0h3m1 0h7m2 0h4m3 0h2m6 0h4m1 0h2m1 0h3m-108 1h2m16 0h4m7 0h2m2 0h7m22 0h3m3 0h6m2 0h4m6 0h3m1 0h2m4 0h6m-103 1h2m27 0h8m1 0h5m3 0h5m2 0h2m13 0h6m4 0h2m1 0h2m2 0h3m3 0h5m1 0h5m-104 1h4m2 0h2m2 0h4m4 0h4m11 0h7m2 0h8m6 0h2m7 0h10m2 0h3m3 0h5m6 0h3m2 0h3m1 0h3m3 0h2m-107 1h2m3 0h3m2 0h8m8 0h2m1 0h2m1 0h2m1 0h2m3 0h6m1 0h2m3 0h2m2 0h2m5 0h2m3 0h4m1 0h5m2 0h4m5 0h2m3 0h2m5 0h3m-104 1h4m1 0h4m13 0h2m4 0h2m8 0h2m5 0h3m4 0h6m8 0h6m9 0h2m2 0h4m2 0h2m1 0h2m5 0h2m1 0h2m-102 1h2m2 0h2m10 0h2m4 0h2m8 0h3m7 0h2m4 0h2m1 0h2m16 0h2m8 0h2m1 0h5m3 0h6m-100 1h2m2 0h2m3 0h2m10 0h2m1 0h4m14 0h2m7 0h7m1 0h2m3 0h6m7 0h2m1 0h5m10 0h5m-99 1h2m2 0h2m9 0h8m10 0h2m3 0h8m2 0h6m5 0h2m1 0h8m3 0h4m4 0h2m5 0h2m5 0h2m-97 1h10m6 0h7m15 0h5m4 0h2m2 0h3m4 0h2m1 0h4m2 0h2m4 0h4m1 0h5m-82 1h2m3 0h11m2 0h4m16 0h2m4 0h6m1 0h2m9 0h2m1 0h2m4 0h4m5 0h3m-68 1h4m8 0h2m2 0h2m3 0h2m9 0h2m1 0h2m4 0h2m1 0h2m1 0h4m6 0h3m4 0h4m-60 1h4m1 0h4m4 0h4m8 0h3m1 0h2m3 0h2m3 0h4m8 0h2m3 0h2m2 0h3m-67 1h2m3 0h3m5 0h2m14 0h2m8 0h9m1 0h2m1 0h4m2 0h6m-74 1h4m6 0h2m1 0h2m6 0h2m2 0h2m14 0h2m7 0h2m3 0h3m5 0h2m6 0h2m2 0h4m-77 1h3m1 0h3m6 0h3m3 0h5m3 0h2m16 0h5m7 0h2m2 0h2m2 0h2m2 0h2m-75 1h6m2 0h3m6 0h9m1 0h2m2 0h5m11 0h4m4 0h4m1 0h8m1 0h2m6 0h2m-78 1h9m13 0h5m1 0h3m1 0h4m4 0h2m6 0h3m1 0h2m1 0h4m6 0h3m7 0h2m-76 1h2m13 0h4m1 0h2m2 0h8m4 0h2m1 0h4m3 0h6m3 0h5m2 0h2m-50 1h7m1 0h2m1 0h4m2 0h4m1 0h5m6 0h2m11 0h2m1 0h2m-52 1h8m10 0h2m4 0h6m5 0h2m3 0h11m-36 1h3m1 0h2m3 0h2m2 0h2m5 0h2m1 0h2m2 0h2m1 0h4m3 0h2m-43 1h6m3 0h6m15 0h9m-39 1h8m2 0h2m2 0h4m6 0h2m11 0h2m-41 1h2m2 0h5m1 0h4m23 0h5m-37 1h2m5 0h3m-12 1h2m16 1h2" stroke="#683A5E" stroke-width="2" fill="none"/><path transform="translate(11.5 253) scale(0.5)" d="M332 105h2m-8 2h3m1 0h3m-10 1h2m4 0h2m-6 1h4m3 0h2m-8 1h2m5 0h2m-22 1h2m11 0h3m-16 1h2m9 0h3m1 0h5m-24 1h2m15 0h3m2 0h4m-26 1h5m2 0h3m8 0h2m-21 1h2m1 0h2m2 0h5m6 0h2m5 0h2m13 0h2m-35 1h9m2 0h2m6 0h4m6 0h2m3 0h2m-44 1h2m1 0h2m2 0h2m2 0h6m11 0h2m3 0h4m2 0h2m-43 1h2m6 0h2m2 0h8m4 0h2m2 0h4m1 0h4m1 0h2m4 0h3m-38 1h5m2 0h6m4 0h4m3 0h7m1 0h2m-37 1h3m2 0h4m1 0h2m1 0h9m1 0h4m3 0h2m1 0h4m-37 1h2m4 0h6m3 0h2m1 0h2m2 0h7m5 0h6m-46 1h2m7 0h5m2 0h6m7 0h4m7 0h2m-39 1h14m11 0h2m1 0h2m8 0h4m-34 1h3m3 0h2m7 0h2m1 0h2m12 0h2m-43 1h2m1 0h2m1 0h6m1 0h2m7 0h2m1 0h4m2 0h2m-35 1h2m1 0h3m2 0h3m1 0h2m1 0h2m2 0h5m2 0h4m3 0h2m9 0h2m-48 1h3m2 0h4m1 0h5m2 0h3m1 0h4m3 0h3m1 0h2m1 0h3m2 0h2m-40 1h6m6 0h4m1 0h2m2 0h3m15 0h3m3 0h4m-55 1h2m3 0h5m2 0h2m6 0h8m6 0h2m4 0h2m2 0h3m-47 1h2m3 0h8m1 0h3m5 0h7m3 0h2m5 0h2m3 0h2m4 0h7m-55 1h2m1 0h6m10 0h7m4 0h3m4 0h2m3 0h2m4 0h2m1 0h2m-56 1h2m1 0h2m5 0h2m5 0h2m3 0h2m5 0h3m13 0h4m3 0h5m-54 1h4m2 0h2m17 0h2m3 0h2m1 0h3m5 0h3m5 0h3m-45 1h4m3 0h2m1 0h2m7 0h3m9 0h2m4 0h2m5 0h4m-56 1h5m2 0h4m1 0h2m11 0h3m2 0h8m5 0h2m2 0h2m-27 1h2m4 0h6m1 0h2m9 0h2m7 0h3m-58 1h4m6 0h3m6 0h2m2 0h2m2 0h6m2 0h2m9 0h2m5 0h2m-56 1h6m11 0h2m7 0h9m1 0h4m2 0h2m11 0h2m-56 1h3m12 0h2m7 0h2m6 0h2m1 0h2m3 0h4m6 0h4m-56 1h5m3 0h2m3 0h2m3 0h2m9 0h2m6 0h2m5 0h2m17 0h2m-64 1h2m26 0h3m4 0h11m2 0h2m-53 1h5m10 0h2m14 0h2m1 0h6m1 0h4m1 0h2m2 0h4m2 0h3m1 0h2m3 0h2m-65 1h2m2 0h3m24 0h9m4 0h2m6 0h2m2 0h4m3 0h2m-65 1h2m8 0h3m1 0h2m9 0h2m11 0h2m7 0h4m6 0h2m-62 1h3m3 0h4m3 0h3m3 0h5m6 0h2m10 0h2m1 0h3m3 0h5m2 0h3m-62 1h5m3 0h4m2 0h7m2 0h3m3 0h2m12 0h4m7 0h6m-62 1h8m1 0h2m5 0h4m1 0h4m4 0h2m5 0h2m7 0h3m5 0h5m3 0h5m-67 1h6m6 0h3m1 0h7m2 0h2m6 0h6m4 0h5m7 0h12m-64 1h4m7 0h18m5 0h4m3 0h5m3 0h2m1 0h3m1 0h4m-90 1h2m13 0h5m6 0h2m4 0h2m11 0h5m9 0h2m3 0h9m4 0h2m2 0h3m16 0h2m-120 1h4m19 0h2m22 0h2m15 0h4m3 0h2m1 0h2m2 0h2m3 0h9m2 0h2m6 0h3m3 0h2m7 0h2m-119 1h2m1 0h2m8 0h5m2 0h4m1 0h2m4 0h4m14 0h2m13 0h2m4 0h5m4 0h15m3 0h2m2 0h3m6 0h2m6 0h3m-132 1h2m10 0h4m9 0h4m1 0h7m3 0h2m1 0h2m1 0h2m8 0h5m4 0h3m2 0h3m1 0h7m4 0h2m3 0h3m2 0h3m5 0h2m1 0h3m1 0h6m7 0h2m1 0h2m-127 1h5m3 0h3m2 0h2m5 0h4m8 0h5m1 0h4m2 0h3m1 0h2m3 0h3m3 0h7m3 0h3m1 0h4m3 0h2m4 0h6m3 0h8m3 0h6m4 0h2m3 0h2m5 0h4m-135 1h3m1 0h2m7 0h2m1 0h2m14 0h5m5 0h6m2 0h3m8 0h2m3 0h2m1 0h4m1 0h2m3 0h2m1 0h5m6 0h3m1 0h2m3 0h2m5 0h9m6 0h4m2 0h2m-143 1h2m7 0h3m3 0h5m15 0h2m5 0h2m6 0h2m1 0h10m4 0h2m6 0h5m9 0h4m1 0h2m2 0h4m1 0h3m1 0h3m1 0h2m3 0h2m1 0h2m3 0h7m2 0h2m3 0h2m-141 1h2m7 0h4m3 0h2m7 0h3m1 0h2m5 0h3m15 0h3m1 0h2m2 0h5m2 0h2m4 0h2m2 0h2m2 0h2m5 0h5m2 0h2m1 0h3m1 0h2m2 0h3m3 0h7m3 0h4m3 0h2m6 0h2m-143 1h4m9 0h2m4 0h2m3 0h2m10 0h3m5 0h3m1 0h2m6 0h12m6 0h2m10 0h2m7 0h3m2 0h2m2 0h4m1 0h4m4 0h7m2 0h2m1 0h3m6 0h2m1 0h2m-146 1h4m1 0h2m7 0h11m13 0h2m7 0h2m2 0h2m4 0h5m2 0h5m1 0h2m2 0h9m1 0h2m2 0h2m5 0h6m5 0h2m7 0h4m1 0h2m1 0h2m1 0h5m1 0h2m2 0h9m-147 1h2m1 0h5m6 0h2m5 0h2m2 0h6m3 0h2m4 0h4m8 0h4m1 0h8m2 0h3m2 0h3m1 0h2m1 0h6m4 0h8m2 0h3m1 0h9m8 0h6m1 0h2m2 0h3m1 0h2m3 0h6m2 0h2m2 0h6m-156 1h5m5 0h2m4 0h2m2 0h2m1 0h2m1 0h4m3 0h3m2 0h4m1 0h3m2 0h9m2 0h7m1 0h2m2 0h6m3 0h5m3 0h2m1 0h4m1 0h2m2 0h2m1 0h11m6 0h11m19 0h2m-150 1h2m5 0h2m11 0h2m2 0h4m2 0h4m2 0h3m6 0h2m2 0h4m2 0h2m2 0h2m2 0h3m2 0h5m6 0h5m2 0h2m1 0h2m2 0h13m1 0h2m1 0h4m7 0h5m15 0h2m-135 1h2m4 0h2m1 0h2m10 0h2m2 0h2m1 0h4m2 0h2m1 0h4m4 0h5m2 0h6m3 0h2m11 0h4m2 0h5m1 0h3m1 0h8m2 0h2m13 0h5m10 0h2m-141 1h2m1 0h2m5 0h2m3 0h5m3 0h5m1 0h3m3 0h6m1 0h6m1 0h2m1 0h2m4 0h2m1 0h6m1 0h2m13 0h2m4 0h2m1 0h2m2 0h2m3 0h2m5 0h2m12 0h4m8 0h2m4 0h2m10 0h2m-157 1h2m3 0h6m8 0h5m7 0h5m3 0h7m2 0h7m3 0h4m1 0h11m3 0h2m7 0h2m5 0h2m5 0h7m1 0h4m1 0h3m10 0h3m7 0h3m6 0h3m2 0h2m1 0h4m-157 1h9m4 0h2m6 0h2m3 0h2m1 0h4m7 0h6m2 0h2m2 0h2m5 0h3m2 0h11m2 0h3m7 0h2m4 0h2m2 0h4m3 0h3m6 0h9m1 0h5m1 0h4m2 0h3m2 0h2m5 0h2m2 0h2m3 0h2m-162 1h3m1 0h8m1 0h3m2 0h2m3 0h6m1 0h4m2 0h3m6 0h2m2 0h3m1 0h12m3 0h2m1 0h6m1 0h8m3 0h5m1 0h4m5 0h2m7 0h6m1 0h2m1 0h5m1 0h2m1 0h2m8 0h5m5 0h4m1 0h5m-165 1h2m2 0h8m3 0h5m2 0h7m8 0h2m1 0h2m2 0h5m3 0h2m1 0h2m1 0h5m2 0h4m7 0h5m4 0h2m1 0h3m1 0h5m1 0h5m1 0h2m1 0h3m13 0h6m6 0h2m3 0h2m1 0h8m3 0h3m-156 1h8m3 0h2m8 0h2m1 0h3m4 0h2m3 0h2m2 0h7m5 0h2m4 0h10m8 0h7m1 0h3m1 0h4m2 0h2m1 0h4m2 0h2m5 0h2m11 0h2m2 0h2m2 0h2m1 0h3m1 0h2m1 0h2m2 0h4m5 0h4m3 0h2m2 0h2m-167 1h4m1 0h3m5 0h5m3 0h8m3 0h2m11 0h2m5 0h3m2 0h2m1 0h6m11 0h17m4 0h3m1 0h6m5 0h7m6 0h5m1 0h2m1 0h3m9 0h2m2 0h4m1 0h2m-155 1h2m2 0h2m5 0h4m1 0h6m3 0h2m2 0h3m6 0h2m5 0h2m2 0h5m1 0h8m4 0h2m3 0h2m5 0h2m2 0h2m1 0h2m1 0h2m1 0h3m4 0h2m3 0h5m2 0h4m1 0h2m3 0h6m1 0h12m2 0h2m3 0h3m2 0h5m-159 1h8m4 0h4m4 0h2m6 0h2m1 0h3m4 0h4m5 0h2m3 0h2m4 0h2m12 0h2m8 0h4m2 0h2m1 0h4m4 0h4m7 0h11m4 0h2m2 0h4m1 0h2m1 0h4m1 0h2m2 0h4m2 0h6m-159 1h3m2 0h4m2 0h2m3 0h3m1 0h6m1 0h3m7 0h4m1 0h2m4 0h2m5 0h3m1 0h3m2 0h7m4 0h4m3 0h5m2 0h3m1 0h4m1 0h2m1 0h10m2 0h4m6 0h4m11 0h2m1 0h2m4 0h6m3 0h3m1 0h2m-163 1h2m4 0h5m8 0h2m9 0h2m1 0h3m4 0h2m2 0h4m9 0h3m2 0h5m2 0h2m1 0h9m8 0h13m5 0h6m3 0h2m4 0h3m2 0h2m5 0h2m9 0h2m1 0h2m1 0h2m6 0h5m-157 1h2m1 0h2m7 0h6m6 0h2m3 0h2m4 0h2m14 0h3m2 0h2m6 0h8m1 0h2m1 0h2m6 0h2m1 0h2m2 0h3m7 0h6m2 0h2m5 0h5m1 0h2m6 0h2m2 0h4m1 0h2m11 0h5m-158 1h2m7 0h2m1 0h7m2 0h5m3 0h2m1 0h2m5 0h4m16 0h2m6 0h12m4 0h7m1 0h2m1 0h2m9 0h2m2 0h4m5 0h2m6 0h2m1 0h3m1 0h5m7 0h2m2 0h2m3 0h7m-157 1h2m2 0h2m1 0h6m2 0h4m7 0h4m5 0h3m8 0h7m5 0h4m3 0h5m1 0h8m2 0h2m1 0h2m2 0h4m1 0h4m3 0h4m1 0h3m1 0h5m1 0h2m5 0h6m1 0h2m1 0h2m11 0h2m1 0h4m1 0h3m-151 1h4m2 0h10m3 0h2m1 0h2m5 0h4m10 0h4m1 0h7m2 0h17m4 0h7m1 0h2m7 0h2m1 0h2m1 0h2m2 0h8m10 0h6m10 0h5m1 0h2m2 0h2m-168 1h2m6 0h2m15 0h4m3 0h2m2 0h5m7 0h3m8 0h9m3 0h2m8 0h2m5 0h2m1 0h2m1 0h2m3 0h6m12 0h2m5 0h5m3 0h2m3 0h2m1 0h2m1 0h2m17 0h2m1 0h3m-160 1h2m6 0h2m6 0h2m2 0h8m3 0h2m4 0h6m9 0h2m1 0h2m2 0h2m1 0h2m5 0h6m5 0h7m2 0h3m4 0h2m5 0h2m10 0h2m2 0h4m1 0h2m3 0h4m4 0h4m3 0h2m8 0h2m2 0h2m-168 1h6m5 0h2m3 0h3m6 0h4m2 0h4m14 0h2m5 0h4m8 0h4m4 0h10m2 0h5m2 0h5m9 0h3m12 0h9m3 0h6m2 0h2m8 0h4m3 0h2m2 0h6m-167 1h3m1 0h2m8 0h4m1 0h2m6 0h6m10 0h2m15 0h3m5 0h7m2 0h6m9 0h2m1 0h5m5 0h2m15 0h2m1 0h4m1 0h2m2 0h2m2 0h2m12 0h2m5 0h3m-166 1h2m3 0h3m6 0h4m1 0h2m1 0h5m1 0h2m2 0h5m1 0h2m7 0h3m3 0h6m7 0h4m2 0h6m4 0h2m1 0h4m1 0h2m4 0h3m21 0h7m1 0h2m2 0h3m2 0h4m13 0h6m1 0h2m-162 1h4m8 0h12m4 0h2m2 0h5m8 0h2m5 0h3m9 0h3m1 0h2m1 0h6m5 0h7m10 0h2m1 0h6m10 0h8m3 0h2m1 0h2m2 0h2m5 0h2m1 0h2m1 0h2m5 0h4m1 0h5m-165 1h2m2 0h2m5 0h16m2 0h5m1 0h4m8 0h7m7 0h2m6 0h4m8 0h7m2 0h2m2 0h2m8 0h6m1 0h5m1 0h2m1 0h2m7 0h4m1 0h2m3 0h2m7 0h2m2 0h4m6 0h2m2 0h4m-161 1h5m1 0h2m1 0h2m1 0h2m2 0h7m8 0h3m2 0h2m1 0h4m6 0h2m1 0h4m6 0h4m8 0h2m2 0h4m12 0h6m7 0h7m4 0h4m2 0h2m6 0h2m2 0h6m5 0h2m8 0h2m-158 1h5m1 0h10m2 0h4m3 0h2m1 0h2m3 0h4m13 0h5m14 0h4m6 0h5m9 0h3m11 0h2m6 0h2m1 0h5m2 0h3m3 0h2m2 0h4m2 0h2m3 0h2m6 0h4m-163 1h2m3 0h2m1 0h2m8 0h2m1 0h5m2 0h2m2 0h2m6 0h2m4 0h3m5 0h5m5 0h2m2 0h4m4 0h3m2 0h2m5 0h2m5 0h8m4 0h6m12 0h11m1 0h2m1 0h7m16 0h2m-166 1h3m21 0h7m1 0h3m11 0h7m3 0h2m2 0h9m1 0h2m3 0h3m10 0h2m5 0h3m6 0h2m3 0h4m4 0h2m12 0h4m1 0h2m5 0h2m1 0h4m4 0h2m6 0h2m-163 1h2m1 0h2m2 0h7m4 0h2m3 0h12m11 0h2m3 0h2m1 0h2m1 0h4m2 0h3m4 0h2m2 0h2m5 0h4m2 0h2m9 0h2m3 0h2m2 0h4m1 0h2m3 0h2m7 0h2m2 0h4m5 0h3m3 0h2m1 0h3m-145 1h6m1 0h5m1 0h3m5 0h3m12 0h5m1 0h2m2 0h2m1 0h2m7 0h9m10 0h9m1 0h2m3 0h3m1 0h8m3 0h2m5 0h8m1 0h2m1 0h2m1 0h4m1 0h2m6 0h7m1 0h2m1 0h2m-159 1h2m1 0h5m3 0h5m3 0h3m1 0h7m7 0h2m2 0h2m3 0h2m3 0h6m1 0h4m2 0h3m3 0h4m2 0h5m2 0h2m2 0h2m2 0h2m1 0h2m4 0h4m1 0h2m1 0h2m10 0h2m1 0h2m4 0h2m2 0h2m1 0h10m4 0h4m3 0h2m-155 1h5m5 0h4m1 0h9m3 0h2m3 0h6m2 0h3m1 0h4m2 0h5m3 0h5m1 0h7m5 0h2m3 0h5m7 0h4m2 0h2m4 0h3m5 0h2m1 0h2m1 0h3m1 0h11m3 0h2m2 0h4m3 0h2m3 0h2m-160 1h2m4 0h4m2 0h7m2 0h2m15 0h4m15 0h4m4 0h6m1 0h2m2 0h2m4 0h6m1 0h3m7 0h2m2 0h2m4 0h9m8 0h2m7 0h4m5 0h2m1 0h2m1 0h4m5 0h2m-156 1h4m6 0h2m3 0h2m11 0h2m3 0h5m3 0h3m1 0h2m7 0h4m3 0h10m1 0h2m5 0h4m1 0h3m5 0h9m2 0h2m1 0h2m4 0h2m8 0h3m2 0h2m1 0h2m1 0h2m4 0h4m2 0h3m-146 1h4m2 0h3m1 0h3m1 0h3m5 0h2m3 0h2m1 0h2m1 0h3m1 0h7m6 0h5m6 0h5m11 0h2m3 0h2m6 0h9m3 0h2m1 0h2m2 0h2m3 0h2m7 0h5m9 0h4m3 0h4m-147 1h5m2 0h9m7 0h3m2 0h2m1 0h2m1 0h4m1 0h9m7 0h4m1 0h4m2 0h2m1 0h5m1 0h5m5 0h5m1 0h7m4 0h2m5 0h2m7 0h6m3 0h6m3 0h4m3 0h2m1 0h5m-148 1h9m4 0h3m2 0h4m3 0h2m2 0h9m6 0h2m11 0h2m4 0h6m2 0h2m13 0h3m1 0h2m2 0h7m7 0h2m2 0h2m3 0h14m7 0h2m4 0h2m-153 1h4m6 0h2m4 0h3m1 0h4m1 0h2m1 0h2m3 0h9m1 0h6m1 0h3m1 0h2m3 0h2m6 0h2m1 0h5m1 0h4m8 0h5m2 0h4m1 0h3m1 0h2m4 0h2m2 0h4m2 0h2m4 0h4m1 0h4m2 0h2m2 0h7m1 0h3m2 0h2m-148 1h5m2 0h7m1 0h2m10 0h9m2 0h2m1 0h8m6 0h2m2 0h2m5 0h2m4 0h5m2 0h2m2 0h2m4 0h2m1 0h4m2 0h2m9 0h2m13 0h3m9 0h8m3 0h2m3 0h2m-156 1h6m2 0h3m3 0h2m2 0h2m8 0h6m1 0h2m4 0h9m1 0h2m4 0h2m4 0h3m2 0h2m1 0h2m4 0h2m8 0h2m6 0h2m3 0h5m1 0h2m4 0h2m3 0h2m5 0h6m7 0h2m3 0h2m2 0h2m-148 1h2m1 0h2m1 0h12m3 0h3m3 0h2m2 0h3m3 0h3m3 0h8m10 0h2m1 0h7m5 0h8m2 0h2m2 0h2m1 0h7m1 0h5m5 0h4m4 0h5m1 0h5m2 0h7m4 0h6m-152 1h2m8 0h3m2 0h4m3 0h2m11 0h2m2 0h6m7 0h7m7 0h2m2 0h2m6 0h5m15 0h5m1 0h3m4 0h7m5 0h2m3 0h10m1 0h2m4 0h3m2 0h2m-153 1h2m3 0h2m6 0h5m5 0h4m8 0h7m2 0h6m1 0h2m2 0h5m5 0h2m2 0h2m3 0h2m6 0h3m6 0h2m8 0h5m2 0h2m1 0h5m1 0h3m3 0h5m4 0h4m1 0h2m1 0h4m12 0h3m-153 1h8m1 0h7m1 0h2m1 0h4m5 0h3m2 0h2m1 0h4m10 0h2m1 0h3m1 0h2m3 0h7m6 0h4m2 0h2m9 0h3m3 0h2m9 0h3m5 0h2m1 0h2m6 0h5m2 0h2m7 0h2m-142 1h2m3 0h4m1 0h13m5 0h2m1 0h6m2 0h11m2 0h2m12 0h2m3 0h2m3 0h2m2 0h4m27 0h6m1 0h6m5 0h6m5 0h3m-146 1h2m3 0h2m1 0h2m3 0h2m1 0h8m7 0h4m4 0h2m4 0h2m2 0h3m3 0h2m9 0h2m2 0h3m2 0h2m3 0h2m17 0h4m10 0h2m1 0h7m5 0h11m1 0h2m2 0h2m-152 1h2m1 0h2m7 0h4m1 0h6m1 0h6m1 0h3m2 0h2m2 0h9m7 0h5m1 0h6m2 0h2m1 0h6m1 0h2m2 0h3m24 0h2m6 0h2m2 0h2m2 0h3m1 0h2m7 0h2m6 0h2m4 0h2m-155 1h6m5 0h3m3 0h5m1 0h2m8 0h5m5 0h2m10 0h2m3 0h4m8 0h6m1 0h3m2 0h2m1 0h2m3 0h4m22 0h2m1 0h4m1 0h4m7 0h4m9 0h4m-155 1h2m6 0h3m2 0h3m1 0h7m2 0h2m3 0h4m3 0h4m4 0h3m2 0h2m2 0h2m3 0h5m1 0h3m5 0h3m2 0h8m4 0h2m2 0h4m3 0h2m7 0h5m1 0h3m1 0h3m3 0h4m4 0h6m12 0h3m-150 1h2m3 0h4m4 0h3m1 0h2m8 0h2m3 0h4m8 0h2m4 0h2m4 0h2m1 0h6m7 0h7m8 0h4m1 0h2m3 0h2m4 0h2m2 0h3m1 0h10m10 0h7m-143 1h3m4 0h4m1 0h8m11 0h6m2 0h7m1 0h5m11 0h2m1 0h4m5 0h2m3 0h3m1 0h2m2 0h4m1 0h2m1 0h4m1 0h2m3 0h7m1 0h4m2 0h7m10 0h2m2 0h2m-139 1h2m1 0h7m1 0h5m10 0h6m3 0h3m4 0h3m3 0h4m9 0h3m1 0h3m7 0h9m3 0h13m2 0h6m7 0h5m2 0h2m11 0h6m2 0h2m-139 1h2m12 0h2m3 0h2m1 0h8m4 0h4m4 0h3m4 0h2m3 0h8m12 0h2m3 0h13m5 0h7m3 0h5m3 0h4m9 0h4m2 0h6m1 0h3m-145 1h2m9 0h2m1 0h3m11 0h2m7 0h8m2 0h7m4 0h4m1 0h2m10 0h4m3 0h4m1 0h7m6 0h4m1 0h2m3 0h3m7 0h2m10 0h2m1 0h5m-132 1h4m3 0h2m3 0h2m2 0h2m3 0h3m4 0h7m2 0h7m1 0h10m9 0h2m2 0h3m4 0h10m6 0h5m3 0h2m1 0h4m1 0h6m2 0h2m2 0h2m4 0h7m-129 1h6m2 0h4m6 0h2m9 0h2m10 0h2m4 0h11m3 0h8m4 0h3m1 0h3m3 0h2m7 0h5m1 0h6m1 0h6m5 0h3m4 0h2m2 0h5m-131 1h3m1 0h4m5 0h5m4 0h2m7 0h2m3 0h2m3 0h2m4 0h2m3 0h4m5 0h4m2 0h2m1 0h3m2 0h2m1 0h2m5 0h2m1 0h3m1 0h2m1 0h6m10 0h2m2 0h2m3 0h2m6 0h3m-132 1h7m8 0h2m4 0h2m9 0h2m3 0h2m1 0h4m4 0h2m1 0h2m1 0h2m4 0h2m2 0h5m4 0h3m5 0h9m8 0h4m1 0h4m1 0h4m3 0h5m4 0h3m-128 1h5m4 0h2m3 0h4m3 0h2m1 0h2m1 0h3m1 0h3m3 0h8m5 0h2m1 0h2m7 0h2m1 0h2m4 0h3m6 0h4m2 0h5m4 0h6m2 0h2m3 0h2m2 0h2m1 0h2m1 0h4m7 0h2m-130 1h2m5 0h3m4 0h2m10 0h4m4 0h5m1 0h3m6 0h2m9 0h2m1 0h2m2 0h2m14 0h2m1 0h6m5 0h4m4 0h6m4 0h2m7 0h2m-121 1h5m1 0h4m7 0h7m6 0h5m1 0h5m2 0h2m12 0h2m18 0h7m1 0h2m3 0h3m4 0h4m1 0h4m5 0h2m1 0h4m2 0h4m-123 1h6m7 0h3m2 0h6m13 0h2m9 0h2m5 0h2m2 0h2m11 0h3m5 0h2m2 0h2m4 0h2m4 0h2m4 0h5m2 0h3m1 0h2m2 0h2m-119 1h3m11 0h2m1 0h2m8 0h2m2 0h2m1 0h5m1 0h4m1 0h2m1 0h2m6 0h2m9 0h2m2 0h2m4 0h2m5 0h6m6 0h2m6 0h3m3 0h2m4 0h5m-120 1h2m2 0h3m9 0h6m2 0h2m2 0h2m1 0h2m2 0h6m6 0h3m3 0h2m6 0h3m7 0h2m1 0h5m4 0h4m7 0h2m2 0h2m1 0h2m1 0h2m2 0h4m2 0h4m-119 1h5m5 0h9m1 0h4m2 0h2m3 0h4m4 0h2m8 0h3m6 0h2m6 0h2m8 0h4m7 0h2m1 0h2m3 0h2m2 0h6m6 0h3m2 0h3m-117 1h2m11 0h2m1 0h7m1 0h3m2 0h5m2 0h2m10 0h4m3 0h6m3 0h5m4 0h4m1 0h2m5 0h4m1 0h2m2 0h3m3 0h3m3 0h5m2 0h6m-117 1h2m4 0h5m9 0h3m2 0h5m1 0h6m14 0h8m3 0h2m11 0h3m3 0h14m1 0h2m7 0h4m4 0h3m-117 1h4m2 0h2m6 0h2m1 0h8m4 0h2m1 0h8m10 0h10m5 0h2m4 0h4m1 0h3m4 0h8m4 0h2m8 0h2m1 0h2m-106 1h2m5 0h2m8 0h4m2 0h2m4 0h7m1 0h4m2 0h2m2 0h11m2 0h3m8 0h4m3 0h2m4 0h3m1 0h2m2 0h2m1 0h2m1 0h5m-99 1h2m1 0h2m8 0h2m1 0h3m8 0h2m1 0h5m10 0h2m3 0h3m11 0h6m6 0h2m11 0h2m5 0h3m-101 1h2m4 0h4m6 0h7m2 0h2m5 0h3m1 0h2m5 0h2m6 0h4m1 0h6m1 0h5m5 0h7m6 0h6m6 0h2m3 0h2m-104 1h9m2 0h6m1 0h3m1 0h3m8 0h5m23 0h4m6 0h2m2 0h2m2 0h2m4 0h2m12 0h2m-101 1h3m2 0h2m4 0h3m5 0h3m1 0h4m4 0h2m1 0h5m11 0h2m2 0h2m6 0h2m7 0h4m6 0h2m3 0h2m1 0h5m-93 1h4m3 0h2m3 0h3m1 0h5m2 0h4m4 0h2m3 0h2m3 0h3m3 0h3m5 0h2m3 0h2m4 0h2m10 0h4m1 0h7m1 0h7m-96 1h5m5 0h8m4 0h4m13 0h4m1 0h4m25 0h4m12 0h3m-90 1h2m1 0h4m1 0h2m1 0h4m1 0h9m11 0h5m1 0h2m5 0h3m13 0h3m3 0h9m5 0h5m1 0h4m-96 1h4m1 0h4m1 0h6m5 0h4m14 0h6m4 0h3m1 0h2m10 0h8m3 0h5m9 0h2m2 0h2m-94 1h2m1 0h2m7 0h3m1 0h7m4 0h2m4 0h2m1 0h7m1 0h2m2 0h2m17 0h6m3 0h2m1 0h6m6 0h3m-92 1h3m5 0h5m1 0h2m15 0h2m1 0h7m2 0h2m10 0h2m6 0h4m9 0h2m2 0h2m2 0h4m1 0h2m-82 1h2m1 0h4m5 0h3m4 0h5m3 0h4m2 0h2m3 0h2m3 0h4m3 0h4m2 0h4m3 0h8m6 0h4m-81 1h2m2 0h4m14 0h2m1 0h6m1 0h2m2 0h2m5 0h5m3 0h2m3 0h2m5 0h2m1 0h2m5 0h5m-77 1h3m1 0h2m7 0h3m4 0h3m2 0h5m15 0h2m1 0h7m5 0h2m8 0h2m3 0h2m-77 1h2m6 0h2m3 0h4m2 0h4m1 0h2m2 0h2m1 0h2m5 0h2m5 0h7m1 0h2m1 0h2m1 0h3m5 0h2m1 0h3m-69 1h6m3 0h7m1 0h5m2 0h2m5 0h2m9 0h5m6 0h2m8 0h6m-61 1h2m1 0h5m2 0h11m2 0h2m3 0h2m1 0h2m4 0h5m1 0h2m2 0h2m3 0h2m2 0h4m-67 1h2m3 0h2m6 0h5m5 0h4m3 0h3m11 0h7m18 0h2m-69 1h2m10 0h2m4 0h2m3 0h7m2 0h2m8 0h3m13 0h4m-57 1h2m17 0h3m2 0h2m2 0h3m7 0h2m1 0h4m-27 1h3m3 0h3m1 0h2m5 0h4m-20 1h2m6 0h2m5 0h3m2 0h5m-26 1h6m4 0h5m1 0h4m1 0h4m-24 1h2m2 0h2m3 0h3m2 0h2m1 0h2m11 0h2m-32 1h2m8 0h2m5 0h4m1 0h2m7 0h2m-32 1h2m1 0h2m3 0h3m7 0h2m-5 1h2" stroke="#8DBE0B" stroke-width="2" fill="none"/><path transform="translate(11.5 253) scale(0.5)" d="M260 35h6m8 0h3m-17 1h10m4 0h4m-16 1h3m1 0h12m-18 1h6m1 0h2m2 0h2m1 0h5m-19 1h2m1 0h6m-16 1h2m1 0h3m5 0h8m6 0h3m-27 1h3m7 0h6m3 0h2m1 0h2m4 0h2m-30 1h6m4 0h4m1 0h3m10 0h2m-41 1h2m5 0h3m1 0h2m1 0h2m2 0h2m1 0h9m12 0h3m-37 1h4m1 0h7m6 0h3m2 0h4m4 0h2m-41 1h15m2 0h5m5 0h2m3 0h3m4 0h2m-38 1h6m1 0h2m3 0h3m1 0h2m10 0h3m3 0h3m4 0h2m-49 1h12m7 0h5m9 0h4m3 0h2m1 0h8m-55 1h8m2 0h5m10 0h4m9 0h2m2 0h2m9 0h3m-52 1h4m6 0h2m8 0h2m5 0h2m11 0h11m-51 1h2m7 0h2m2 0h2m6 0h2m18 0h3m6 0h3m-51 1h3m6 0h11m6 0h2m7 0h4m10 0h2m-56 1h4m2 0h2m1 0h2m2 0h2m3 0h3m1 0h2m1 0h3m1 0h3m4 0h3m2 0h2m3 0h2m4 0h5m-56 1h4m2 0h3m2 0h2m3 0h4m3 0h3m3 0h2m1 0h7m1 0h2m6 0h7m3 0h2m-66 1h2m4 0h2m1 0h5m6 0h3m2 0h2m4 0h14m3 0h2m7 0h3m3 0h2m-65 1h9m1 0h3m3 0h2m1 0h5m1 0h2m4 0h6m3 0h2m1 0h2m6 0h10m-56 1h4m1 0h2m1 0h6m1 0h2m8 0h6m3 0h3m1 0h3m3 0h3m4 0h2m-46 1h4m2 0h2m12 0h2m3 0h4m1 0h9m2 0h2m1 0h3m-56 1h8m5 0h6m3 0h3m2 0h7m1 0h8m4 0h4m2 0h2m1 0h2m1 0h2m-61 1h3m1 0h11m2 0h3m4 0h3m1 0h10m1 0h5m2 0h4m2 0h2m-53 1h2m2 0h2m1 0h7m1 0h5m1 0h4m1 0h10m2 0h10m13 0h2m-64 1h5m4 0h8m3 0h2m1 0h3m3 0h9m2 0h2m1 0h7m2 0h6m1 0h3m3 0h3m-69 1h3m8 0h8m1 0h2m1 0h7m6 0h2m1 0h12m2 0h2m1 0h2m1 0h2m1 0h2m-63 1h2m1 0h2m3 0h2m4 0h2m4 0h2m1 0h6m7 0h2m3 0h13m1 0h3m-62 1h2m3 0h4m5 0h22m1 0h4m2 0h2m3 0h3m1 0h7m5 0h2m-62 1h7m3 0h4m3 0h6m1 0h10m3 0h3m2 0h8m7 0h7m-72 1h4m4 0h3m1 0h5m3 0h3m1 0h5m2 0h2m1 0h4m1 0h3m4 0h4m1 0h10m4 0h3m4 0h2m-71 1h4m1 0h2m2 0h2m3 0h8m1 0h10m1 0h5m2 0h2m4 0h9m1 0h2m5 0h3m-72 1h2m6 0h2m1 0h2m7 0h6m6 0h2m8 0h2m3 0h2m3 0h11m9 0h2m-74 1h3m7 0h2m1 0h2m2 0h2m3 0h6m1 0h6m9 0h2m2 0h5m5 0h2m2 0h2m4 0h4m1 0h3m-73 1h7m2 0h2m1 0h2m1 0h3m4 0h2m2 0h4m2 0h2m8 0h4m1 0h5m3 0h7m11 0h2m-74 1h5m9 0h2m1 0h2m3 0h2m6 0h4m8 0h7m4 0h2m2 0h6m3 0h3m1 0h4m-75 1h7m8 0h2m3 0h2m1 0h2m3 0h2m2 0h3m3 0h14m1 0h3m7 0h4m1 0h2m2 0h5m-77 1h7m2 0h2m10 0h3m15 0h3m5 0h3m2 0h4m15 0h2m2 0h4m-79 1h6m5 0h2m1 0h8m2 0h6m4 0h2m1 0h2m3 0h2m2 0h2m5 0h4m1 0h2m4 0h2m3 0h2m-73 1h3m3 0h3m2 0h6m6 0h6m4 0h5m3 0h11m1 0h2m7 0h3m2 0h6m2 0h2m-72 1h2m1 0h2m1 0h2m10 0h8m6 0h2m1 0h8m1 0h2m1 0h3m3 0h5m2 0h9m1 0h2m-77 1h4m1 0h2m3 0h9m3 0h7m14 0h3m1 0h6m8 0h3m1 0h5m-69 1h3m4 0h4m4 0h2m10 0h2m7 0h2m2 0h5m3 0h6m2 0h4m5 0h2m1 0h2m4 0h2m-77 1h5m1 0h5m6 0h3m5 0h2m14 0h4m1 0h3m2 0h3m2 0h2m2 0h8m1 0h2m1 0h2m-67 1h4m6 0h3m3 0h2m3 0h2m5 0h2m3 0h2m4 0h10m2 0h2m1 0h8m6 0h2m-79 1h2m5 0h2m3 0h2m7 0h2m15 0h2m3 0h12m2 0h5m1 0h3m2 0h2m2 0h4m2 0h2m-77 1h2m2 0h4m2 0h2m1 0h2m1 0h4m13 0h2m1 0h4m2 0h4m2 0h2m4 0h8m1 0h2m-66 1h2m7 0h2m1 0h4m2 0h2m11 0h2m3 0h3m2 0h2m2 0h3m1 0h2m6 0h8m1 0h9m2 0h2m-83 1h2m6 0h4m1 0h2m1 0h10m13 0h6m5 0h2m2 0h7m1 0h3m2 0h8m2 0h2m-79 1h2m3 0h6m6 0h2m4 0h4m4 0h2m15 0h2m2 0h5m4 0h4m2 0h6m4 0h2m-79 1h2m5 0h3m9 0h7m18 0h2m3 0h8m1 0h2m6 0h2m3 0h3m5 0h3m-83 1h4m3 0h7m4 0h4m2 0h3m7 0h2m2 0h2m2 0h5m1 0h9m2 0h5m3 0h2m1 0h2m1 0h2m6 0h3m-86 1h2m4 0h9m4 0h5m1 0h2m3 0h2m4 0h4m6 0h3m5 0h5m2 0h4m5 0h8m-73 1h2m1 0h2m4 0h2m4 0h5m5 0h5m1 0h2m4 0h2m1 0h2m4 0h5m3 0h2m9 0h2m2 0h4m5 0h2m-85 1h10m2 0h3m1 0h2m5 0h3m3 0h2m5 0h2m1 0h2m1 0h4m2 0h5m9 0h2m5 0h4m1 0h2m1 0h3m2 0h4m1 0h2m-86 1h2m1 0h4m5 0h2m2 0h2m1 0h2m1 0h4m7 0h4m1 0h5m2 0h4m2 0h2m4 0h4m3 0h2m2 0h3m1 0h2m1 0h8m3 0h2m-83 1h3m3 0h2m3 0h7m11 0h4m1 0h5m1 0h5m14 0h5m4 0h3m2 0h5m-85 1h4m1 0h2m1 0h2m3 0h5m2 0h3m1 0h5m6 0h2m5 0h8m2 0h2m1 0h6m1 0h2m4 0h5m1 0h3m6 0h4m1 0h2m-88 1h3m1 0h2m9 0h4m3 0h2m10 0h11m1 0h2m7 0h4m5 0h2m6 0h2m2 0h2m3 0h2m1 0h4m-90 1h2m1 0h2m1 0h5m3 0h3m6 0h2m3 0h3m2 0h6m1 0h4m13 0h3m6 0h2m1 0h2m4 0h3m3 0h2m1 0h7m-92 1h8m1 0h3m3 0h5m2 0h5m7 0h2m2 0h2m1 0h4m2 0h6m4 0h2m2 0h5m1 0h2m5 0h12m3 0h2m-90 1h2m7 0h2m3 0h9m1 0h2m2 0h2m4 0h2m5 0h4m2 0h4m4 0h4m2 0h4m3 0h4m3 0h4m1 0h7m-88 1h21m5 0h4m2 0h2m12 0h2m4 0h2m10 0h4m1 0h2m2 0h2m4 0h3m5 0h2m1 0h2m-90 1h2m4 0h2m1 0h4m1 0h2m5 0h13m2 0h2m4 0h4m1 0h4m2 0h3m4 0h9m4 0h3m9 0h2m-93 1h5m1 0h2m3 0h5m1 0h6m5 0h3m1 0h4m2 0h2m1 0h7m4 0h2m4 0h8m14 0h7m-87 1h2m1 0h2m11 0h2m1 0h3m8 0h7m2 0h5m1 0h4m2 0h4m5 0h7m5 0h3m2 0h2m1 0h4m10 0h2m-94 1h3m3 0h2m20 0h2m2 0h4m4 0h3m1 0h2m2 0h2m8 0h2m3 0h2m5 0h3m2 0h11m-76 1h2m1 0h5m6 0h2m2 0h2m1 0h2m1 0h2m1 0h2m9 0h2m1 0h2m1 0h2m1 0h2m18 0h2m3 0h3m-82 1h4m2 0h4m5 0h2m2 0h3m1 0h2m3 0h2m7 0h2m4 0h3m8 0h2m6 0h2m8 0h3m4 0h4m-75 1h2m1 0h6m3 0h2m4 0h8m2 0h3m8 0h2m1 0h6m1 0h2m1 0h2m4 0h2m1 0h7m2 0h4m-79 1h4m1 0h6m6 0h6m3 0h3m1 0h4m5 0h2m6 0h3m2 0h2m13 0h3m6 0h3m-84 1h2m4 0h3m2 0h2m3 0h3m3 0h7m1 0h4m1 0h3m13 0h3m2 0h2m8 0h13m3 0h4m-79 1h7m2 0h2m7 0h2m1 0h2m1 0h6m2 0h3m1 0h3m4 0h2m22 0h6m-78 1h2m3 0h2m1 0h11m1 0h2m13 0h2m4 0h3m11 0h3m9 0h9m4 0h2m-82 1h4m1 0h8m4 0h2m6 0h3m3 0h2m1 0h2m1 0h4m6 0h4m3 0h2m1 0h2m9 0h3m1 0h4m5 0h3m-84 1h2m3 0h6m3 0h2m1 0h2m4 0h2m7 0h7m3 0h2m13 0h2m6 0h2m10 0h4m-82 1h4m2 0h9m1 0h2m1 0h2m2 0h2m11 0h5m5 0h4m6 0h4m1 0h3m3 0h2m1 0h2m3 0h2m1 0h2m-80 1h3m2 0h6m1 0h2m3 0h6m2 0h5m5 0h3m2 0h2m2 0h4m10 0h13m2 0h9m-82 1h2m3 0h11m1 0h3m2 0h5m1 0h2m1 0h2m4 0h2m7 0h3m9 0h2m2 0h9m7 0h3m-82 1h2m2 0h3m1 0h3m1 0h9m16 0h4m4 0h2m2 0h4m1 0h4m3 0h4m2 0h3m1 0h2m1 0h5m-79 1h2m2 0h2m2 0h3m3 0h6m2 0h2m3 0h4m2 0h3m1 0h8m1 0h5m2 0h3m6 0h2m1 0h2m3 0h2m7 0h2m-77 1h3m9 0h8m4 0h3m2 0h4m5 0h5m3 0h12m3 0h2m2 0h3m5 0h4m-85 1h2m6 0h4m8 0h8m2 0h2m5 0h4m6 0h2m1 0h4m6 0h2m2 0h4m2 0h2m1 0h5m1 0h2m2 0h3m-78 1h4m6 0h2m2 0h9m6 0h4m2 0h2m2 0h2m11 0h3m3 0h2m3 0h4m1 0h6m1 0h4m-73 1h2m2 0h11m3 0h4m4 0h4m10 0h4m1 0h3m7 0h5m5 0h4m2 0h2m-74 1h5m25 0h2m1 0h3m9 0h2m3 0h3m4 0h2m6 0h4m2 0h2m-71 1h7m13 0h2m1 0h4m2 0h2m1 0h2m5 0h3m3 0h2m1 0h2m1 0h8m6 0h2m3 0h2m-73 1h2m4 0h2m2 0h2m2 0h2m4 0h2m2 0h2m1 0h2m6 0h5m4 0h2m5 0h2m1 0h4m5 0h2m4 0h2m-71 1h2m6 0h4m3 0h4m1 0h2m4 0h2m3 0h2m2 0h2m16 0h4m5 0h2m1 0h4m-69 1h4m8 0h2m3 0h3m8 0h2m6 0h4m3 0h2m5 0h6m-66 1h2m9 0h2m4 0h3m1 0h2m5 0h6m4 0h2m3 0h6m11 0h4m1 0h2m-66 1h2m1 0h5m11 0h4m4 0h5m6 0h4m2 0h9m1 0h2m3 0h3m2 0h5m1 0h2m-67 1h2m3 0h2m8 0h2m4 0h7m7 0h11m1 0h2m4 0h4m6 0h2m-66 1h4m1 0h3m8 0h3m3 0h2m2 0h5m4 0h2m3 0h6m10 0h2m1 0h4m-63 1h3m1 0h5m5 0h2m3 0h4m4 0h2m11 0h6m12 0h4m1 0h3m-65 1h4m5 0h3m4 0h2m7 0h4m7 0h4m20 0h5m-62 1h3m3 0h3m3 0h2m9 0h4m1 0h2m3 0h9m3 0h2m1 0h3m1 0h4m1 0h4m-62 1h5m4 0h2m6 0h2m1 0h2m6 0h2m1 0h3m2 0h3m1 0h2m4 0h2m3 0h2m2 0h3m1 0h5m-59 1h6m5 0h3m4 0h2m6 0h6m4 0h5m1 0h2m1 0h7m2 0h4m-60 1h2m2 0h2m8 0h4m8 0h4m2 0h2m7 0h4m5 0h2m1 0h4m-52 1h2m5 0h2m2 0h2m6 0h2m1 0h2m1 0h2m6 0h2m2 0h2m5 0h3m-50 1h2m5 0h2m2 0h4m6 0h3m1 0h2m3 0h4m3 0h8m2 0h2m-43 1h3m1 0h2m10 0h2m1 0h2m1 0h6m6 0h7m1 0h4m-43 1h2m5 0h9m1 0h6m-28 1h6m9 0h4m1 0h3m3 0h2m4 0h2m2 0h2m3 0h2m-40 1h2m1 0h2m4 0h2m2 0h2m10 0h3m2 0h2m1 0h2m-31 1h2m4 0h4m2 0h2m1 0h2m5 0h6m-27 1h2m7 0h3m2 0h3m5 0h5m-22 1h2m2 0h2m11 0h2m-12 1h2m9 0h2m-13 1h2" stroke="#F5D000" stroke-width="2" fill="none"/><path transform="translate(11.5 253) scale(0.5)" d="M225 227h2m2 0h2m-9 1h2m-12 1h2m1 0h2m7 0h3m1 0h4m1 0h4m-23 1h2m4 0h2m9 0h3m-25 1h3m8 0h2m2 0h4m2 0h7m1 0h2m-27 1h4m8 0h4m2 0h9m-30 1h7m1 0h2m6 0h2m2 0h9m2 0h2m-36 1h3m1 0h9m4 0h4m4 0h5m2 0h3m-37 1h15m4 0h5m4 0h3m1 0h5m-39 1h3m1 0h2m7 0h10m8 0h3m1 0h4m-41 1h8m1 0h8m1 0h3m3 0h5m5 0h6m-41 1h2m1 0h18m1 0h4m2 0h2m14 0h2m1 0h2m-47 1h3m2 0h8m2 0h2m6 0h2m1 0h2m1 0h2m10 0h2m2 0h2m-47 1h4m1 0h8m3 0h2m6 0h2m1 0h4m2 0h2m10 0h2m-47 1h9m4 0h2m9 0h6m9 0h8m-52 1h2m2 0h10m5 0h2m2 0h2m7 0h5m5 0h6m6 0h2m-55 1h2m4 0h13m1 0h2m2 0h2m2 0h7m5 0h2m3 0h5m-49 1h2m5 0h3m2 0h9m2 0h2m4 0h3m7 0h5m1 0h4m5 0h2m-58 1h4m5 0h19m2 0h4m5 0h2m4 0h6m6 0h2m-60 1h4m1 0h2m3 0h2m1 0h7m1 0h4m2 0h3m7 0h14m7 0h2m-60 1h2m10 0h12m2 0h2m1 0h4m4 0h2m2 0h2m1 0h8m-56 1h2m1 0h3m1 0h2m3 0h4m3 0h8m3 0h2m2 0h2m3 0h3m2 0h2m3 0h2m2 0h2m-53 1h2m3 0h3m4 0h13m4 0h2m1 0h4m1 0h2m1 0h3m8 0h7m-55 1h5m2 0h2m1 0h5m1 0h8m1 0h3m2 0h10m2 0h5m2 0h3m2 0h6m-58 1h5m1 0h5m1 0h2m3 0h4m2 0h2m3 0h10m1 0h3m5 0h10m-63 1h2m1 0h3m1 0h3m5 0h7m1 0h4m1 0h4m2 0h10m1 0h4m5 0h6m-55 1h2m6 0h9m3 0h5m5 0h2m3 0h5m4 0h2m4 0h6m-59 1h8m3 0h9m2 0h10m6 0h3m1 0h2m4 0h2m2 0h6m-54 1h3m5 0h7m1 0h2m11 0h3m1 0h2m1 0h5m3 0h13m-56 1h2m6 0h2m2 0h2m1 0h2m8 0h10m1 0h2m3 0h8m3 0h3m-65 1h2m5 0h6m4 0h2m4 0h3m6 0h7m1 0h4m1 0h5m3 0h3m6 0h2m-46 1h2m6 0h2m2 0h7m1 0h5m4 0h5m2 0h6m-52 1h3m9 0h4m8 0h8m1 0h2m4 0h4m7 0h3m2 0h2m-60 1h7m1 0h4m3 0h4m1 0h2m1 0h2m1 0h2m1 0h7m6 0h5m5 0h4m-56 1h2m14 0h2m3 0h2m2 0h2m3 0h7m2 0h4m9 0h6m-59 1h8m3 0h2m8 0h5m1 0h6m2 0h3m3 0h9m5 0h2m62 0h3m-122 1h5m5 0h4m3 0h2m2 0h2m4 0h3m4 0h3m5 0h3m1 0h2m1 0h3m5 0h5m26 0h2m17 0h2m6 0h2m5 0h2m-126 1h2m1 0h7m12 0h2m2 0h6m2 0h4m1 0h6m2 0h5m59 0h5m4 0h2m1 0h3m-124 1h3m1 0h5m9 0h5m1 0h2m7 0h4m1 0h9m2 0h2m1 0h2m3 0h2m31 0h2m11 0h2m4 0h5m1 0h2m5 0h2m3 0h3m-132 1h4m1 0h3m11 0h6m4 0h3m1 0h2m2 0h2m3 0h7m12 0h2m2 0h2m19 0h8m6 0h2m3 0h2m2 0h2m1 0h2m4 0h3m1 0h4m1 0h2m-127 1h2m2 0h8m4 0h7m3 0h2m2 0h4m2 0h2m2 0h5m4 0h2m10 0h5m13 0h2m3 0h2m1 0h2m11 0h7m2 0h2m7 0h2m6 0h2m8 0h2m-139 1h2m2 0h4m1 0h2m7 0h2m1 0h2m1 0h6m1 0h2m1 0h2m7 0h2m6 0h5m6 0h6m17 0h8m6 0h12m8 0h3m5 0h2m10 0h3m-141 1h2m4 0h6m3 0h5m1 0h8m1 0h2m6 0h9m4 0h7m4 0h4m14 0h2m3 0h4m5 0h3m1 0h6m7 0h2m8 0h2m4 0h2m7 0h4m3 0h4m-145 1h2m1 0h2m1 0h3m2 0h4m2 0h7m4 0h2m1 0h2m4 0h4m7 0h3m1 0h3m9 0h2m15 0h6m1 0h2m2 0h4m2 0h2m1 0h4m3 0h2m3 0h2m1 0h6m9 0h2m2 0h5m1 0h4m-142 1h3m6 0h4m1 0h5m2 0h2m3 0h4m3 0h2m12 0h2m7 0h3m20 0h4m5 0h10m2 0h6m1 0h2m5 0h8m2 0h2m1 0h2m1 0h7m1 0h2m1 0h2m-137 1h6m2 0h2m2 0h3m6 0h2m4 0h2m12 0h4m28 0h3m5 0h9m4 0h2m1 0h4m1 0h15m3 0h2m1 0h2m4 0h9m-144 1h2m2 0h2m1 0h10m5 0h2m21 0h4m2 0h2m2 0h5m9 0h2m2 0h2m9 0h2m1 0h3m1 0h5m1 0h2m3 0h2m1 0h7m2 0h2m1 0h2m1 0h2m3 0h2m4 0h5m3 0h7m-145 1h4m5 0h7m7 0h3m19 0h2m8 0h2m4 0h2m10 0h6m3 0h18m8 0h4m9 0h6m1 0h3m6 0h5m3 0h2m-139 1h4m3 0h2m6 0h2m22 0h2m4 0h3m3 0h2m1 0h2m11 0h2m3 0h3m1 0h2m2 0h2m1 0h6m5 0h2m1 0h2m1 0h8m2 0h8m2 0h7m2 0h4m10 0h2m-143 1h2m1 0h2m32 0h2m6 0h4m14 0h5m1 0h2m1 0h6m2 0h6m10 0h3m2 0h3m6 0h6m1 0h2m1 0h5m1 0h3m2 0h2m9 0h2m-98 1h2m15 0h12m2 0h4m2 0h2m3 0h13m1 0h2m2 0h8m5 0h12m-81 1h2m7 0h2m3 0h11m2 0h4m2 0h3m3 0h8m4 0h3m2 0h2m1 0h4m6 0h2m1 0h6m1 0h5m5 0h2m1 0h2m1 0h2m-97 1h3m6 0h7m2 0h8m1 0h5m17 0h2m9 0h2m10 0h13m2 0h2m3 0h2m1 0h4m-98 1h2m3 0h2m1 0h9m2 0h6m2 0h5m5 0h2m8 0h3m7 0h2m11 0h16m2 0h2m2 0h4m1 0h2m-99 1h4m6 0h3m5 0h7m2 0h4m1 0h2m2 0h15m1 0h4m15 0h6m1 0h5m10 0h2m2 0h2m-96 1h3m3 0h3m1 0h3m1 0h10m1 0h2m1 0h2m2 0h3m2 0h4m3 0h3m2 0h3m1 0h2m14 0h2m4 0h4m3 0h2m3 0h8m-96 1h2m2 0h7m1 0h6m1 0h4m4 0h2m5 0h5m6 0h9m7 0h2m1 0h2m4 0h4m5 0h2m7 0h8m-101 1h2m4 0h3m3 0h14m3 0h2m4 0h6m2 0h17m1 0h3m5 0h2m6 0h8m2 0h2m6 0h7m-97 1h3m4 0h14m3 0h2m22 0h2m3 0h4m1 0h2m10 0h2m5 0h4m3 0h2m3 0h5m1 0h2m-98 1h4m4 0h3m1 0h2m1 0h4m6 0h2m5 0h7m7 0h4m1 0h12m8 0h2m2 0h2m1 0h3m-74 1h5m1 0h6m11 0h4m3 0h2m1 0h2m3 0h4m1 0h14m10 0h2m2 0h8m10 0h2m-101 1h2m2 0h2m1 0h4m3 0h2m1 0h4m7 0h9m12 0h14m17 0h6m1 0h2m-82 1h9m2 0h4m3 0h3m6 0h2m14 0h3m8 0h3m3 0h6m9 0h4m4 0h2m3 0h2m-97 1h2m7 0h7m4 0h2m2 0h10m1 0h3m11 0h2m1 0h2m4 0h7m6 0h5m6 0h6m-78 1h2m2 0h2m3 0h4m2 0h6m2 0h2m4 0h2m1 0h4m7 0h2m3 0h3m1 0h3m4 0h2m3 0h2m1 0h3m1 0h6m3 0h7m-88 1h6m4 0h5m1 0h6m1 0h2m2 0h2m3 0h2m10 0h2m2 0h7m1 0h2m3 0h3m2 0h4m2 0h6m1 0h5m2 0h4m-84 1h2m1 0h4m4 0h2m1 0h2m1 0h9m5 0h3m6 0h2m6 0h2m5 0h7m2 0h2m2 0h5m2 0h2m3 0h4m-91 1h4m1 0h7m1 0h2m6 0h2m1 0h6m2 0h4m4 0h2m2 0h6m1 0h2m2 0h5m5 0h5m4 0h5m3 0h2m6 0h2m-92 1h4m3 0h2m9 0h7m1 0h7m1 0h3m2 0h3m1 0h4m1 0h5m1 0h5m3 0h10m1 0h2m1 0h5m-77 1h2m3 0h3m1 0h4m3 0h14m1 0h9m1 0h6m8 0h3m3 0h2m4 0h5m1 0h4m1 0h4m-86 1h2m11 0h2m2 0h2m1 0h6m4 0h5m5 0h3m2 0h8m5 0h2m3 0h7m2 0h2m3 0h5m1 0h2m4 0h5m-87 1h4m3 0h12m3 0h7m4 0h2m4 0h7m8 0h10m6 0h7m3 0h6m-88 1h6m2 0h3m2 0h6m4 0h2m2 0h2m6 0h5m2 0h2m2 0h4m2 0h2m3 0h3m1 0h5m5 0h2m2 0h3m3 0h2m1 0h2m-86 1h4m3 0h12m5 0h2m8 0h2m3 0h2m2 0h4m3 0h4m5 0h3m5 0h7m2 0h4m3 0h4m-85 1h2m5 0h4m1 0h2m3 0h2m1 0h3m4 0h2m2 0h4m2 0h4m3 0h2m2 0h4m4 0h4m6 0h4m13 0h2m-71 1h2m3 0h6m5 0h4m2 0h5m7 0h4m5 0h2m3 0h4m1 0h2m6 0h2m4 0h4m-87 1h2m1 0h2m11 0h2m1 0h2m1 0h3m4 0h2m1 0h4m1 0h4m4 0h4m2 0h3m7 0h5m4 0h2m6 0h2m-67 1h2m6 0h2m2 0h2m3 0h10m4 0h4m4 0h2m6 0h3m1 0h2m1 0h2m1 0h3m3 0h2m1 0h2m1 0h2m-81 1h2m4 0h4m2 0h3m3 0h2m1 0h4m1 0h5m1 0h2m1 0h3m1 0h10m3 0h2m1 0h2m3 0h2m5 0h2m-70 1h3m6 0h8m7 0h2m2 0h3m1 0h4m2 0h4m4 0h7m5 0h4m18 0h2m-73 1h3m1 0h2m2 0h3m4 0h4m1 0h3m6 0h13m3 0h2m4 0h2m6 0h2m6 0h2m-72 1h3m5 0h2m5 0h10m4 0h3m1 0h2m2 0h2m1 0h2m2 0h4m8 0h2m3 0h4m3 0h2m3 0h3m-76 1h5m1 0h3m6 0h2m2 0h5m2 0h4m2 0h3m1 0h2m7 0h6m7 0h4m7 0h2m1 0h3m-75 1h2m11 0h15m1 0h2m24 0h2m1 0h3m6 0h2m2 0h4m-76 1h2m2 0h2m3 0h2m2 0h2m1 0h12m1 0h2m1 0h2m4 0h2m4 0h18m5 0h2m1 0h2m1 0h2m-67 1h4m2 0h3m2 0h2m1 0h2m1 0h2m1 0h3m3 0h2m1 0h5m1 0h5m3 0h2m2 0h2m1 0h3m6 0h5m-63 1h8m4 0h9m1 0h3m1 0h2m2 0h6m1 0h2m1 0h2m1 0h5m1 0h2m7 0h4m2 0h2m-64 1h2m1 0h2m4 0h2m2 0h8m1 0h4m2 0h2m2 0h6m6 0h3m8 0h6m-65 1h13m2 0h4m2 0h2m1 0h11m1 0h5m2 0h6m1 0h2m1 0h2m4 0h3m-63 1h2m7 0h4m1 0h6m5 0h2m1 0h2m1 0h2m1 0h3m5 0h2m1 0h4m3 0h2m-54 1h9m2 0h2m10 0h2m1 0h3m1 0h6m1 0h5m1 0h5m5 0h2m4 0h2m-56 1h3m4 0h2m3 0h2m1 0h3m2 0h2m1 0h5m1 0h3m2 0h2m2 0h2m6 0h4m-54 1h17m11 0h10m3 0h7m3 0h2m-45 1h2m2 0h2m8 0h2m1 0h2m3 0h5m1 0h2m7 0h2m5 0h2m-47 1h2m3 0h2m9 0h10m3 0h3m12 0h3m-33 1h16m14 0h2m4 0h2m-36 1h2m2 0h2m1 0h5m1 0h2m6 0h3m4 0h5m1 0h2m-36 1h3m1 0h2m8 0h3m2 0h4m2 0h2m1 0h3m4 0h2m-35 1h4m1 0h2m3 0h3m4 0h3m3 0h5m-27 1h2m15 0h2m-17 1h2m2 0h2m10 0h2m2 0h2m-30 10h2" stroke="#15763A" stroke-width="2" fill="none"/><path transform="translate(11.5 253) scale(0.5)" d="M102 158h4m-5 1h4m-5 1h6m7 0h2m-13 1h3m9 0h3m-32 1h2m13 0h4m12 0h2m-30 1h2m3 0h4m2 0h4m6 0h3m3 0h2m1 0h2m-41 1h4m2 0h2m12 0h7m1 0h2m3 0h6m-46 1h2m5 0h6m5 0h2m1 0h2m3 0h4m2 0h8m4 0h2m1 0h3m-40 1h2m1 0h4m3 0h2m4 0h2m1 0h10m5 0h3m1 0h4m3 0h2m-57 1h4m4 0h2m1 0h2m6 0h2m1 0h7m2 0h4m1 0h4m3 0h3m13 0h3m-64 1h4m1 0h2m1 0h2m1 0h2m1 0h3m1 0h2m1 0h6m3 0h2m1 0h4m2 0h3m5 0h2m8 0h7m-63 1h4m4 0h3m10 0h8m2 0h2m1 0h8m11 0h2m5 0h2m-60 1h3m5 0h3m11 0h2m2 0h2m4 0h2m7 0h3m5 0h6m1 0h4m2 0h2m-64 1h4m3 0h5m1 0h2m3 0h2m3 0h5m3 0h3m5 0h2m3 0h2m6 0h2m3 0h8m-68 1h6m1 0h2m1 0h5m6 0h2m1 0h2m3 0h2m9 0h6m4 0h2m2 0h2m5 0h2m1 0h3m-69 1h4m2 0h2m2 0h6m3 0h6m3 0h4m3 0h5m2 0h2m3 0h2m2 0h4m12 0h3m-70 1h4m1 0h2m2 0h4m10 0h2m2 0h4m1 0h3m2 0h9m3 0h5m3 0h6m3 0h5m-72 1h5m9 0h4m4 0h5m4 0h2m2 0h3m1 0h5m3 0h2m2 0h5m2 0h3m1 0h2m2 0h4m-66 1h3m1 0h3m1 0h5m4 0h7m3 0h5m1 0h4m2 0h3m1 0h2m6 0h2m2 0h2m-57 1h3m2 0h2m1 0h2m18 0h2m6 0h2m1 0h6m2 0h2m3 0h2m2 0h2m3 0h4m-66 1h4m5 0h3m1 0h2m8 0h2m2 0h4m1 0h2m5 0h2m1 0h4m17 0h4m-64 1h2m4 0h4m4 0h5m2 0h2m1 0h2m6 0h2m4 0h2m7 0h9m1 0h2m2 0h2m-70 1h2m10 0h4m1 0h5m6 0h5m5 0h4m10 0h8m5 0h2m-71 1h2m1 0h3m4 0h2m3 0h8m3 0h3m3 0h2m1 0h2m2 0h2m1 0h3m3 0h2m2 0h2m3 0h2m2 0h2m6 0h4m1 0h2m-74 1h2m5 0h2m2 0h2m2 0h7m3 0h4m3 0h5m1 0h6m1 0h4m7 0h8m1 0h6m6 0h2m-86 1h2m5 0h2m6 0h5m2 0h5m1 0h2m1 0h2m2 0h4m1 0h11m4 0h7m9 0h4m1 0h2m1 0h2m3 0h2m-74 1h7m1 0h3m1 0h6m1 0h2m3 0h2m2 0h2m1 0h2m8 0h11m4 0h2m2 0h3m2 0h2m-69 1h12m2 0h4m5 0h8m1 0h2m6 0h2m1 0h2m15 0h2m4 0h2m3 0h3m-74 1h4m3 0h2m1 0h13m5 0h2m9 0h2m2 0h2m4 0h3m2 0h2m2 0h6m2 0h5m2 0h2m1 0h2m-82 1h7m2 0h4m1 0h2m1 0h6m3 0h2m13 0h2m1 0h2m1 0h2m1 0h2m3 0h4m2 0h4m1 0h2m4 0h2m4 0h3m1 0h2m1 0h2m-91 1h4m4 0h10m1 0h2m5 0h4m2 0h2m2 0h2m10 0h2m2 0h2m9 0h4m1 0h2m1 0h2m4 0h2m1 0h6m-80 1h2m3 0h2m11 0h12m19 0h3m3 0h8m4 0h4m7 0h3m-82 1h4m16 0h3m1 0h8m9 0h2m6 0h2m3 0h2m1 0h4m1 0h4m2 0h2m1 0h2m2 0h7m-85 1h3m4 0h4m12 0h2m1 0h2m3 0h2m2 0h9m4 0h2m2 0h2m1 0h7m6 0h13m2 0h4m-90 1h2m4 0h2m1 0h2m1 0h2m1 0h4m3 0h7m2 0h3m6 0h4m2 0h2m9 0h3m2 0h2m1 0h2m1 0h2m1 0h5m1 0h2m4 0h8m-88 1h6m1 0h10m5 0h2m1 0h5m1 0h4m3 0h2m6 0h5m7 0h3m1 0h3m1 0h2m1 0h2m2 0h2m8 0h2m1 0h4m-91 1h6m3 0h9m3 0h2m2 0h3m3 0h2m3 0h2m1 0h4m3 0h8m1 0h4m6 0h4m4 0h2m1 0h4m5 0h2m-88 1h4m1 0h5m1 0h6m2 0h2m6 0h2m1 0h3m9 0h2m5 0h4m4 0h4m5 0h4m4 0h6m1 0h2m-86 1h6m2 0h7m1 0h3m3 0h8m1 0h3m1 0h2m2 0h6m1 0h2m4 0h6m2 0h5m3 0h11m1 0h7m-90 1h2m1 0h7m3 0h4m12 0h5m4 0h13m3 0h5m2 0h12m5 0h2m4 0h2m2 0h7m-92 1h7m1 0h2m11 0h9m3 0h2m2 0h5m1 0h3m1 0h7m3 0h2m15 0h3m2 0h4m1 0h2m-84 1h5m1 0h2m6 0h3m1 0h10m5 0h3m2 0h4m2 0h2m3 0h2m8 0h7m3 0h2m1 0h5m1 0h2m-82 1h3m1 0h2m7 0h4m5 0h4m2 0h3m4 0h10m1 0h4m10 0h2m4 0h2m5 0h7m1 0h2m6 0h2m-76 1h4m7 0h2m1 0h8m2 0h10m7 0h4m1 0h2m1 0h3m2 0h6m1 0h2m1 0h2m3 0h2m4 0h2m-92 1h2m3 0h2m14 0h4m1 0h2m1 0h2m9 0h8m9 0h9m1 0h2m1 0h2m7 0h2m8 0h2m-87 1h6m5 0h6m2 0h11m1 0h2m5 0h8m2 0h2m7 0h2m4 0h2m7 0h3m1 0h2m1 0h3m6 0h3m3 0h2m-101 1h2m5 0h2m2 0h2m3 0h5m1 0h9m2 0h2m2 0h2m1 0h4m2 0h8m6 0h4m7 0h2m3 0h3m1 0h4m9 0h2m-89 1h2m1 0h2m5 0h2m6 0h6m16 0h2m2 0h2m3 0h2m4 0h3m1 0h2m2 0h2m12 0h8m5 0h2m-92 1h4m3 0h2m2 0h6m1 0h8m8 0h4m5 0h3m4 0h4m10 0h2m2 0h4m4 0h4m7 0h3m2 0h3m-99 1h2m4 0h2m5 0h4m5 0h3m11 0h5m3 0h5m6 0h5m7 0h4m1 0h5m2 0h4m2 0h4m5 0h3m-85 1h2m1 0h3m1 0h2m1 0h2m9 0h2m4 0h3m10 0h2m8 0h2m2 0h2m2 0h4m2 0h6m3 0h4m-92 1h6m2 0h2m8 0h2m4 0h4m12 0h2m6 0h2m1 0h6m14 0h8m1 0h2m1 0h2m3 0h4m1 0h7m-99 1h3m4 0h2m4 0h2m3 0h2m1 0h8m5 0h2m1 0h2m1 0h2m1 0h4m1 0h2m5 0h4m7 0h3m2 0h9m1 0h4m5 0h2m-92 1h5m2 0h2m6 0h5m2 0h7m2 0h4m7 0h2m6 0h4m3 0h4m6 0h6m1 0h4m1 0h5m12 0h2m-81 1h2m1 0h8m10 0h7m2 0h2m1 0h8m3 0h2m1 0h8m6 0h2m3 0h2m-84 1h4m5 0h3m3 0h2m8 0h9m1 0h9m1 0h2m9 0h5m2 0h7m2 0h4m4 0h2m1 0h2m12 0h2m-100 1h2m3 0h2m1 0h3m3 0h3m1 0h2m4 0h3m1 0h6m5 0h2m6 0h4m7 0h2m4 0h19m1 0h3m6 0h2m-96 1h4m3 0h6m4 0h2m7 0h9m2 0h10m1 0h2m2 0h2m4 0h2m3 0h5m1 0h2m1 0h7m1 0h3m3 0h2m4 0h2m-87 1h7m1 0h2m8 0h2m3 0h7m1 0h9m3 0h7m8 0h3m4 0h6m3 0h5m1 0h2m5 0h7m-95 1h2m1 0h5m1 0h2m9 0h5m2 0h5m2 0h5m1 0h11m1 0h2m4 0h2m1 0h2m2 0h4m4 0h4m3 0h2m3 0h3m2 0h2m1 0h2m-99 1h2m3 0h2m1 0h6m1 0h2m1 0h2m1 0h2m2 0h2m20 0h3m2 0h2m4 0h4m6 0h2m9 0h5m7 0h5m-91 1h6m4 0h5m3 0h3m2 0h2m6 0h4m7 0h2m1 0h4m4 0h2m6 0h2m3 0h2m1 0h6m3 0h2m4 0h4m-89 1h2m10 0h2m2 0h2m3 0h3m2 0h2m2 0h8m3 0h4m2 0h2m6 0h4m2 0h2m10 0h8m8 0h2m-91 1h3m1 0h2m4 0h2m6 0h2m1 0h5m2 0h4m1 0h6m2 0h2m13 0h2m3 0h2m3 0h2m3 0h6m1 0h2m-82 1h6m4 0h2m4 0h2m6 0h4m2 0h5m1 0h4m9 0h2m7 0h3m9 0h5m-68 1h3m2 0h2m9 0h11m1 0h8m5 0h6m1 0h3m1 0h2m2 0h4m1 0h8m5 0h2m4 0h4m-91 1h2m8 0h4m4 0h2m3 0h4m5 0h4m2 0h2m4 0h2m4 0h2m2 0h2m1 0h2m6 0h2m1 0h9m3 0h9m-87 1h3m2 0h7m2 0h9m2 0h2m2 0h4m1 0h7m5 0h5m1 0h3m4 0h4m3 0h2m1 0h3m2 0h2m3 0h7m2 0h2m-93 1h5m4 0h2m1 0h2m3 0h4m1 0h4m7 0h3m5 0h5m1 0h2m1 0h2m10 0h9m3 0h2m5 0h7m1 0h3m-91 1h7m9 0h3m1 0h3m1 0h2m7 0h3m6 0h6m8 0h2m3 0h10m3 0h2m1 0h2m2 0h2m2 0h3m-88 1h5m13 0h8m5 0h4m4 0h2m12 0h4m1 0h2m2 0h3m1 0h3m2 0h2m5 0h2m1 0h4m1 0h2m-88 1h6m5 0h4m1 0h4m5 0h2m3 0h2m5 0h2m2 0h2m15 0h2m1 0h2m3 0h3m1 0h2m3 0h2m5 0h2m2 0h2m-86 1h2m1 0h4m1 0h4m5 0h2m3 0h2m1 0h2m6 0h2m1 0h3m1 0h2m1 0h4m6 0h2m1 0h2m1 0h3m17 0h3m2 0h4m-88 1h12m1 0h2m2 0h3m3 0h4m1 0h2m3 0h6m3 0h5m6 0h5m5 0h2m1 0h4m4 0h2m-75 1h6m5 0h2m1 0h3m26 0h3m6 0h2m22 0h4m4 0h2m-86 1h2m10 0h3m7 0h3m20 0h2m4 0h4m5 0h2m16 0h4m3 0h2m-86 1h3m1 0h2m3 0h2m7 0h3m2 0h2m16 0h4m3 0h4m1 0h3m3 0h2m1 0h3m12 0h5m2 0h3m-85 1h5m2 0h5m1 0h10m3 0h3m8 0h2m6 0h6m2 0h10m5 0h2m4 0h4m3 0h2m-83 1h7m2 0h2m2 0h2m2 0h3m4 0h7m1 0h2m13 0h7m3 0h2m1 0h4m15 0h4m-81 1h6m3 0h11m5 0h8m9 0h2m3 0h3m9 0h2m5 0h4m-70 1h2m5 0h2m1 0h2m1 0h2m4 0h2m2 0h5m3 0h2m1 0h2m5 0h2m1 0h3m1 0h2m3 0h2m1 0h7m1 0h2m2 0h4m-69 1h2m13 0h2m1 0h2m2 0h8m4 0h2m2 0h2m2 0h3m1 0h2m5 0h6m5 0h4m-71 1h4m1 0h4m11 0h14m4 0h9m8 0h2m1 0h8m5 0h4m-74 1h2m3 0h2m5 0h2m2 0h6m1 0h2m2 0h4m1 0h2m1 0h2m3 0h2m1 0h4m7 0h3m3 0h2m3 0h2m1 0h2m-68 1h8m3 0h8m1 0h4m3 0h4m4 0h2m2 0h4m1 0h2m10 0h4m9 0h2m1 0h2m-77 1h5m2 0h3m1 0h3m2 0h2m2 0h11m1 0h2m9 0h2m1 0h7m3 0h4m12 0h2m-74 1h2m1 0h2m1 0h7m3 0h2m3 0h2m2 0h7m3 0h3m6 0h2m3 0h4m7 0h6m6 0h3m-75 1h8m1 0h6m8 0h10m1 0h2m1 0h5m7 0h3m8 0h4m8 0h2m1 0h2m-71 1h2m2 0h2m3 0h2m4 0h5m1 0h3m4 0h2m15 0h4m4 0h3m1 0h3m4 0h6m-77 1h3m2 0h4m2 0h2m2 0h10m2 0h3m4 0h8m10 0h2m6 0h8m1 0h4m-62 1h2m3 0h4m6 0h4m3 0h2m2 0h4m10 0h5m1 0h2m2 0h9m-69 1h11m4 0h3m7 0h2m7 0h3m3 0h2m7 0h6m3 0h9m-68 1h4m5 0h3m4 0h4m8 0h7m16 0h2m1 0h3m11 0h2m-63 1h2m1 0h3m2 0h4m5 0h2m3 0h2m1 0h2m1 0h2m5 0h2m1 0h3m2 0h2m5 0h2m5 0h2m1 0h3m-68 1h2m1 0h2m4 0h2m2 0h3m2 0h2m7 0h6m9 0h6m10 0h2m7 0h2m-69 1h2m1 0h2m1 0h4m12 0h5m1 0h3m1 0h2m3 0h2m7 0h4m7 0h4m-63 1h2m1 0h8m1 0h2m13 0h2m2 0h2m5 0h3m17 0h4m-59 1h2m1 0h2m11 0h4m4 0h6m7 0h3m5 0h2m3 0h2m1 0h2m1 0h6m4 0h2m-51 1h5m2 0h3m6 0h3m1 0h3m21 0h2m-44 1h2m3 0h4m6 0h5m-21 1h2m3 0h7m2 0h7m4 0h4m2 0h3m1 0h2m3 0h3m3 0h2m-52 1h2m3 0h2m2 0h6m5 0h5m1 0h2m6 0h3m1 0h2m3 0h2m4 0h2m-52 1h2m7 0h3m13 0h2m4 0h14m1 0h2m-40 1h6m1 0h6m1 0h3m9 0h2m2 0h3m2 0h4m2 0h4m-58 1h5m4 0h2m1 0h2m2 0h5m1 0h4m2 0h4m3 0h2m6 0h2m2 0h7m-55 1h3m2 0h3m2 0h7m1 0h2m4 0h6m3 0h6m1 0h7m4 0h4m-54 1h4m1 0h2m3 0h8m2 0h2m1 0h3m5 0h4m1 0h7m2 0h2m2 0h2m-51 1h5m1 0h7m12 0h2m4 0h5m1 0h2m2 0h2m1 0h2m-47 1h5m19 0h2m6 0h3m3 0h3m-41 1h4m7 0h3m6 0h2m5 0h3m5 0h5m-40 1h3m7 0h3m6 0h2m4 0h2m1 0h4m3 0h6m-21 1h10m5 0h6m-37 1h2m5 0h2m3 0h2m5 0h4m1 0h2m4 0h2m-24 1h3m3 0h2m1 0h4m2 0h6m-23 1h2m6 0h2m1 0h3m3 0h2m-19 1h2m5 0h6m5 0h2m5 0h3m-30 1h2m4 0h2m1 0h2m3 0h2m-10 1h2m-2 1h2m1 0h2m2 1h2" stroke="#F88000" stroke-width="2" fill="none"/><path transform="translate(11.5 253) scale(0.5)" d="M40 247h2m0 1h2m-4 1h4m-8 3h4m1 0h2m-6 1h9m-10 1h4m2 0h3m12 0h4m-29 1h2m4 0h3m1 0h2m12 0h4m-26 1h2m1 0h6m4 0h2m7 0h4m1 0h2m-28 1h3m9 0h2m1 0h2m1 0h2m2 0h3m-27 1h10m7 0h2m10 0h3m2 0h2m-37 1h2m3 0h4m3 0h3m6 0h2m2 0h3m4 0h2m3 0h2m-39 1h2m5 0h2m12 0h4m7 0h2m1 0h4m-36 1h6m10 0h4m1 0h3m4 0h2m2 0h4m-38 1h8m4 0h2m8 0h2m10 0h4m-36 1h2m23 0h2m3 0h5m-31 1h2m6 0h3m13 0h7m-32 1h2m8 0h2m4 0h17m-29 1h2m9 0h2m3 0h8m3 0h2m-35 1h4m7 0h2m6 0h2m1 0h3m1 0h2m1 0h5m1 0h2m-34 1h3m17 0h5m4 0h2m1 0h3m-39 1h2m5 0h4m2 0h2m2 0h5m2 0h4m2 0h2m4 0h3m-35 1h2m2 0h3m7 0h2m4 0h9m4 0h2m-36 1h3m2 0h6m1 0h9m3 0h6m1 0h3m1 0h4m-37 1h2m3 0h3m1 0h2m2 0h8m1 0h3m2 0h3m1 0h4m-38 1h3m1 0h6m6 0h7m1 0h4m2 0h6m-34 1h5m7 0h3m2 0h2m5 0h3m2 0h8m-37 1h7m4 0h2m1 0h10m2 0h9m-35 1h11m3 0h2m1 0h4m1 0h4m1 0h2m2 0h2m-31 1h2m1 0h3m1 0h4m4 0h14m3 0h2m-37 1h2m1 0h8m6 0h5m9 0h8m-45 1h7m2 0h2m1 0h3m1 0h2m3 0h8m1 0h3m3 0h2m1 0h2m-37 1h3m9 0h3m3 0h7m7 0h6m-41 1h6m4 0h5m7 0h4m5 0h2m2 0h10m-47 1h4m1 0h4m8 0h2m6 0h5m2 0h2m1 0h2m6 0h2m-41 1h7m4 0h5m11 0h4m-32 1h2m1 0h2m1 0h7m1 0h2m4 0h2m4 0h2m7 0h4m3 0h2m-45 1h2m5 0h3m1 0h2m1 0h6m5 0h2m10 0h2m1 0h2m-34 1h2m9 0h9m-40 1h2m4 0h2m9 0h4m8 0h3m2 0h3m8 0h3m4 0h2m-53 1h4m1 0h4m5 0h7m1 0h3m2 0h5m1 0h7m1 0h4m2 0h5m4 0h2m-54 1h2m10 0h4m1 0h4m1 0h4m4 0h2m1 0h2m1 0h2m2 0h2m5 0h2m-55 1h5m1 0h2m4 0h7m13 0h3m5 0h16m-54 1h2m1 0h3m3 0h2m1 0h3m1 0h2m3 0h3m11 0h4m3 0h5m3 0h5m-54 1h6m4 0h13m14 0h2m8 0h5m-55 1h10m2 0h4m4 0h2m1 0h5m9 0h2m2 0h2m4 0h4m1 0h5m-56 1h2m1 0h2m14 0h2m1 0h2m1 0h2m1 0h3m4 0h2m1 0h2m8 0h3m1 0h7m-62 1h2m4 0h2m8 0h2m2 0h4m4 0h2m1 0h2m9 0h2m9 0h9m-59 1h5m4 0h2m1 0h2m2 0h8m3 0h2m1 0h10m8 0h8m2 0h5m-64 1h4m9 0h4m7 0h2m3 0h5m1 0h7m2 0h3m4 0h2m1 0h2m4 0h4m-65 1h4m2 0h3m3 0h3m8 0h11m2 0h6m2 0h7m4 0h2m5 0h2m-61 1h2m2 0h3m5 0h2m2 0h2m3 0h2m3 0h4m1 0h3m1 0h12m2 0h2m-50 1h2m1 0h9m4 0h16m1 0h10m3 0h4m1 0h4m1 0h2m1 0h2m-62 1h2m3 0h2m1 0h6m4 0h2m4 0h9m4 0h7m3 0h4m1 0h2m1 0h5m-58 1h2m2 0h3m1 0h2m2 0h2m2 0h5m1 0h3m1 0h6m5 0h5m3 0h6m1 0h2m-49 1h8m4 0h3m11 0h2m1 0h2m2 0h9m1 0h3m3 0h2m1 0h2m-51 1h2m2 0h3m1 0h5m8 0h4m2 0h13m3 0h2m3 0h2m-54 1h2m4 0h2m2 0h3m9 0h2m3 0h2m2 0h2m1 0h5m1 0h2m-36 1h3m3 0h3m5 0h4m1 0h4m1 0h8m1 0h2m1 0h2m-45 1h3m2 0h6m5 0h2m3 0h3m8 0h7m12 0h2m-48 1h4m1 0h2m1 0h3m5 0h2m1 0h3m5 0h3m3 0h2m10 0h5m1 0h2m-54 1h2m2 0h5m6 0h4m4 0h6m6 0h2m1 0h2m3 0h2m2 0h5m-44 1h2m2 0h6m1 0h2m3 0h5m16 0h7m1 0h2m-46 1h4m2 0h5m8 0h3m7 0h2m1 0h2m4 0h8m-36 1h3m2 0h2m2 0h2m2 0h2m3 0h5m3 0h4m3 0h5m-49 1h3m3 0h2m1 0h3m2 0h2m13 0h7m1 0h7m1 0h6m-50 1h2m6 0h3m5 0h2m6 0h4m3 0h3m1 0h2m1 0h2m1 0h4m2 0h2m-52 1h4m1 0h3m2 0h8m5 0h2m2 0h2m1 0h2m2 0h3m1 0h4m2 0h7m-49 1h8m1 0h3m1 0h2m6 0h2m4 0h2m3 0h2m1 0h6m2 0h5m-46 1h4m4 0h2m2 0h2m3 0h2m1 0h2m2 0h3m3 0h2m1 0h5m3 0h2m2 0h2m-46 1h2m3 0h2m1 0h2m6 0h2m3 0h4m5 0h6m-37 1h2m1 0h2m3 0h4m3 0h5m2 0h4m8 0h5m-37 1h5m1 0h2m1 0h9m2 0h5m4 0h2m-37 1h2m9 0h2m1 0h2m2 0h2m1 0h4m3 0h2m2 0h2m1 0h2m-36 1h2m2 0h2m3 0h3m7 0h2m7 0h2m1 0h2m6 0h2m-41 1h2m3 0h2m2 0h8m1 0h2m1 0h2m4 0h2m7 0h4m-43 1h4m1 0h3m5 0h2m2 0h2m13 0h4m-36 1h3m10 0h3m18 0h6m-29 1h2m2 0h4m1 0h2m1 0h2m-22 1h4m-3 1h3m5 0h2m-3 1h3m-12 1h2m5 0h3m-8 1h2m1 0h3m1 0h2m-6 1h2m-1 1h3" stroke="#B01525" stroke-width="2" fill="none"/><path transform="translate(11.5 253) scale(0.5)" d="M313 352h2m-11 1h2m5 0h4m2 0h2m1 0h2m-17 1h2m4 0h5m4 0h6m-19 1h6m2 0h3m1 0h4m1 0h4m-29 1h2m1 0h3m3 0h2m2 0h2m2 0h5m3 0h3m1 0h3m4 0h2m-41 1h2m1 0h12m1 0h2m1 0h7m2 0h2m1 0h8m3 0h2m-48 1h3m6 0h13m3 0h4m3 0h5m1 0h5m3 0h2m-46 1h6m2 0h3m3 0h14m4 0h2m5 0h4m1 0h4m-49 1h3m3 0h3m1 0h6m1 0h3m4 0h2m2 0h10m3 0h3m2 0h2m-51 1h2m4 0h3m3 0h2m10 0h2m4 0h2m1 0h2m7 0h4m4 0h2m-50 1h6m4 0h2m3 0h16m1 0h4m1 0h11m-47 1h5m3 0h2m3 0h4m8 0h10m2 0h3m1 0h9m-52 1h6m2 0h3m1 0h2m2 0h4m5 0h4m3 0h4m1 0h2m1 0h12m-53 1h5m4 0h5m2 0h6m2 0h2m2 0h2m1 0h3m5 0h3m2 0h2m2 0h2m2 0h2m-51 1h3m5 0h4m1 0h10m3 0h2m1 0h2m1 0h8m2 0h5m1 0h2m2 0h2m-59 1h8m2 0h2m1 0h2m5 0h6m2 0h4m5 0h3m1 0h9m2 0h6m-59 1h7m1 0h6m1 0h3m1 0h3m1 0h5m1 0h2m4 0h2m2 0h11m1 0h7m-54 1h4m2 0h2m2 0h2m4 0h2m1 0h4m2 0h2m1 0h2m1 0h7m1 0h8m5 0h3m-58 1h18m2 0h4m6 0h2m3 0h2m1 0h4m2 0h9m3 0h2m-57 1h2m1 0h7m1 0h2m1 0h4m3 0h5m4 0h2m4 0h2m1 0h2m4 0h4m1 0h2m3 0h2m-58 1h7m1 0h10m1 0h2m1 0h2m7 0h2m2 0h5m5 0h7m3 0h2m-55 1h8m2 0h5m1 0h2m3 0h5m1 0h2m2 0h2m2 0h8m4 0h2m1 0h3m3 0h2m-62 1h2m2 0h6m11 0h2m1 0h7m5 0h7m1 0h3m5 0h5m2 0h2m-57 1h6m1 0h2m1 0h13m1 0h2m4 0h3m1 0h2m1 0h2m2 0h3m3 0h8m-55 1h4m1 0h7m3 0h5m2 0h2m4 0h6m1 0h11m5 0h8m-61 1h5m3 0h4m2 0h2m2 0h7m3 0h2m1 0h3m4 0h5m3 0h2m1 0h2m2 0h5m-56 1h13m2 0h7m1 0h2m6 0h4m2 0h3m5 0h3m1 0h2m-53 1h2m1 0h3m2 0h5m1 0h7m1 0h2m2 0h2m10 0h9m3 0h4m-50 1h3m2 0h9m1 0h8m1 0h4m2 0h4m8 0h2m1 0h2m1 0h3m-52 1h5m5 0h2m1 0h8m2 0h3m6 0h5m4 0h2m1 0h4m-49 1h2m4 0h4m1 0h3m1 0h6m3 0h6m5 0h3m2 0h2m3 0h4m-49 1h4m1 0h2m1 0h8m1 0h3m1 0h13m1 0h2m5 0h6m-45 1h4m3 0h4m2 0h10m1 0h2m7 0h3m1 0h7m-42 1h3m2 0h2m1 0h3m2 0h2m4 0h2m1 0h2m2 0h5m1 0h3m-34 1h8m1 0h2m5 0h4m5 0h4m1 0h10m-40 1h2m2 0h3m1 0h3m5 0h4m3 0h2m6 0h5m-34 1h2m4 0h3m2 0h4m2 0h2m1 0h5m3 0h5m-28 1h12m1 0h3m6 0h3m1 0h2m-30 1h2m1 0h3m1 0h7m4 0h3m-21 1h2m3 0h2m1 0h2m2 0h2m2 0h2m1 0h2m1 0h6m-21 1h2" stroke="#FFC4D0" stroke-width="2" fill="none"/><path transform="translate(11.5 253) scale(0.5)" d="M426 226h2m3 0h3m-11 1h5m-8 1h2m2 0h2m3 0h2m1 0h3m-17 1h4m1 0h2m2 0h2m-10 1h5m1 0h4m3 0h5m-21 1h4m2 0h4m3 0h2m4 0h3m-18 1h9m2 0h3m2 0h2m1 0h2m-28 1h2m3 0h6m3 0h3m2 0h3m-22 1h2m2 0h4m1 0h16m-24 1h4m1 0h2m1 0h7m2 0h2m1 0h6m-30 1h3m2 0h3m2 0h4m1 0h4m1 0h2m-18 1h3m2 0h5m1 0h2m1 0h2m1 0h2m1 0h6m-29 1h6m2 0h7m5 0h8m-28 1h15m1 0h2m4 0h6m-28 1h2m1 0h4m1 0h8m1 0h2m1 0h9m-34 1h4m4 0h5m4 0h11m2 0h3m-33 1h2m3 0h2m2 0h2m2 0h7m3 0h9m-34 1h6m2 0h2m2 0h4m2 0h5m1 0h6m1 0h3m-35 1h3m1 0h5m2 0h4m5 0h5m2 0h2m3 0h2m-32 1h6m2 0h3m1 0h2m1 0h12m1 0h3m-32 1h8m2 0h4m2 0h4m4 0h3m-29 1h5m2 0h4m1 0h7m2 0h4m1 0h3m-30 1h11m2 0h5m3 0h3m-22 1h3m1 0h3m1 0h4m1 0h3m1 0h10m-28 1h5m1 0h2m3 0h5m2 0h6m-24 1h6m2 0h6m1 0h3m3 0h2m-25 1h11m1 0h13m-25 1h11m2 0h2m8 0h2m-25 1h6m1 0h2m3 0h8m1 0h3m-24 1h4m1 0h5m1 0h9m-21 1h10m1 0h9m-13 1h2m6 0h3m-18 1h17m-16 1h4m2 0h3m-1 1h2m-5 1h2" stroke="#3A80C4" stroke-width="2" fill="none"/><path transform="translate(11.5 253) scale(0.5)" d="M47 84h3m-9 1h2m1 0h2m2 0h2m3 0h2m-17 1h13m1 0h7m-12 1h2m2 0h7m-23 1h4m5 0h5m3 0h2m3 0h4m-25 1h2m3 0h2m1 0h5m3 0h5m3 0h2m-28 1h2m12 0h2m1 0h4m3 0h4m-31 1h2m3 0h4m3 0h5m6 0h9m-33 1h2m2 0h4m2 0h2m1 0h2m5 0h3m2 0h2m1 0h4m-32 1h4m4 0h2m1 0h2m1 0h4m1 0h6m2 0h8m-34 1h2m4 0h6m2 0h2m3 0h9m4 0h2m-33 1h4m2 0h9m5 0h8m4 0h2m-39 1h2m4 0h3m2 0h8m8 0h4m1 0h3m2 0h2m-38 1h2m3 0h8m3 0h8m1 0h3m3 0h2m-33 1h3m2 0h2m1 0h8m3 0h5m1 0h2m1 0h7m-34 1h2m1 0h2m2 0h8m1 0h2m5 0h5m4 0h2m4 0h2m-31 1h4m3 0h9m2 0h7m-33 1h2m2 0h6m1 0h2m2 0h4m1 0h3m6 0h4m-35 1h2m7 0h2m1 0h3m2 0h2m3 0h2m4 0h3m2 0h2m1 0h3m-39 1h7m5 0h4m3 0h2m6 0h2m1 0h3m4 0h2m-38 1h4m3 0h2m1 0h2m1 0h3m2 0h3m3 0h2m6 0h7m-40 1h8m3 0h2m3 0h3m4 0h2m8 0h3m-35 1h5m4 0h11m4 0h2m1 0h3m-33 1h5m1 0h2m8 0h2m3 0h3m4 0h4m1 0h4m-35 1h10m1 0h2m1 0h8m2 0h6m-29 1h2m5 0h2m1 0h2m3 0h4m1 0h2m2 0h7m1 0h3m-34 1h3m3 0h2m1 0h14m1 0h4m1 0h4m-33 1h3m1 0h7m1 0h10m2 0h2m1 0h6m-32 1h2m3 0h2m1 0h23m-30 1h6m1 0h3m2 0h3m1 0h14m-28 1h2m2 0h7m5 0h2m1 0h5m2 0h2m-30 1h2m1 0h3m6 0h7m4 0h2m-23 1h2m3 0h2m2 0h9m-15 1h4m1 0h5m3 0h2m-9 1h2m0 1h6" stroke="#BACAF0" stroke-width="2" fill="none"/><path transform="translate(11.5 253) scale(0.5)" d="M200 18h2m-4 1h2m-4 1h2m1 0h2m1 0h4m-15 1h2m5 0h2m4 0h2m2 0h2m-21 1h2m2 0h8m3 0h6m-15 1h2m1 0h13m-22 1h2m1 0h2m2 0h9m2 0h2m-19 1h2m5 0h2m2 0h11m1 0h2m-20 1h10m1 0h4m2 0h2m-28 1h2m2 0h15m2 0h6m-24 1h5m1 0h2m1 0h7m1 0h6m-26 1h9m3 0h4m3 0h4m1 0h2m-23 1h2m6 0h4m5 0h2m1 0h6m13 0h2m-46 1h13m1 0h2m3 0h5m2 0h5m6 0h2m2 0h6m2 0h2m-50 1h4m3 0h2m1 0h2m2 0h5m1 0h2m2 0h2m1 0h3m6 0h3m2 0h3m3 0h3m-49 1h2m1 0h6m2 0h3m4 0h10m4 0h2m1 0h2m2 0h2m4 0h4m-51 1h3m2 0h6m1 0h11m5 0h4m4 0h13m1 0h3m-54 1h7m1 0h5m4 0h9m2 0h2m4 0h3m6 0h4m3 0h3m1 0h3m-50 1h6m5 0h2m1 0h7m1 0h2m12 0h2m4 0h4m1 0h2m-56 1h2m2 0h2m1 0h7m4 0h3m1 0h4m1 0h4m2 0h2m1 0h3m6 0h3m2 0h6m1 0h2m-53 1h2m1 0h2m2 0h2m1 0h2m3 0h8m3 0h7m1 0h2m1 0h4m4 0h2m-51 1h11m2 0h7m1 0h2m5 0h2m4 0h8m7 0h6m-54 1h5m1 0h3m3 0h2m2 0h5m2 0h2m6 0h5m3 0h5m1 0h2m1 0h2m3 0h3m-55 1h4m1 0h7m5 0h13m1 0h3m6 0h2m4 0h2m3 0h2m-54 1h2m3 0h5m2 0h8m2 0h4m1 0h10m4 0h7m1 0h3m-50 1h2m2 0h2m3 0h4m2 0h4m3 0h2m1 0h5m1 0h4m2 0h2m1 0h5m1 0h3m-51 1h2m2 0h4m1 0h8m1 0h4m1 0h3m2 0h9m2 0h6m1 0h9m-52 1h4m1 0h4m2 0h5m1 0h2m1 0h4m1 0h7m1 0h3m5 0h11m-49 1h2m4 0h3m3 0h2m2 0h7m1 0h2m1 0h6m7 0h9m-48 1h8m1 0h8m2 0h13m2 0h2m1 0h2m-38 1h2m2 0h4m7 0h4m6 0h5m1 0h8m4 0h2m-44 1h3m5 0h2m2 0h16m4 0h2m2 0h4m3 0h2m-42 1h2m9 0h2m5 0h6m1 0h4m2 0h2m1 0h2m2 0h2m-42 1h3m3 0h2m3 0h5m6 0h4m4 0h2m2 0h2m1 0h2m-39 1h2m2 0h6m1 0h2m8 0h3m9 0h3m-33 1h2m2 0h2m2 0h2m1 0h4m1 0h2m1 0h2m1 0h2m2 0h2m4 0h2m-34 1h3m4 0h2m1 0h3m16 0h6m-37 1h2m3 0h2m1 0h2m3 0h4m17 0h2m-34 1h2m3 0h4m1 0h4m13 0h2m-27 1h6m2 0h2m1 0h5m-18 1h2m3 0h2m2 0h2m-3 1h7m-11 1h2m2 0h3m2 0h3m-12 1h2m8 0h2m-9 1h3" stroke="#E2DE6B" stroke-width="2" fill="none"/><path transform="translate(11.5 253) scale(0.5)" d="M181 198h2m-4 1h6m-5 1h5m-8 1h7m1 0h2m-12 1h5m1 0h2m-7 1h6m3 0h3m-13 1h14m-14 1h6m1 0h6m-11 1h11m-11 1h11m-10 1h6m-4 1h3m-10 18h6m-7 1h8m-9 1h11m1 0h2m-14 1h2m1 0h9m1 0h2m-17 1h17m-17 1h5m2 0h2m1 0h8m-19 1h5m1 0h2m1 0h4m1 0h5m-19 1h7m3 0h2m5 0h2m-19 1h9m1 0h2m1 0h2m1 0h4m-20 1h2m1 0h3m2 0h12m-17 1h18m-20 1h9m1 0h8m-18 1h18m-17 1h2m2 0h12m-13 1h6m1 0h6m-11 1h10m-12 1h4m1 0h6m-11 1h9m-4 1h2m-33 17h2m2 0h2m-8 1h8m-8 1h9m-8 1h9m-12 1h4m2 0h2m1 0h2m-10 1h3m1 0h7m-9 1h7m-7 1h3m2 0h4m-10 1h2m1 0h2m-4 1h5" stroke="#4A2A1C" stroke-width="2" fill="none"/><path transform="translate(11.5 253) scale(0.5)" d="M179 150h3m3 4h3m13 2h3m-11 5h3m-16 1h3m3 0h3m15 3h3m-18 1h3m6 1h3m-23 1h3m25 2h3m-28 1h3m18 0h3m-32 2h3m13 1h3m-7 1h3m1 2h3m3 6h3m2 2h3m2 2h3m-12 1h3m10 1h3m-21 4h3m-18 4h3m9 4h3m19 6h3m-18 10h3m-10 5h3m-8 8h3m-27 41h3m16 5h3m-33 2h3m47 2h3m29 0h3m-28 2h3m14 0h3m-4 1h3m-81 1h3m18 1h3m32 0h3m15 1h3m-74 4h3m8 1h3m-23 2h3m76 1h3m-6 6h3m-20 4h3m60 1h3m-115 3h3m120 4h3m-13 1h3m8 0h3m0 2h3m-162 9h3m3 2h3m154 0h3m-169 3h3m1 4h3m143 4h3m25 1h3m-180 2h3m15 0h3m155 0h3m-124 3h3m106 4h3m-153 1h3m95 0h3m46 0h3m-118 2h3m111 0h3m-1 1h3m-3 1h3m-3 1h3m15 0h3m-30 1h3m7 0h6m-10 3h3m-9 1h3m8 0h3m8 0h3m-150 1h3m123 0h3m6 2h3m-147 1h3m18 0h4m112 0h3m8 1h3m-6 1h4m-147 1h3m30 0h3m101 0h3m-150 1h3m157 1h3m2 0h3m-143 1h3m123 0h3m-133 2h3m119 0h6m5 0h3m-11 1h5m-53 2h3m54 0h3m5 1h3m-151 1h3m6 2h4m107 0h3m-115 1h3m128 1h3m-14 1h3m8 1h4m-17 1h3m-15 4h3m18 1h3m-132 1h3m126 2h3m2 2h3m-118 1h3m105 0h3m-106 3h3m78 4h3m6 0h3m-110 1h3m24 1h3m-18 1h5m9 0h3m-8 1h3m2 4h3m10 1h3m13 1h3m11 1h3m-28 1h3m33 2h3m-14 1h3m-26 1h3m8 2h3m-13 8h3m33 1h3" stroke="#683A5E" stroke-width="2.3" fill="none"/><path transform="translate(11.5 253) scale(0.5)" d="M218 48h3m-4 2h3m-21 1h3m3 1h5m6 0h3m-13 1h3m4 0h3m1 1h3m-20 3h3m13 0h3m-9 1h3m-18 1h3m18 0h3m-3 5h3m-15 14h3m-2 9h3m-5 5h3m-8 1h3m-6 11h3m9 0h3m93 2h3m38 2h3m-45 1h3m2 0h3m1 0h3m-114 3h3m148 0h3m-138 1h3m140 0h3m-16 1h3m-153 1h3m167 1h3m-64 1h3m-124 1h3m26 1h6m75 0h3m12 1h3m-111 3h3m-20 1h3m139 0h3m23 0h3m-158 2h3m109 0h3m6 1h3m-131 1h6m128 0h3m-143 2h3m130 1h3m-30 2h3m-1 1h3m65 0h3m-5 1h3m-48 1h3m43 3h3m-62 1h3m3 0h3m48 0h3m-169 2h3m86 0h3m82 0h3m-92 1h3m42 0h3m-35 1h5m69 0h3m-109 1h3m101 0h3m-159 1h3m23 0h3m91 0h3m-42 1h3m22 0h3m-25 1h3m-5 2h3m74 0h3m-170 1h3m10 0h3m40 0h3m32 1h3m87 2h3m-53 2h3m-113 1h3m-11 2h3m-14 1h3m-2 1h3m11 0h3m72 1h3m-86 4h3m0 1h3m-4 1h3m161 0h3m-182 2h3m55 0h3m-61 2h3m4 1h3m3 2h3m-1 3h3m-14 1h3m13 0h3m164 1h3m-30 2h3m18 0h3m-36 3h3m-141 9h3m159 3h3m-168 1h3m9 0h3m155 3h3m-34 1h3m26 8h3m8 1h3m2 2h3m-31 2h3m1 0h3m0 1h3m-145 1h3m7 1h3m137 1h3m-153 1h5m150 0h3m-134 3h3m47 4h3m80 0h3m-135 2h3m91 3h3m-84 6h3m108 4h3m2 0h3m-104 2h3m-2 1h3m-17 3h3m87 0h3m-79 1h3m78 3h3m-19 2h3m-4 1h3m-74 1h3m15 0h3m19 0h3m34 0h3m-61 1h3m43 0h3m-27 2h3m49 7h3" stroke="#8DBE0B" stroke-width="2.3" fill="none"/><path transform="translate(11.5 253) scale(0.5)" d="M265 27h3m8 5h3m-35 6h3m33 1h3m-13 1h3m-22 2h3m-23 17h3m82 6h3m-19 3h3m-103 1h3m31 2h3m60 0h3m-78 1h3m74 0h3m19 2h3m-18 1h3m-85 1h3m85 0h3m1 4h3m-4 3h3m-125 1h3m48 3h3m-60 1h3m117 1h3m4 1h3m-4 2h3m9 1h3m-56 3h3m-85 3h3m9 1h3m6 0h3m96 0h3m-117 2h3m110 0h3m-109 2h3m-10 1h3m70 0h3m-57 1h3m-12 1h3m78 0h3m13 1h3m-42 1h3m-67 1h3m7 0h3m102 0h3m-16 1h3m7 1h3m-16 1h3m2 3h3m-109 1h3m104 4h3m-114 8h3m93 2h6m-84 1h3m7 2h4m62 1h3m6 1h3m-13 1h3m-35 2h3m-33 3h3m45 2h3m-21 2h3m32 0h3m-43 1h3m-14 1h3m18 1h3" stroke="#F5D000" stroke-width="2.3" fill="none"/><path transform="translate(11.5 253) scale(0.5)" d="M197 162h3m-9 5h3m-10 12h3m14 1h3m-8 2h3m7 0h3m-25 8h3m1 1h3m-3 1h6m-4 1h3m-13 7h3m19 4h3m-12 1h3m-2 5h3m19 1h3m-30 6h3m-14 3h3m22 0h3m23 3h3m4 0h3m-53 2h3m4 0h6m34 2h3m13 0h3m-9 1h3m-50 7h3m69 1h3m-28 3h3m-54 1h3m53 3h3m96 9h3m-84 3h3m-13 5h3m-69 1h3m68 0h3m29 0h3m-108 1h3m92 0h3m49 0h3m-83 1h3m-53 1h3m70 0h3m49 4h3m23 0h3m-185 1h3m15 2h3m46 1h3m-59 2h3m66 1h3m-35 2h3m-12 2h3m5 0h3m-7 1h3m36 4h3m2 1h3m38 2h3m67 2h3m-118 2h3m51 7h3m-59 5h3m4 1h3m99 0h3m-91 3h3m-3 3h3m78 2h3m-3 3h3m-45 10h3m-31 1h3m-2 1h3m17 1h4m38 1h3m-58 2h3m39 0h3m-14 1h3m15 1h3m-22 1h3m-29 2h3m13 0h3m13 1h3m-25 1h3m10 2h3m20 0h3m-59 4h3m9 0h5m-21 3h3m8 1h3m-4 6h3m-1 1h5m2 2h3m-16 2h3m14 2h3m-19 1h3" stroke="#15763A" stroke-width="2.3" fill="none"/><path transform="translate(11.5 253) scale(0.5)" d="M122 153h3m3 4h3m-46 3h3m30 4h3m-60 3h3m80 0h3m-1 2h3m4 0h3m-8 3h3m-7 2h3m11 1h3m-8 6h3m-108 12h3m97 0h3m-56 1h3m52 5h3m-108 3h3m53 1h3m-54 5h3m102 0h3m-50 1h3m-66 1h3m0 1h3m1 2h3m98 0h3m-105 3h3m-14 1h3m13 3h3m77 4h3m-74 4h3m-25 4h3m9 1h3m101 1h3m-4 4h3m-104 7h3m78 3h3m-39 1h3m-12 1h3m44 2h3m-77 3h3m-6 1h3m2 0h3m57 4h3m-3 8h3m-2 4h3m-47 2h3m27 1h3m-19 2h3m-8 1h3m8 0h3m4 2h3m-27 2h6m-3 2h3" stroke="#F88000" stroke-width="2.3" fill="none"/><path transform="translate(11.5 253) scale(0.5)" d="M33 248h3m11 0h3m-16 1h3m31 4h3m-40 2h3m30 3h3m-33 8h3m-18 4h3m15 0h3m-13 3h3m47 1h3m-52 3h3m58 0h3m-67 4h3m-9 3h3m-1 4h3m18 1h3m6 1h3m26 0h3m-22 6h3m-44 5h3m61 0h3m4 1h3m-68 1h3m67 3h3m-7 10h3m-15 3h3m-56 1h3m44 3h3m-5 1h3m-23 4h4m1 4h3m-7 1h3m20 1h3m-20 1h3m-1 7h3m10 3h3" stroke="#B01525" stroke-width="2.3" fill="none"/><path transform="translate(11.5 253) scale(0.5)" d="M316 344h3m11 6h3m8 3h3m-56 9h3m58 1h3m-68 2h3m1 17h3m53 9h3m-51 1h3m53 1h3m-32 1h3m-29 6h3m26 6h3" stroke="#FFC4D0" stroke-width="2.3" fill="none"/><path transform="translate(11.5 253) scale(0.5)" d="M205 126h3m-7 31h3m-20 1h3m12 28h3m231 26h3m7 17h3m-46 5h3m48 6h3m-57 13h3m44 3h3m-61 1h3m27 7h3" stroke="#3A80C4" stroke-width="2.3" fill="none"/><path transform="translate(11.5 253) scale(0.5)" d="M53 70h3m-38 9h3m36 0h3m-31 15h3m37 4h3m13 10h3m-78 5h3m20 3h3m18 0h3m-2 2h3m-4 1h3" stroke="#BACAF0" stroke-width="2.3" fill="none"/><path transform="translate(11.5 253) scale(0.5)" d="M206 9h3m-25 7h3m19 5h3m-26 4h3m57 4h3m-68 8h3m73 2h3m-77 20h3m49 0h3m-47 1h3m6 2h3m-1 4h3m-16 3h3m31 0h3m-7 4h3" stroke="#E2DE6B" stroke-width="2.3" fill="none"/><path transform="translate(11.5 253) scale(0.5)" d="M164 212h3m29 1h3m-11 3h3m-7 3h3m-20 18h3m19 1h3m-40 18h3m-17 2h3m24 4h3m-15 1h3m-4 13h3" stroke="#4A2A1C" stroke-width="2.3" fill="none"/>
<rect x="11.5" y="252.5" width="229" height="216" fill="none" stroke="#707070" stroke-width="1.1"/>
<text x="143.6" y="302" font-size="9.3" fill="#222" stroke="#222" text-anchor="middle" stroke-width="0">1</text>
<text x="166" y="354" font-size="9.3" fill="#222" stroke="#222" text-anchor="middle" stroke-width="0">2</text>
<text x="161" y="396.5" font-size="9.3" fill="#222" stroke="#222" text-anchor="middle" stroke-width="0">3</text>
<text x="113.5" y="276.5" font-size="9.3" fill="#222" stroke="#222" text-anchor="middle" stroke-width="0">4</text>
<text x="23.5" y="391.5" font-size="9.3" fill="#222" stroke="#222" text-anchor="middle" stroke-width="0">5</text>
<text x="65" y="366.2" font-size="9.3" fill="#222" stroke="#222" text-anchor="middle" stroke-width="0">6</text>
<text x="80.6" y="441.8" font-size="9.3" fill="#222" stroke="#222" text-anchor="middle" stroke-width="0">7</text>
<text x="166.4" y="441.5" font-size="9.3" fill="#222" stroke="#222" text-anchor="middle" stroke-width="0">8</text>
<text x="222" y="392" font-size="9.3" fill="#222" stroke="#222" text-anchor="middle" stroke-width="0">9</text>
<text x="32.6" y="307" font-size="9.3" fill="#222" stroke="#222" text-anchor="middle" stroke-width="0">10</text>
<text x="95.3" y="365.2" font-size="9.3" fill="#222" stroke="#222" text-anchor="middle" stroke-width="0">11</text>
<text transform="translate(8.4 364) rotate(-90)" font-size="9" fill="#111" stroke="#111" text-anchor="middle">t-SNE 2</text>
<text x="125" y="481.2" font-size="9" fill="#111" stroke="#111" text-anchor="middle">t-SNE 1</text>
<path transform="translate(252 253.5) scale(0.5)" d="M88 10h4m2 0h2m-3 2h2m-8 1h2m2 0h2m17 0h2m12 0h3m-38 1h2m2 0h4m30 0h2m-34 1h2m4 0h2m23 0h2m2 0h2m-30 1h2m3 0h2m4 0h3m2 0h2m-26 1h2m11 0h2m4 0h3m-24 1h4m1 0h3m1 0h2m3 0h2m6 0h3m4 0h2m1 0h3m-30 1h2m4 0h2m2 0h4m3 0h2m2 0h3m7 0h2m-32 1h2m2 0h2m1 0h2m20 0h2m8 0h2m-35 1h3m38 0h2m-44 1h2m6 0h3m-14 1h4m1 0h5m5 0h2m2 0h6m-23 1h2m7 0h2m1 0h2m2 0h2m-20 1h3m1 0h2m1 0h2m6 0h5m4 0h2m7 0h2m-28 1h2m1 0h2m2 0h2m3 0h8m-23 1h2m3 0h4m12 0h3m-21 1h3m5 0h2m1 0h7m-18 1h2m1 0h2m1 0h6m8 0h2m8 0h2m-30 1h3m3 0h2m1 0h2m3 0h2m6 0h2m-26 1h2m3 0h2m11 0h2m4 0h2m1 0h2m2 0h2m-33 1h3m5 0h6m-6 1h2m4 0h2m11 0h2m-33 1h4m4 0h2m6 0h2m12 0h2m-35 1h2m15 0h2m7 0h2m6 0h2m4 0h2m-31 1h2m9 0h4m-19 1h4m3 0h5m1 0h2m1 0h4m1 0h6m4 0h2m-39 1h3m4 0h2m5 0h2m5 0h2m15 0h2m-37 1h2m8 0h2m7 0h2m3 0h2m3 0h3m-33 1h2m20 0h3m-27 1h2m4 0h4m12 0h4m2 0h4m6 0h2m-43 1h2m22 0h2m2 0h2m1 0h2m8 0h2m-118 1h2m3 0h2m64 0h2m3 0h2m21 0h2m1 0h5m3 0h2m4 0h4m-129 1h2m7 0h2m1 0h3m94 0h4m12 0h2m-113 1h2m69 0h2m37 0h2m-125 1h2m81 0h2m27 0h2m9 0h4m-127 1h2m92 0h2m14 0h3m27 0h2m-140 1h2m3 0h2m82 0h2m10 0h2m1 0h2m2 0h4m9 0h2m-119 1h2m5 0h2m80 0h2m1 0h3m2 0h3m6 0h2m10 0h2m-120 1h4m70 0h2m4 0h2m7 0h3m14 0h2m12 0h2m-122 1h2m1 0h3m71 0h2m5 0h2m5 0h2m8 0h4m16 0h2m1 0h2m-34 1h3m4 0h2m19 0h2m2 0h2m-134 1h2m75 0h2m18 0h2m2 0h2m2 0h2m11 0h2m2 0h2m1 0h2m3 0h2m10 0h2m-58 1h2m4 0h2m3 0h5m3 0h2m24 0h4m-132 1h2m79 0h2m25 0h3m4 0h2m14 0h2m10 0h4m-60 1h2m4 0h2m1 0h3m1 0h2m3 0h2m3 0h2m10 0h2m4 0h4m-128 1h2m7 0h2m70 0h2m12 0h2m5 0h2m15 0h4m17 0h2m-134 1h2m64 0h2m17 0h2m11 0h2m1 0h2m1 0h4m4 0h2m5 0h2m2 0h2m-44 1h2m3 0h2m8 0h2m1 0h2m3 0h4m5 0h4m4 0h2m-33 1h2m3 0h2m7 0h2m6 0h4m-46 1h3m10 0h2m7 0h2m4 0h4m1 0h2m1 0h2m4 0h2m3 0h2m-38 1h2m6 0h2m4 0h2m5 0h4m3 0h4m3 0h2m5 0h2m-54 1h2m9 0h2m3 0h6m1 0h4m14 0h2m16 0h2m1 0h3m-69 1h2m12 0h2m9 0h2m1 0h5m1 0h2m2 0h2m2 0h2m20 0h2m3 0h2m-59 1h2m1 0h7m3 0h3m3 0h5m5 0h2m1 0h2m3 0h2m22 0h2m-55 1h5m3 0h4m1 0h2m4 0h2m12 0h2m10 0h2m-57 1h4m4 0h4m6 0h5m4 0h4m2 0h2m2 0h3m3 0h2m15 0h2m-58 1h4m4 0h2m1 0h2m11 0h4m21 0h5m9 0h2m-67 1h6m10 0h2m11 0h3m1 0h5m12 0h2m-52 1h4m17 0h2m1 0h2m1 0h2m4 0h3m13 0h2m7 0h2m-58 1h2m38 0h2m8 0h3m1 0h3m1 0h2m-131 1h2m69 0h2m4 0h2m14 0h2m6 0h2m16 0h2m1 0h2m1 0h2m-58 1h3m22 0h3m12 0h6m2 0h2m10 0h2m-61 1h3m6 0h2m24 0h2m8 0h2m-47 1h2m1 0h2m1 0h2m31 0h2m2 0h2m8 0h2m-98 1h2m29 0h3m9 0h3m22 0h2m14 0h2m-106 1h7m14 0h2m40 0h2m21 0h2m9 0h2m8 0h2m4 0h2m-64 1h2m11 0h2m15 0h2m9 0h2m13 0h2m-115 1h2m5 0h2m1 0h2m7 0h2m27 0h2m4 0h2m12 0h2m14 0h2m8 0h2m13 0h2m19 0h2m-153 1h2m14 0h2m9 0h3m1 0h2m5 0h2m40 0h2m35 0h2m8 0h2m2 0h2m10 0h2m-109 1h2m6 0h2m79 0h2m1 0h2m-98 1h2m1 0h4m2 0h4m30 0h2m5 0h2m13 0h2m3 0h3m5 0h2m13 0h2m3 0h2m-117 1h4m3 0h4m7 0h2m3 0h2m3 0h4m34 0h4m2 0h2m14 0h8m3 0h2m6 0h2m4 0h2m-107 1h2m9 0h3m3 0h3m1 0h2m31 0h8m2 0h2m2 0h2m8 0h4m20 0h2m-120 1h2m6 0h3m14 0h2m1 0h2m5 0h3m1 0h2m32 0h2m6 0h2m7 0h2m4 0h2m1 0h4m16 0h4m1 0h2m3 0h3m1 0h2m1 0h2m-134 1h3m8 0h2m10 0h3m2 0h3m3 0h2m31 0h2m3 0h2m9 0h2m8 0h2m1 0h2m9 0h2m3 0h3m-113 1h2m9 0h2m4 0h4m6 0h4m9 0h2m21 0h2m2 0h2m3 0h2m4 0h6m2 0h2m7 0h2m1 0h2m1 0h2m15 0h2m-122 1h3m4 0h2m2 0h2m3 0h3m2 0h2m1 0h6m4 0h3m31 0h2m14 0h2m35 0h2m4 0h2m10 0h2m4 0h2m-149 1h2m11 0h4m3 0h3m2 0h2m7 0h2m32 0h2m5 0h2m4 0h2m3 0h2m10 0h2m1 0h4m11 0h4m8 0h2m-124 1h2m19 0h3m37 0h4m3 0h2m3 0h4m8 0h2m4 0h2m8 0h2m7 0h2m4 0h2m-112 1h2m2 0h3m3 0h3m2 0h2m2 0h4m3 0h2m31 0h2m13 0h7m23 0h3m17 0h2m-135 1h4m2 0h2m10 0h2m9 0h2m5 0h2m25 0h2m23 0h2m1 0h4m34 0h2m4 0h2m-126 1h5m8 0h2m4 0h4m41 0h2m1 0h4m3 0h2m13 0h2m8 0h2m3 0h3m5 0h2m4 0h2m7 0h2m-142 1h4m5 0h2m5 0h3m15 0h2m1 0h3m40 0h2m5 0h6m5 0h3m5 0h2m1 0h4m24 0h2m1 0h2m-134 1h2m1 0h2m21 0h4m2 0h2m3 0h2m17 0h2m8 0h2m10 0h2m3 0h2m1 0h2m1 0h2m29 0h2m4 0h3m-133 1h2m15 0h2m5 0h2m3 0h3m4 0h2m24 0h2m17 0h2m9 0h5m11 0h2m1 0h2m7 0h2m15 0h3m-141 1h4m15 0h2m6 0h2m35 0h2m52 0h2m10 0h2m4 0h3m-130 1h2m2 0h2m10 0h2m10 0h2m1 0h2m24 0h2m8 0h4m4 0h2m4 0h2m5 0h2m4 0h2m1 0h2m9 0h2m8 0h2m5 0h2m1 0h2m-140 1h4m4 0h4m7 0h4m7 0h4m1 0h2m41 0h2m9 0h2m10 0h2m4 0h2m2 0h4m1 0h2m2 0h2m7 0h2m2 0h2m2 0h2m-138 1h2m4 0h4m4 0h2m6 0h2m1 0h2m4 0h2m3 0h2m40 0h2m2 0h2m16 0h2m3 0h6m5 0h2m12 0h3m2 0h4m3 0h2m6 0h2m-156 1h5m11 0h2m67 0h3m9 0h7m3 0h2m1 0h2m2 0h2m1 0h3m7 0h2m1 0h2m1 0h2m6 0h2m1 0h2m-134 1h2m23 0h5m34 0h3m3 0h2m12 0h3m9 0h4m5 0h2m5 0h3m3 0h4m4 0h4m-138 1h2m5 0h2m6 0h3m1 0h3m4 0h2m4 0h3m34 0h4m4 0h8m2 0h2m3 0h4m5 0h2m4 0h4m1 0h4m15 0h3m-131 1h4m6 0h2m2 0h2m5 0h2m8 0h2m3 0h2m29 0h2m4 0h2m5 0h2m2 0h2m7 0h2m9 0h4m5 0h2m1 0h2m1 0h2m1 0h2m3 0h2m2 0h2m-138 1h2m13 0h2m8 0h2m16 0h2m29 0h4m6 0h2m3 0h2m12 0h6m2 0h5m1 0h4m12 0h2m-127 1h2m16 0h5m5 0h2m38 0h2m7 0h2m2 0h5m2 0h4m4 0h2m4 0h4m2 0h4m5 0h2m7 0h2m-137 1h3m19 0h2m2 0h2m3 0h2m2 0h2m6 0h2m5 0h2m31 0h3m2 0h2m1 0h2m2 0h2m17 0h2m2 0h3m2 0h2m-98 1h2m64 0h4m11 0h2m-104 1h2m6 0h2m8 0h2m2 0h6m1 0h2m44 0h2m7 0h2m1 0h2m15 0h3m10 0h5m41 0h2m-169 1h2m22 0h2m4 0h2m5 0h2m32 0h2m7 0h3m9 0h3m3 0h2m3 0h2m1 0h2m17 0h4m33 0h2m2 0h2m-164 1h2m1 0h2m16 0h5m10 0h2m30 0h2m6 0h3m7 0h2m4 0h2m1 0h6m6 0h2m4 0h5m1 0h2m15 0h2m19 0h2m3 0h2m-161 1h2m7 0h4m2 0h2m6 0h2m4 0h2m35 0h2m2 0h4m2 0h2m7 0h3m4 0h8m3 0h2m5 0h2m2 0h2m36 0h3m-152 1h4m4 0h5m1 0h3m11 0h2m30 0h2m25 0h2m4 0h2m13 0h2m3 0h4m-122 1h2m3 0h4m1 0h2m1 0h2m3 0h4m1 0h2m6 0h3m27 0h2m6 0h4m19 0h2m6 0h2m7 0h2m3 0h4m1 0h2m1 0h2m28 0h2m8 0h3m-172 1h2m6 0h2m4 0h2m5 0h4m42 0h2m8 0h2m15 0h3m9 0h4m11 0h2m40 0h5m-166 1h3m2 0h2m1 0h4m5 0h2m2 0h2m41 0h2m6 0h2m30 0h2m53 0h2m1 0h3m1 0h2m-167 1h5m4 0h2m4 0h4m1 0h2m40 0h3m39 0h2m3 0h4m5 0h2m4 0h4m6 0h2m20 0h2m1 0h6m-154 1h2m4 0h2m1 0h2m72 0h2m5 0h4m18 0h2m28 0h2m3 0h2m2 0h2m2 0h4m-169 1h3m1 0h2m3 0h4m2 0h2m5 0h2m2 0h2m6 0h2m44 0h2m32 0h2m37 0h4m1 0h8m1 0h2m-158 1h2m18 0h2m64 0h4m3 0h2m8 0h2m1 0h2m1 0h2m3 0h2m22 0h2m2 0h2m4 0h2m5 0h2m-168 1h2m1 0h2m4 0h2m2 0h2m46 0h2m39 0h2m7 0h2m9 0h2m2 0h2m25 0h4m2 0h6m-169 1h2m3 0h2m1 0h2m2 0h2m20 0h2m30 0h2m37 0h2m11 0h2m41 0h2m-160 1h4m17 0h4m2 0h2m3 0h4m21 0h2m20 0h2m24 0h2m8 0h2m53 0h2m-175 1h2m2 0h2m1 0h6m6 0h2m3 0h2m1 0h8m44 0h2m38 0h2m37 0h2m11 0h2m-177 1h2m6 0h2m3 0h2m7 0h4m5 0h2m3 0h2m24 0h3m5 0h2m1 0h2m11 0h2m20 0h2m19 0h2m34 0h2m-167 1h2m7 0h8m5 0h4m4 0h3m37 0h2m2 0h2m5 0h2m2 0h2m35 0h2m4 0h2m-126 1h3m9 0h2m11 0h2m2 0h2m1 0h2m26 0h4m11 0h2m7 0h2m5 0h2m26 0h2m40 0h2m-157 1h2m6 0h2m4 0h4m8 0h2m27 0h5m1 0h2m14 0h2m17 0h4m5 0h2m12 0h2m23 0h2m-156 1h2m3 0h3m4 0h2m3 0h2m44 0h2m1 0h2m3 0h2m11 0h2m2 0h2m18 0h2m52 0h2m-160 1h2m15 0h2m44 0h3m16 0h3m32 0h2m-131 1h2m11 0h2m2 0h4m49 0h2m3 0h2m4 0h2m29 0h2m15 0h2m-130 1h2m22 0h2m45 0h2m14 0h2m30 0h2m1 0h2m1 0h4m-130 1h2m11 0h2m68 0h2m43 0h2m7 0h2m-122 1h2m54 0h2m47 0h2m2 0h2m3 0h2m-139 1h2m11 0h5m3 0h2m2 0h2m106 0h2m2 0h2m7 0h2m2 0h2m-138 1h2m4 0h2m106 0h2m2 0h4m14 0h2m-146 1h2m15 0h3m109 0h2m5 0h2m-127 1h2m1 0h2m98 0h2m2 0h3m7 0h2m8 0h2m3 0h2m-146 1h2m14 0h4m43 0h2m15 0h3m42 0h2m-130 1h2m12 0h2m2 0h3m39 0h2m4 0h4m14 0h2m37 0h2m4 0h2m-130 1h2m11 0h2m2 0h2m46 0h2m52 0h2m1 0h6m15 0h4m-149 1h2m21 0h2m40 0h2m1 0h2m7 0h9m34 0h2m4 0h2m14 0h2m15 0h2m-163 1h2m5 0h2m5 0h2m46 0h3m1 0h6m8 0h2m2 0h2m12 0h2m15 0h2m10 0h2m24 0h4m-153 1h2m11 0h2m45 0h4m3 0h3m2 0h2m8 0h3m16 0h2m13 0h2m2 0h4m15 0h5m9 0h2m-144 1h3m36 0h2m8 0h2m3 0h3m10 0h3m1 0h2m25 0h2m7 0h10m12 0h6m-133 1h2m2 0h2m45 0h4m1 0h2m11 0h2m34 0h4m3 0h2m17 0h2m-129 1h2m45 0h3m14 0h2m26 0h2m6 0h2m27 0h2m2 0h2m-150 1h2m10 0h2m2 0h2m2 0h2m44 0h2m5 0h2m4 0h2m1 0h2m1 0h6m9 0h2m15 0h4m-119 1h2m4 0h2m40 0h2m10 0h2m5 0h2m1 0h2m5 0h3m6 0h6m3 0h2m15 0h2m11 0h2m7 0h2m2 0h2m1 0h3m-90 1h2m13 0h2m1 0h2m9 0h2m1 0h2m8 0h2m14 0h3m3 0h2m4 0h2m1 0h2m9 0h4m-144 1h2m7 0h2m53 0h2m3 0h2m27 0h2m7 0h2m9 0h2m1 0h6m13 0h2m3 0h2m-141 1h2m2 0h4m30 0h4m3 0h2m12 0h2m1 0h3m4 0h2m8 0h4m7 0h4m6 0h2m11 0h2m2 0h3m1 0h2m17 0h2m-143 1h2m2 0h2m46 0h2m4 0h2m22 0h2m5 0h4m19 0h2m4 0h2m1 0h3m6 0h6m6 0h2m-144 1h2m39 0h2m2 0h2m13 0h3m2 0h3m7 0h2m1 0h2m6 0h3m33 0h4m9 0h2m-133 1h2m29 0h2m4 0h3m6 0h2m7 0h2m2 0h2m9 0h2m1 0h3m1 0h2m2 0h2m5 0h5m2 0h2m20 0h2m17 0h2m-101 1h2m20 0h2m4 0h5m2 0h2m6 0h2m5 0h2m26 0h3m13 0h2m1 0h2m-101 1h2m23 0h2m2 0h7m14 0h2m1 0h3m43 0h2m-140 1h2m51 0h2m9 0h3m2 0h4m21 0h2m8 0h3m14 0h2m2 0h2m-127 1h2m71 0h2m11 0h2m1 0h5m31 0h2m-92 1h2m1 0h2m26 0h2m38 0h2m-54 1h2m5 0h2m5 0h2m1 0h2m16 0h2m12 0h3m10 0h2m-68 1h2m1 0h2m3 0h2m15 0h2m8 0h2m4 0h6m5 0h2m-58 1h4m3 0h8m27 1h2m7 0h2m-53 1h2m7 0h2m7 0h2m1 0h2m1 0h2m15 0h2m1 0h2m1 0h5m4 0h2m-60 1h2m6 0h2m4 0h2m14 0h3m14 0h2m3 0h3m2 0h2m5 0h2m-63 1h3m3 0h4m2 0h2m11 0h4m13 0h2m7 0h2m-54 1h2m2 0h2m3 0h2m33 0h5m2 0h2m-39 1h2m5 0h2m1 0h2m23 0h4m-48 1h2m12 0h2m5 0h2m17 0h2m1 0h2m-31 1h2m28 0h2m33 0h2m-81 1h2m9 0h2m1 0h2m22 0h2m5 0h2m19 0h2m5 0h2m8 0h2m-95 1h2m1 0h2m18 0h2m23 0h5m6 0h2m17 0h2m-78 1h2m4 0h2m35 0h2m3 0h2m24 0h3m-75 1h2m15 0h4m1 0h4m15 0h2m1 0h2m9 0h2m10 0h2m7 0h2m1 0h2m4 0h2m-88 1h2m15 0h2m2 0h3m15 0h2m3 0h2m22 0h3m8 0h2m-62 1h4m19 0h3m2 0h2m5 0h2m17 0h2m2 0h2m1 0h2m-68 1h2m4 0h4m16 0h4m2 0h2m2 0h2m36 0h2m-67 1h2m22 0h2m25 0h6m23 0h2m-87 1h4m11 0h2m5 0h4m-29 1h2m4 0h2m1 0h2m15 0h2m-23 1h4m9 0h2m3 0h2m2 0h2m29 0h2m9 0h2m-77 1h2m4 0h2m14 0h3m42 0h2m12 0h2m1 0h4m3 0h2m-87 1h2m4 0h4m14 0h2m3 0h2m25 0h2m1 0h2m15 0h2m-77 1h3m2 0h4m12 0h2m2 0h4m26 0h6m2 0h2m6 0h2m-78 1h2m2 0h7m21 0h2m7 0h3m1 0h2m13 0h2m8 0h3m13 0h2m-92 1h2m2 0h2m1 0h7m4 0h2m6 0h2m12 0h2m21 0h3m3 0h3m4 0h2m-75 1h5m7 0h2m7 0h3m1 0h2m1 0h4m7 0h2m1 0h2m11 0h2m3 0h4m2 0h7m1 0h2m-79 1h2m3 0h2m3 0h2m8 0h3m21 0h4m19 0h2m1 0h2m5 0h2m1 0h2m-46 1h2m7 0h2m22 0h3m3 0h5m-73 1h2m10 0h3m4 0h2m5 0h6m1 0h2m3 0h2m12 0h2m21 0h2m-63 1h2m71 0h2m-94 1h4m6 0h2m24 0h2m11 0h2m-56 1h2m9 0h2m8 0h2m5 0h2m5 1h2m5 0h2m-23 1h5m51 0h2m-58 1h4m19 0h2m-23 1h2m-3 1h2m2 0h2m-14 1h2" stroke="#5FA0DC" stroke-width="1.7" fill="none" opacity="0.8"/><path transform="translate(252 253.5) scale(0.5)" d="M93 9h2m5 3h2m17 0h2m-18 1h2m13 1h2m-4 1h4m1 0h2m-2 1h2m2 0h2m-2 1h2m-5 1h3m2 0h2m7 0h2m-50 1h2m34 0h2m3 0h5m1 0h2m-4 1h2m-1 1h2m-45 1h2m35 0h6m-44 1h2m40 0h4m-46 1h2m32 0h3m5 0h6m4 0h2m-49 1h2m16 0h2m17 0h2m1 0h3m-36 1h2m22 0h2m1 0h3m3 0h5m-24 1h2m17 0h3m-44 1h2m38 0h2m3 0h2m-6 1h2m-33 1h2m27 0h2m-31 1h2m34 0h2m-50 1h2m44 0h2m1 0h2m-40 1h2m36 0h2m-44 1h2m37 1h2m-39 1h2m3 0h2m3 1h4m24 0h2m-45 1h2m1 0h2m9 0h2m7 0h2m13 0h2m5 0h3m-37 1h4m1 0h3m14 0h4m-116 1h2m92 0h7m2 0h2m11 0h4m2 0h2m-38 1h2m3 0h8m25 0h2m-126 1h3m85 0h2m1 0h3m1 0h9m9 0h2m4 0h2m3 0h2m-124 1h4m85 0h2m2 0h4m1 0h2m13 0h4m-120 1h2m2 0h4m78 0h2m1 0h9m20 0h4m-120 1h2m1 0h4m82 0h3m1 0h2m18 0h2m1 0h5m-114 1h2m76 0h5m3 0h2m3 0h2m12 0h5m12 0h2m-133 1h2m1 0h6m76 0h2m3 0h2m4 0h9m7 0h2m1 0h5m12 0h2m-132 1h4m1 0h4m2 0h2m69 0h5m2 0h2m2 0h2m3 0h2m12 0h6m11 0h2m2 0h2m-137 1h4m5 0h3m73 0h2m17 0h2m6 0h7m1 0h2m7 0h2m2 0h6m-135 1h2m2 0h3m2 0h2m73 0h2m3 0h2m2 0h4m8 0h2m1 0h2m4 0h4m9 0h4m3 0h2m2 0h2m-145 1h2m90 0h2m17 0h2m1 0h2m3 0h4m13 0h2m3 0h2m-133 1h2m3 0h2m93 0h2m1 0h7m14 0h4m1 0h4m1 0h2m-133 1h3m69 0h2m1 0h2m1 0h2m18 0h2m2 0h6m11 0h3m2 0h2m5 0h2m-146 1h3m4 0h2m77 0h2m1 0h2m2 0h2m13 0h8m2 0h2m13 0h4m-125 1h2m72 0h2m1 0h2m20 0h6m4 0h3m11 0h3m2 0h3m5 0h2m-65 1h2m4 0h2m19 0h2m1 0h2m1 0h2m18 0h4m3 0h3m-59 1h2m2 0h4m34 0h7m4 0h2m3 0h3m-154 1h2m87 0h2m1 0h4m2 0h3m19 0h2m4 0h2m7 0h2m2 0h2m5 0h2m1 0h2m2 0h2m-154 1h2m89 0h3m4 0h2m28 0h2m10 0h2m3 0h7m-54 1h2m33 0h4m1 0h3m3 0h2m3 0h2m-63 1h3m1 0h6m28 0h3m2 0h2m1 0h3m9 0h7m-145 1h2m80 0h5m1 0h2m36 0h5m2 0h3m2 0h3m-59 1h2m1 0h2m34 0h2m2 0h5m2 0h2m3 0h2m-52 1h2m3 0h2m28 0h3m3 0h5m1 0h3m-11 1h2m5 0h2m-120 1h2m70 0h2m31 0h2m5 0h4m2 0h2m-35 1h3m4 0h2m15 0h4m4 0h2m2 0h3m-19 1h2m4 0h2m1 0h2m2 0h5m-58 1h2m12 0h2m2 0h2m21 0h2m2 0h7m4 0h2m-43 1h2m6 0h2m18 0h13m1 0h3m-60 1h2m11 0h3m3 0h3m2 0h3m1 0h2m9 0h10m7 0h3m-67 1h2m26 0h2m1 0h2m2 0h2m11 0h2m2 0h2m8 0h2m5 0h2m-39 1h2m3 0h3m7 0h2m9 0h5m2 0h4m2 0h2m8 0h2m-77 1h2m1 0h2m9 0h3m8 0h5m1 0h3m12 0h2m1 0h2m1 0h4m4 0h2m-106 1h2m40 0h2m1 0h2m14 0h4m2 0h2m3 0h6m4 0h2m4 0h5m1 0h2m2 0h4m3 0h2m1 0h3m2 0h2m1 0h2m-72 1h2m17 0h8m1 0h4m3 0h4m5 0h6m4 0h5m3 0h2m6 0h2m-70 1h2m1 0h2m8 0h3m3 0h2m1 0h8m3 0h2m2 0h2m2 0h3m8 0h2m4 0h3m1 0h6m1 0h4m-72 1h2m10 0h6m4 0h2m3 0h2m1 0h5m2 0h5m1 0h2m3 0h2m11 0h2m1 0h4m-121 1h2m50 0h3m5 0h2m1 0h2m1 0h5m1 0h2m3 0h5m2 0h2m2 0h2m2 0h4m3 0h2m5 0h2m5 0h9m-72 1h2m2 0h4m9 0h6m11 0h2m1 0h6m17 0h2m1 0h4m3 0h3m-128 1h2m5 0h2m44 0h2m2 0h2m1 0h5m6 0h4m2 0h2m4 0h2m1 0h2m2 0h2m1 0h6m18 0h6m1 0h4m-68 1h5m1 0h2m5 0h2m14 0h8m15 0h2m3 0h7m-62 1h2m1 0h2m1 0h2m1 0h4m11 0h2m1 0h5m23 0h4m1 0h5m-140 1h2m5 0h2m5 0h2m59 0h5m1 0h2m1 0h2m10 0h2m5 0h4m3 0h2m11 0h2m1 0h7m3 0h2m-129 1h8m51 0h4m5 0h5m5 0h2m13 0h2m2 0h4m15 0h2m6 0h2m-145 1h2m26 0h2m50 0h2m4 0h3m2 0h2m2 0h2m15 0h2m3 0h2m2 0h2m19 0h2m1 0h5m-71 1h3m7 0h2m1 0h2m2 0h4m25 0h2m11 0h3m3 0h5m-73 1h2m3 0h9m4 0h2m2 0h2m15 0h2m3 0h2m1 0h2m8 0h2m2 0h2m3 0h5m1 0h2m-142 1h2m1 0h3m14 0h2m45 0h5m2 0h5m12 0h2m12 0h2m1 0h2m12 0h3m1 0h5m9 0h2m6 0h2m-145 1h2m13 0h2m1 0h2m42 0h5m5 0h2m6 0h3m2 0h2m7 0h2m10 0h2m2 0h4m3 0h3m3 0h2m1 0h2m-130 1h2m11 0h2m4 0h2m43 0h5m17 0h2m14 0h2m4 0h2m3 0h2m8 0h3m-131 1h3m4 0h2m2 0h2m2 0h3m8 0h2m5 0h2m34 0h2m1 0h8m23 0h8m5 0h2m1 0h4m4 0h2m5 0h3m3 0h2m-144 1h3m10 0h3m6 0h2m1 0h4m3 0h2m36 0h4m1 0h3m15 0h2m11 0h7m9 0h2m26 0h3m-148 1h2m8 0h3m5 0h9m39 0h9m24 0h8m2 0h2m18 0h5m5 0h2m4 0h2m-148 1h2m1 0h2m12 0h2m1 0h4m43 0h5m1 0h2m25 0h2m1 0h3m1 0h2m2 0h2m2 0h6m6 0h6m7 0h2m-141 1h2m17 0h9m39 0h8m14 0h2m7 0h2m1 0h4m-108 1h4m12 0h4m5 0h3m6 0h3m32 0h6m5 0h2m7 0h2m10 0h6m30 0h2m4 0h2m-118 1h2m8 0h2m32 0h4m2 0h2m23 0h4m13 0h6m-108 1h3m8 0h2m3 0h2m4 0h2m33 0h3m1 0h2m10 0h2m5 0h2m7 0h3m16 0h2m-127 1h2m14 0h2m8 0h2m2 0h2m42 0h3m1 0h8m9 0h3m4 0h2m2 0h2m-89 1h2m6 0h2m11 0h4m38 0h3m2 0h5m5 0h2m5 0h2m2 0h2m23 0h2m-133 1h2m5 0h2m4 0h2m3 0h6m7 0h4m3 0h2m35 0h3m8 0h2m15 0h2m19 0h2m-95 1h3m1 0h6m33 0h2m5 0h2m23 0h2m-108 1h2m7 0h2m5 0h2m4 0h2m4 0h2m4 0h2m44 0h2m23 0h3m-101 1h4m2 0h2m2 0h4m4 0h2m5 0h2m73 0h2m22 0h2m5 0h2m-136 1h4m4 0h5m1 0h4m15 0h2m4 0h2m25 0h2m7 0h2m24 0h2m19 0h2m1 0h5m-127 1h2m1 0h10m3 0h2m15 0h2m48 0h3m16 0h2m2 0h2m12 0h3m1 0h2m6 0h4m-142 1h5m1 0h2m2 0h3m1 0h2m2 0h2m2 0h2m9 0h2m4 0h3m36 0h2m1 0h3m3 0h2m4 0h2m31 0h3m1 0h5m1 0h7m-143 1h2m2 0h2m2 0h4m2 0h2m1 0h3m4 0h2m7 0h2m2 0h2m83 0h2m1 0h2m6 0h2m2 0h5m-138 1h4m4 0h2m5 0h4m14 0h2m37 0h2m5 0h2m1 0h2m35 0h2m2 0h6m3 0h2m1 0h2m-141 1h3m2 0h8m1 0h2m6 0h2m6 0h2m5 0h3m43 0h5m5 0h2m33 0h3m1 0h2m1 0h5m23 0h2m-166 1h2m26 0h3m3 0h3m24 0h2m2 0h3m8 0h2m7 0h5m4 0h2m13 0h2m11 0h2m6 0h3m1 0h10m23 0h2m1 0h2m-168 1h5m6 0h2m51 0h2m3 0h2m8 0h2m1 0h4m2 0h2m2 0h2m15 0h2m13 0h2m5 0h4m26 0h3m-164 1h2m10 0h2m12 0h5m36 0h3m1 0h2m6 0h2m1 0h4m20 0h2m4 0h2m10 0h4m3 0h2m27 0h2m-166 1h4m4 0h2m4 0h6m8 0h5m28 0h2m1 0h6m2 0h9m1 0h2m17 0h2m32 0h3m-107 1h3m23 0h2m3 0h2m1 0h5m1 0h2m1 0h9m1 0h2m2 0h2m3 0h4m3 0h2m3 0h2m20 0h3m4 0h4m33 0h2m-153 1h4m10 0h2m30 0h14m2 0h3m1 0h4m7 0h2m19 0h2m2 0h2m2 0h2m-125 1h2m22 0h2m32 0h2m3 0h2m1 0h5m1 0h7m1 0h3m1 0h3m8 0h2m15 0h2m10 0h4m-65 1h5m1 0h11m3 0h2m34 0h3m2 0h2m1 0h2m-145 1h4m17 0h2m20 0h2m37 0h9m2 0h3m9 0h3m16 0h2m2 0h2m12 0h3m30 0h2m-98 1h3m2 0h3m1 0h2m4 0h2m1 0h3m27 0h2m4 0h2m1 0h2m4 0h2m-138 1h2m73 0h6m1 0h3m4 0h3m27 0h5m11 0h2m-142 1h3m78 0h3m2 0h4m1 0h2m1 0h7m23 0h5m12 0h3m-144 1h9m56 0h2m10 0h4m2 0h5m4 0h2m1 0h2m26 0h3m1 0h2m-130 1h8m71 0h2m1 0h4m11 0h2m27 0h2m-127 1h4m1 0h2m13 0h2m48 0h2m10 0h3m9 0h2m1 0h2m2 0h3m2 0h2m2 0h2m13 0h2m41 0h3m13 0h2m-189 1h9m31 0h2m41 0h3m14 0h8m10 0h2m4 0h2m2 0h2m-129 1h8m28 0h2m1 0h2m48 0h2m9 0h8m-108 1h2m1 0h3m30 0h3m39 0h2m5 0h7m3 0h2m3 0h7m6 0h2m7 0h3m3 0h2m-130 1h11m9 0h3m55 0h4m3 0h2m1 0h3m2 0h2m7 0h5m2 0h2m10 0h2m13 0h3m4 0h2m40 0h2m-188 1h5m3 0h2m16 0h3m50 0h4m2 0h7m2 0h4m6 0h2m8 0h2m21 0h6m-143 1h2m3 0h2m2 0h2m12 0h3m1 0h2m50 0h3m2 0h4m2 0h2m6 0h4m1 0h15m1 0h2m4 0h2m7 0h8m-137 1h2m19 0h3m2 0h2m52 0h2m2 0h4m11 0h9m1 0h2m3 0h2m1 0h2m10 0h2m1 0h2m3 0h2m-142 1h7m12 0h3m2 0h2m40 0h2m5 0h2m5 0h4m2 0h7m12 0h2m4 0h4m17 0h3m1 0h2m-140 1h4m15 0h2m44 0h2m15 0h2m5 0h3m11 0h2m1 0h2m3 0h5m14 0h2m6 0h2m-141 1h3m2 0h4m2 0h2m59 0h2m10 0h2m3 0h2m14 0h2m4 0h12m8 0h2m4 0h2m3 0h2m5 0h2m-148 1h3m1 0h2m18 0h2m35 0h3m3 0h2m10 0h4m6 0h2m8 0h5m1 0h2m1 0h8m14 0h2m8 0h2m-154 1h2m7 0h2m1 0h2m4 0h2m1 0h5m66 0h4m10 0h2m3 0h2m11 0h2m5 0h2m11 0h2m4 0h2m-144 1h2m3 0h2m8 0h2m49 0h2m4 0h2m2 0h2m6 0h2m1 0h2m15 0h3m1 0h2m2 0h6m6 0h3m5 0h4m5 0h2m8 0h2m-153 1h5m1 0h2m2 0h2m4 0h2m54 0h2m8 0h2m1 0h2m17 0h2m6 0h5m6 0h2m10 0h2m5 0h2m-143 1h4m1 0h2m8 0h2m52 0h2m1 0h2m14 0h6m15 0h2m3 0h2m6 0h2m5 0h2m1 0h4m2 0h2m-142 1h4m2 0h2m1 0h5m42 0h2m26 0h5m2 0h7m14 0h2m1 0h3m16 0h2m-133 1h2m1 0h3m3 0h4m2 0h2m48 0h5m12 0h5m1 0h4m12 0h5m2 0h2m3 0h3m6 0h4m3 0h2m2 0h2m-135 1h4m2 0h2m43 0h4m11 0h2m12 0h2m7 0h2m4 0h4m4 0h4m2 0h2m2 0h2m15 0h2m-136 1h2m1 0h4m1 0h3m7 0h2m2 0h4m30 0h2m8 0h3m13 0h2m2 0h3m9 0h4m1 0h2m6 0h2m8 0h2m5 0h2m2 0h2m2 0h2m-138 1h2m3 0h2m13 0h2m49 0h4m1 0h2m7 0h5m2 0h4m1 0h9m1 0h2m4 0h2m13 0h2m2 0h4m18 0h2m-156 1h2m16 0h2m3 0h2m35 0h4m2 0h4m3 0h4m1 0h2m1 0h6m3 0h2m4 0h10m5 0h5m11 0h3m4 0h2m2 0h2m4 0h2m-132 1h2m2 0h2m3 0h2m37 0h4m3 0h2m5 0h4m15 0h5m2 0h2m4 0h2m4 0h2m7 0h2m6 0h3m17 0h2m-151 1h2m6 0h2m3 0h4m36 0h2m2 0h3m2 0h2m10 0h2m1 0h2m1 0h2m10 0h4m3 0h2m10 0h3m16 0h6m15 0h2m-145 1h2m4 0h2m2 0h6m29 0h2m2 0h2m1 0h3m5 0h2m4 0h4m1 0h3m12 0h2m5 0h3m6 0h2m12 0h4m2 0h3m3 0h2m6 0h3m-136 1h2m6 0h2m1 0h2m22 0h4m3 0h2m1 0h2m1 0h2m1 0h2m17 0h2m10 0h2m4 0h6m3 0h2m5 0h2m10 0h4m1 0h2m2 0h4m-142 1h2m18 0h2m2 0h2m37 0h2m2 0h2m4 0h2m17 0h2m1 0h2m7 0h3m2 0h2m3 0h2m7 0h2m8 0h2m2 0h2m-122 1h5m24 0h3m1 0h2m3 0h2m3 0h10m7 0h3m7 0h2m14 0h2m2 0h2m5 0h4m8 0h2m6 0h3m15 0h2m-152 1h2m8 0h2m3 0h2m1 0h4m22 0h2m5 0h2m6 0h6m6 0h2m23 0h2m22 0h3m4 0h2m3 0h6m-139 1h2m6 0h2m7 0h3m29 0h2m1 0h4m2 0h7m1 0h2m12 0h2m2 0h2m5 0h2m9 0h2m1 0h2m22 0h2m2 0h2m1 0h2m10 0h2m-144 1h2m1 0h5m3 0h2m25 0h2m1 0h9m2 0h11m10 0h2m3 0h2m2 0h2m10 0h5m2 0h2m2 0h2m3 0h4m2 0h2m7 0h9m1 0h2m-144 1h2m2 0h2m14 0h3m19 0h4m1 0h4m2 0h4m4 0h9m11 0h2m1 0h5m19 0h2m14 0h2m7 0h2m1 0h6m1 0h2m-141 1h2m12 0h2m23 0h3m3 0h2m3 0h5m2 0h2m2 0h2m13 0h4m11 0h2m2 0h2m3 0h5m27 0h6m-135 1h2m9 0h2m22 0h2m3 0h2m4 0h5m2 0h3m1 0h2m1 0h7m6 0h2m1 0h6m2 0h2m13 0h2m3 0h2m11 0h2m13 0h2m-131 1h2m35 0h2m1 0h10m3 0h2m3 0h4m5 0h2m6 0h2m4 0h4m7 0h5m1 0h2m-68 1h2m2 0h2m1 0h4m3 0h5m7 0h3m2 0h2m4 0h2m2 0h9m2 0h2m4 0h2m3 0h2m4 0h3m18 0h2m-92 1h12m3 0h2m1 0h2m5 0h3m2 0h2m8 0h3m2 0h4m3 0h3m8 0h2m5 0h2m-97 1h2m24 0h6m1 0h5m2 0h2m8 0h2m3 0h2m9 0h2m1 0h4m1 0h2m11 0h2m2 0h2m1 0h2m-71 1h3m1 0h6m12 0h4m6 0h2m7 0h2m6 0h2m6 0h2m3 0h2m7 0h2m-70 1h4m18 0h2m2 0h2m11 0h2m1 0h2m1 0h2m2 0h2m2 0h2m10 0h3m-68 1h2m1 0h2m2 0h2m16 0h2m2 0h2m6 0h3m1 0h2m3 0h2m12 0h3m2 0h5m-69 1h3m24 0h4m7 0h2m1 0h6m15 0h2m-73 1h2m4 0h2m5 0h2m21 0h3m10 0h2m2 0h2m14 0h5m1 0h2m-70 1h2m1 0h6m12 0h4m1 0h3m6 0h2m2 0h3m1 0h2m8 0h2m8 0h4m1 0h4m20 0h2m-92 1h4m14 0h3m20 0h2m1 0h3m9 0h2m4 0h2m1 0h5m-68 1h4m6 0h2m3 0h2m1 0h2m1 0h2m13 0h7m11 0h2m9 0h2m15 0h2m-80 1h2m6 0h6m3 0h2m3 0h5m2 0h2m5 0h2m13 0h2m4 0h2m1 0h2m22 0h4m-85 1h4m2 0h4m1 0h4m2 0h2m2 0h2m1 0h2m6 0h3m3 0h2m4 0h6m3 0h2m20 0h2m3 0h2m-81 1h3m2 0h2m1 0h3m4 0h2m2 0h6m2 0h8m13 0h4m3 0h3m17 0h4m2 0h2m-85 1h6m2 0h3m9 0h4m9 0h5m6 0h2m1 0h2m4 0h2m1 0h2m1 0h2m2 0h2m1 0h2m1 0h2m9 0h2m1 0h2m-84 1h3m2 0h3m12 0h2m1 0h2m1 0h3m1 0h2m1 0h4m12 0h6m13 0h3m7 0h6m-86 1h3m1 0h5m12 0h15m1 0h2m6 0h2m1 0h9m8 0h4m13 0h6m-85 1h4m1 0h2m3 0h4m3 0h6m3 0h2m2 0h4m11 0h2m3 0h2m8 0h2m1 0h4m2 0h2m9 0h3m1 0h3m-89 1h2m4 0h9m11 0h8m3 0h2m2 0h2m1 0h2m3 0h5m1 0h2m9 0h2m1 0h4m8 0h3m2 0h2m-80 1h3m1 0h2m5 0h2m1 0h2m1 0h4m8 0h2m6 0h4m2 0h4m13 0h4m1 0h2m5 0h7m-89 1h2m1 0h2m1 0h4m2 0h2m11 0h6m2 0h2m14 0h2m17 0h3m1 0h6m6 0h2m1 0h2m-84 1h3m1 0h3m2 0h4m4 0h2m1 0h2m1 0h3m4 0h2m11 0h3m1 0h3m2 0h2m5 0h4m2 0h2m1 0h2m4 0h2m2 0h3m-92 1h2m6 0h2m40 0h2m2 0h7m12 0h2m2 0h2m4 0h2m10 0h2m-86 1h3m15 0h7m18 0h4m1 0h2m1 0h4m6 0h3m7 0h2m5 0h2m-69 1h2m9 0h2m19 0h8m9 0h2m3 0h2m7 0h2m-69 1h2m5 0h4m2 0h2m5 0h2m14 0h2m2 0h2m13 0h3m4 0h2m2 0h2m10 0h2m-53 1h2m6 0h4m29 0h2m-64 1h3m2 0h2m2 0h2m8 0h2m6 0h5m-33 1h4m2 0h2m3 0h2m6 0h2m8 0h2m2 0h2m-39 1h2m3 0h2m7 0h2m4 0h2m10 0h2m-28 1h2m2 0h2m2 0h4m1 0h2m12 0h4m-27 1h4m3 0h2m12 0h2m1 0h2m-34 1h2m11 0h3m7 0h2m7 0h2m-32 1h2m13 0h4m-21 1h2m1 0h2m1 0h2m6 0h8m2 0h6m-34 1h2m3 0h3m9 0h2m2 0h8m-25 1h2m3 0h2m8 0h7m4 0h2m4 0h2m-33 1h2m15 0h2m3 0h3m-20 1h3m8 0h2m8 0h2m-10 1h2m1 0h4m6 1h2" stroke="#E5392E" stroke-width="1.7" fill="none" opacity="0.8"/><path transform="translate(252 253.5) scale(0.5)" d="M97 7h2m-7 2h2m2 1h2m-9 1h2m2 0h2m1 0h2m-7 1h3m18 0h2m-30 1h4m11 0h2m-13 1h2m7 0h3m15 0h2m19 0h2m-41 1h2m3 0h2m18 0h4m-26 1h2m1 0h3m17 0h2m-38 1h2m6 0h2m11 0h2m5 0h3m3 0h4m2 0h2m-41 1h2m5 0h2m2 0h2m2 0h4m4 0h3m4 0h2m8 0h2m-44 1h3m6 0h2m1 0h3m12 0h2m2 0h2m7 0h2m-38 1h4m10 0h2m2 0h3m1 0h4m6 0h3m4 0h2m-43 1h4m14 0h4m9 0h4m-35 1h2m8 0h2m2 0h2m3 0h4m2 0h2m10 0h2m-47 1h2m2 0h2m13 0h2m2 0h2m8 0h2m1 0h2m-26 1h2m2 0h2m6 0h6m3 0h2m2 0h4m1 0h3m-15 1h2m4 0h2m5 0h2m12 0h2m-34 1h3m7 0h3m-10 1h2m5 0h2m3 0h2m7 0h2m-26 1h2m2 0h2m3 0h4m1 0h2m-12 1h2m25 0h6m-25 1h2m1 0h2m-16 1h2m6 0h4m11 0h3m-20 1h2m2 0h2m6 0h4m1 0h3m-21 1h2m17 0h2m-25 1h2m1 0h4m18 0h4m1 0h2m-38 1h3m6 0h5m3 0h4m5 0h2m1 0h2m4 0h2m11 0h2m-42 1h2m12 0h2m1 0h2m2 0h2m1 0h2m6 0h2m-43 1h2m10 0h2m17 0h2m-35 1h2m6 0h2m4 0h3m3 0h2m4 0h2m2 0h4m6 0h2m-117 1h2m91 0h2m6 0h2m6 0h2m-16 1h2m2 0h2m4 0h3m5 0h4m-36 1h2m20 0h2m8 0h2m-17 1h2m4 0h3m10 0h2m-118 1h3m77 0h2m21 0h4m-107 1h3m1 0h2m66 0h2m2 0h2m19 0h2m9 0h2m3 0h2m-112 1h2m71 0h4m18 0h3m4 0h2m8 0h2m-118 1h2m74 0h3m2 0h2m7 0h2m8 0h4m1 0h2m7 0h2m-117 1h2m3 0h3m69 0h2m19 0h4m6 0h2m6 0h2m-125 1h2m81 0h2m20 0h2m18 0h2m-127 1h4m4 0h3m4 0h2m89 0h2m29 0h2m1 0h3m-140 1h2m6 0h2m78 0h4m10 0h2m4 0h2m12 0h2m2 0h2m9 0h3m-149 1h2m5 0h2m1 0h2m2 0h2m2 0h2m77 0h2m3 0h2m15 0h2m5 0h2m-115 1h2m74 0h2m1 0h2m15 0h3m15 0h2m2 0h2m1 0h2m10 0h2m-135 1h4m76 0h2m5 0h5m3 0h5m15 0h2m3 0h2m1 0h2m-123 1h2m74 0h4m5 0h2m5 0h3m1 0h2m16 0h2m7 0h2m-131 1h2m5 0h2m84 0h5m17 0h3m4 0h2m3 0h2m-128 1h2m4 0h2m72 0h2m9 0h2m2 0h2m1 0h2m4 0h4m7 0h2m3 0h2m2 0h4m4 0h2m16 0h2m-71 1h2m24 0h3m2 0h7m6 0h2m15 0h2m-49 1h4m4 0h2m1 0h2m8 0h3m1 0h4m-30 1h2m1 0h2m4 0h2m1 0h3m22 0h3m-40 1h2m5 0h2m2 0h2m2 0h2m1 0h2m3 0h2m16 0h2m-43 1h2m6 0h2m4 0h4m6 0h2m2 0h2m7 0h2m-46 1h2m2 0h2m2 0h2m3 0h2m4 0h3m15 0h4m15 0h2m-51 1h2m2 0h2m8 0h2m3 0h4m13 0h2m-47 1h2m13 0h2m1 0h2m3 0h2m7 0h2m8 0h2m5 0h2m5 0h4m-50 1h2m7 0h2m18 0h2m5 0h2m8 0h2m3 0h3m-70 1h2m5 0h2m1 0h5m4 0h2m5 0h4m7 0h2m4 0h2m7 0h3m11 0h4m-144 1h2m88 0h2m8 0h2m2 0h2m5 0h4m11 0h2m6 0h6m-39 1h2m10 0h2m5 0h2m11 0h2m5 0h2m-54 1h2m17 0h2m1 0h2m3 0h2m14 0h2m6 0h2m-28 1h2m21 0h2m-52 1h3m19 0h2m36 0h2m-64 1h2m19 0h2m5 0h2m14 0h2m1 0h2m-57 1h2m9 0h4m21 0h2m2 0h3m13 0h2m2 0h2m-94 1h2m40 0h2m33 0h2m7 0h2m3 0h3m-105 1h2m46 0h2m22 0h4m7 0h2m8 0h2m3 0h2m1 0h2m11 0h2m-139 1h2m11 0h2m66 0h2m12 0h2m14 0h4m-105 1h2m61 0h2m3 0h3m5 0h2m5 0h2m3 0h2m6 0h3m5 0h4m1 0h2m1 0h3m7 0h2m-134 1h2m13 0h3m2 0h3m50 0h5m1 0h2m5 0h2m16 0h3m4 0h2m2 0h3m-105 1h2m6 0h2m3 0h2m35 0h2m6 0h2m2 0h2m26 0h2m2 0h2m3 0h2m3 0h3m1 0h2m-118 1h2m14 0h2m39 0h2m5 0h2m2 0h4m17 0h2m10 0h2m1 0h2m1 0h3m7 0h2m-118 1h2m5 0h3m1 0h2m3 0h2m36 0h3m13 0h2m2 0h2m8 0h3m5 0h2m2 0h2m6 0h2m1 0h3m5 0h2m1 0h2m18 0h2m-149 1h2m1 0h3m5 0h2m16 0h2m33 0h2m1 0h3m2 0h2m17 0h4m5 0h2m9 0h7m1 0h5m-124 1h2m11 0h2m8 0h2m2 0h2m2 0h2m34 0h2m3 0h3m37 0h3m9 0h2m1 0h2m11 0h2m-143 1h2m2 0h2m19 0h3m2 0h2m56 0h6m1 0h2m12 0h2m3 0h2m1 0h3m-120 1h2m3 0h3m13 0h3m3 0h4m34 0h2m6 0h4m9 0h3m1 0h4m4 0h2m7 0h2m6 0h2m4 0h2m3 0h2m2 0h5m5 0h2m-140 1h4m6 0h3m3 0h2m1 0h2m6 0h5m3 0h2m26 0h2m2 0h2m4 0h2m3 0h2m7 0h4m8 0h4m9 0h8m2 0h6m-130 1h2m2 0h3m2 0h2m3 0h2m9 0h2m40 0h4m6 0h3m6 0h2m5 0h3m16 0h6m5 0h2m3 0h2m-128 1h2m3 0h2m2 0h2m16 0h2m32 0h5m1 0h2m1 0h2m1 0h2m7 0h2m2 0h3m1 0h2m2 0h3m2 0h3m10 0h2m2 0h2m4 0h2m-128 1h2m19 0h2m3 0h2m7 0h2m2 0h2m29 0h2m17 0h2m12 0h2m4 0h2m8 0h2m14 0h2m-138 1h2m7 0h2m1 0h2m1 0h6m41 0h2m19 0h3m6 0h2m1 0h2m1 0h4m11 0h4m18 0h2m2 0h5m-134 1h2m3 0h2m23 0h2m25 0h4m5 0h2m2 0h2m6 0h2m9 0h4m9 0h2m11 0h2m5 0h5m-131 1h2m3 0h4m4 0h3m60 0h2m8 0h3m2 0h2m2 0h2m9 0h3m15 0h2m5 0h4m-138 1h4m32 0h2m39 0h2m4 0h2m2 0h2m9 0h2m8 0h8m14 0h2m1 0h6m-143 1h2m4 0h2m9 0h2m3 0h2m14 0h2m2 0h2m37 0h2m4 0h2m7 0h2m1 0h2m1 0h2m12 0h4m1 0h3m8 0h2m-136 1h2m14 0h2m3 0h2m10 0h6m3 0h2m1 0h2m8 0h2m14 0h2m11 0h3m2 0h2m3 0h5m3 0h5m5 0h2m10 0h2m4 0h2m2 0h2m-131 1h3m7 0h2m4 0h2m4 0h2m6 0h2m3 0h2m3 0h2m38 0h2m5 0h2m4 0h3m5 0h2m16 0h2m7 0h2m3 0h3m-126 1h6m19 0h6m48 0h4m3 0h2m8 0h2m3 0h2m1 0h7m3 0h2m2 0h4m3 0h2m6 0h2m-146 1h2m12 0h6m1 0h2m7 0h2m3 0h2m39 0h2m4 0h3m4 0h2m4 0h2m6 0h2m2 0h2m8 0h2m22 0h2m-146 1h2m2 0h2m2 0h2m2 0h2m2 0h5m1 0h2m14 0h2m4 0h7m21 0h3m13 0h2m6 0h2m21 0h3m1 0h3m6 0h2m-133 1h2m1 0h2m4 0h2m4 0h4m6 0h2m7 0h2m4 0h2m30 0h3m13 0h2m5 0h3m1 0h2m5 0h2m1 0h2m4 0h3m2 0h2m4 0h2m5 0h2m8 0h2m-140 1h12m9 0h2m8 0h3m36 0h2m2 0h3m11 0h2m19 0h4m2 0h6m6 0h2m4 0h2m-134 1h4m2 0h2m1 0h2m11 0h3m13 0h3m29 0h2m4 0h2m3 0h3m6 0h2m3 0h2m3 0h2m5 0h2m1 0h2m11 0h2m1 0h2m-139 1h2m6 0h2m10 0h2m6 0h2m1 0h2m17 0h2m33 0h3m37 0h2m3 0h2m2 0h2m1 0h2m4 0h2m-131 1h4m2 0h4m6 0h2m1 0h4m5 0h2m1 0h2m4 0h2m25 0h2m5 0h2m1 0h2m5 0h6m2 0h2m2 0h2m4 0h2m18 0h2m7 0h2m1 0h2m-132 1h2m2 0h2m3 0h2m5 0h2m4 0h2m3 0h2m6 0h2m31 0h2m1 0h2m5 0h3m12 0h2m2 0h4m2 0h2m4 0h2m4 0h5m1 0h4m-130 1h2m2 0h2m2 0h2m13 0h4m2 0h2m54 0h2m4 0h2m8 0h2m3 0h2m18 0h2m8 0h2m-139 1h2m2 0h2m19 0h2m3 0h3m2 0h2m32 0h2m9 0h2m10 0h2m4 0h10m3 0h2m1 0h3m-91 1h2m4 0h2m5 0h2m2 0h4m27 0h2m26 0h3m2 0h2m7 0h2m6 0h2m-130 1h2m2 0h5m3 0h2m13 0h2m2 0h2m12 0h2m47 0h7m2 0h2m1 0h5m4 0h2m-116 1h2m10 0h2m12 0h2m6 0h6m2 0h3m26 0h2m19 0h4m3 0h3m2 0h2m4 0h2m1 0h2m2 0h5m3 0h3m-120 1h2m12 0h2m3 0h4m43 0h5m17 0h2m3 0h2m2 0h2m5 0h2m1 0h2m8 0h2m1 0h4m34 0h4m-166 1h4m3 0h4m1 0h2m6 0h2m4 0h2m3 0h2m37 0h3m16 0h2m4 0h2m4 0h2m2 0h2m10 0h2m45 0h2m-167 1h2m21 0h2m1 0h2m4 0h2m2 0h2m31 0h5m10 0h2m4 0h2m3 0h2m1 0h2m2 0h4m2 0h2m6 0h2m41 0h6m5 0h2m-175 1h2m27 0h2m4 0h2m1 0h2m63 0h4m13 0h2m3 0h3m1 0h2m30 0h7m-164 1h2m2 0h2m18 0h2m88 0h2m1 0h2m2 0h3m33 0h4m3 0h5m-166 1h2m6 0h2m1 0h5m2 0h3m1 0h2m2 0h2m3 0h2m59 0h2m9 0h2m8 0h4m36 0h2m2 0h2m1 0h3m1 0h2m-163 1h2m10 0h2m4 0h2m75 0h4m1 0h2m7 0h2m6 0h2m30 0h4m3 0h2m3 0h2m1 0h2m-168 1h4m6 0h2m9 0h2m8 0h2m25 0h3m13 0h2m19 0h2m1 0h2m7 0h3m1 0h2m12 0h2m2 0h2m19 0h5m2 0h8m-170 1h2m19 0h3m1 0h2m77 0h2m9 0h2m9 0h2m22 0h2m1 0h2m1 0h4m7 0h3m-171 1h2m6 0h5m3 0h4m6 0h4m33 0h2m18 0h2m29 0h2m9 0h2m30 0h6m3 0h4m-170 1h3m6 0h2m8 0h4m1 0h2m1 0h4m40 0h2m53 0h2m26 0h2m1 0h2m2 0h2m-161 1h3m8 0h2m7 0h2m1 0h2m1 0h2m31 0h2m19 0h2m18 0h3m3 0h2m44 0h2m1 0h3m1 0h4m-164 1h2m5 0h2m10 0h2m13 0h2m63 0h5m54 0h3m-162 1h4m3 0h2m10 0h4m38 0h2m1 0h2m19 0h2m32 0h2m28 0h2m8 0h3m-177 1h2m15 0h6m4 0h6m3 0h8m35 0h2m40 0h2m49 0h2m-157 1h3m7 0h2m4 0h2m10 0h4m26 0h2m2 0h2m19 0h2m-79 1h2m11 0h2m40 0h2m1 0h3m12 0h2m2 0h2m32 0h2m-123 1h4m1 0h2m2 0h2m3 0h2m6 0h2m35 0h2m18 0h2m25 0h3m1 0h2m-114 1h4m10 0h3m4 0h2m3 0h2m43 0h2m12 0h2m39 0h2m-126 1h2m2 0h2m1 0h2m7 0h2m4 0h2m1 0h2m33 0h2m4 0h2m7 0h2m2 0h2m20 0h4m14 0h2m-123 1h2m1 0h4m61 0h2m3 0h2m3 0h2m38 0h2m2 0h6m-139 1h2m6 0h2m22 0h2m49 0h2m38 0h2m4 0h2m-135 1h2m6 0h2m3 0h2m1 0h2m68 0h2m45 0h2m-121 1h2m67 0h2m41 0h5m22 0h2m-141 1h2m66 0h2m26 0h2m8 0h2m8 0h2m4 0h2m-55 1h2m1 0h2m39 0h6m14 0h2m-130 1h4m4 0h2m55 0h2m5 0h2m40 0h2m10 0h2m-146 1h4m16 0h4m58 0h2m44 0h3m10 0h3m6 0h2m-137 1h2m1 0h2m1 0h2m46 0h2m54 0h2m3 0h4m10 0h2m-132 1h2m5 0h2m56 0h3m1 0h2m1 0h2m39 0h4m10 0h2m-126 1h2m4 0h2m43 0h2m10 0h2m2 0h2m43 0h2m2 0h3m14 0h2m-136 1h2m2 0h3m2 0h2m33 0h2m2 0h2m58 0h2m8 0h2m7 0h2m3 0h4m-138 1h2m42 0h2m19 0h4m1 0h2m37 0h2m8 0h2m3 0h2m4 0h3m2 0h2m-152 1h2m15 0h2m4 0h5m29 0h2m7 0h2m13 0h4m4 0h2m31 0h4m8 0h3m4 0h2m3 0h6m3 0h2m-155 1h2m55 0h4m2 0h3m11 0h3m2 0h2m1 0h2m44 0h2m9 0h2m6 0h4m-153 1h2m18 0h2m2 0h2m29 0h2m4 0h8m4 0h2m1 0h2m2 0h5m14 0h2m12 0h4m5 0h3m5 0h2m4 0h4m12 0h2m-140 1h4m5 0h2m31 0h4m20 0h2m8 0h4m4 0h2m6 0h2m3 0h2m1 0h2m7 0h2m1 0h2m2 0h2m4 0h2m2 0h2m6 0h2m6 0h2m-159 1h2m3 0h2m5 0h2m56 0h4m1 0h2m6 0h3m3 0h4m24 0h2m5 0h2m2 0h3m8 0h2m1 0h4m-138 1h2m3 0h2m32 0h2m1 0h2m2 0h2m15 0h2m14 0h4m6 0h2m19 0h6m2 0h2m1 0h2m-126 1h2m9 0h3m27 0h2m1 0h2m3 0h2m12 0h2m3 0h2m15 0h2m19 0h2m6 0h5m-122 1h4m5 0h4m1 0h2m36 0h2m22 0h2m6 0h3m6 0h2m2 0h3m12 0h4m12 0h4m-129 1h2m7 0h4m32 0h2m15 0h2m4 0h2m2 0h4m15 0h2m12 0h2m19 0h2m5 0h2m2 0h3m2 0h2m-140 1h2m2 0h2m32 0h2m24 0h2m2 0h3m3 0h2m7 0h4m2 0h2m23 0h2m6 0h2m10 0h4m2 0h2m-141 1h4m3 0h2m17 0h2m9 0h2m31 0h3m2 0h2m6 0h2m32 0h2m17 0h2m-141 1h2m37 0h2m22 0h2m6 0h2m4 0h2m10 0h2m1 0h2m9 0h2m13 0h4m2 0h2m10 0h3m-98 1h2m33 0h2m8 0h3m5 0h2m29 0h2m6 0h2m7 0h2m-143 1h3m62 0h3m6 0h2m11 0h2m14 0h2m20 0h2m12 0h2m-138 1h6m57 0h6m14 0h4m1 0h2m9 0h2m15 0h2m3 0h2m-89 1h3m19 0h2m8 0h2m4 0h2m17 0h3m7 0h2m14 0h2m6 0h2m-76 1h3m2 0h2m8 0h2m18 0h3m-36 1h4m4 0h2m9 0h2m13 0h2m5 0h2m1 0h2m31 0h2m-80 1h3m5 0h2m4 0h2m3 0h2m10 0h2m10 0h2m-36 1h2m4 0h7m11 0h4m3 0h2m7 0h2m34 0h2m-135 1h2m24 0h2m12 0h3m1 0h6m5 0h2m23 0h2m1 0h2m2 0h4m-53 1h2m1 0h2m3 0h2m13 0h2m4 0h3m20 0h3m-53 1h2m21 0h2m16 0h4m6 0h2m-46 1h2m2 0h2m16 0h2m14 0h2m1 0h4m19 0h2m-75 1h4m3 0h2m2 0h3m11 0h2m23 0h2m1 0h2m-51 1h3m68 0h2m-75 1h3m2 0h3m37 0h2m-47 1h3m39 0h2m9 0h2m27 0h2m-83 1h2m14 0h2m1 0h2m3 0h3m18 0h2m-34 1h2m9 0h2m22 0h4m16 0h2m5 0h2m6 0h2m-41 1h3m24 0h2m1 0h4m7 0h2m-69 1h2m17 0h2m3 0h2m31 0h2m-39 1h2m1 0h2m1 0h2m27 0h2m13 0h2m-97 1h2m19 0h2m24 0h4m31 0h4m9 0h2m-60 1h2m21 0h2m2 0h2m9 0h2m5 0h3m-61 1h5m18 0h2m25 0h3m13 0h2m-68 1h3m13 0h2m4 0h3m45 0h2m-93 1h2m4 0h5m11 0h2m1 0h2m6 0h2m1 0h2m1 0h2m2 0h2m45 0h6m-79 1h8m10 0h2m2 0h6m1 0h2m43 0h4m-84 1h2m1 0h2m1 0h2m1 0h2m2 0h3m10 0h2m4 0h2m51 0h2m-85 1h2m1 0h3m12 0h2m1 0h5m1 0h2m4 0h2m28 0h2m2 0h2m4 0h6m-86 1h2m4 0h2m6 0h2m6 0h2m6 0h2m6 0h3m30 0h2m-76 1h2m5 0h4m3 0h2m22 0h2m2 0h4m25 0h2m11 0h4m-83 1h3m1 0h2m3 0h2m11 0h2m3 0h2m7 0h2m6 0h2m19 0h4m10 0h2m-80 1h2m5 0h2m6 0h2m4 0h2m1 0h2m1 0h2m3 0h2m3 0h2m3 0h2m30 0h4m-76 1h2m9 0h2m21 0h2m28 0h2m4 0h2m3 0h2m-80 1h5m25 0h2m6 0h2m1 0h4m39 0h2m-81 1h2m1 0h2m23 0h2m8 0h2m2 0h2m-48 1h3m2 0h5m11 0h2m1 0h2m1 0h2m4 0h4m1 0h2m-1 1h2m-36 1h6m1 0h2m5 0h2m-14 1h4m5 0h2m3 0h2m12 0h2m-24 1h2m5 1h2m-3 1h6m-17 1h2m6 0h2m1 1h2m1 0h2m-3 3h2m-2 3h2" stroke="#5FA0DC" stroke-width="1.7" fill="none" opacity="0.8"/>
<rect x="252" y="253" width="105.5" height="106" fill="none" stroke="#757575" stroke-width="1.1"/>
<text transform="translate(249.5 306) rotate(-90)" font-size="9" fill="#111" stroke="#111" text-anchor="middle">t-SNE 2</text>
<text x="306" y="367.8" font-size="9" fill="#111" stroke="#111" text-anchor="middle">t-SNE 1</text>
<circle cx="331.7" cy="261.2" r="2.9" fill="#5FA0DC"/>
<text x="336.4" y="264.5" font-size="9.9" fill="#111" stroke="#111">Ctrl</text>
<circle cx="331.7" cy="272.8" r="2.9" fill="#E5392E"/>
<text x="336.4" y="276.3" font-size="9.9" fill="#111" stroke="#111">RPL</text>
<circle cx="251.7" cy="399.6" r="4.45" fill="#F5D000"/>
<text x="251.7" y="402.8" font-size="8.9" fill="#222" stroke="#222" text-anchor="middle" stroke-width="0">1</text>
<text x="257.8" y="402.9" font-size="9.3" fill="#111" stroke="#111">NK1</text>
<circle cx="251.7" cy="419.1" r="4.45" fill="#8DBE0B"/>
<text x="251.7" y="422.3" font-size="8.9" fill="#222" stroke="#222" text-anchor="middle" stroke-width="0">2</text>
<text x="257.8" y="422.4" font-size="9.3" fill="#111" stroke="#111">NK2</text>
<circle cx="251.7" cy="438.7" r="4.45" fill="#15763A"/>
<text x="251.7" y="441.9" font-size="8.9" fill="#222" stroke="#222" text-anchor="middle" stroke-width="0">3</text>
<text x="257.8" y="442" font-size="9.3" fill="#111" stroke="#111">NK3</text>
<circle cx="251.7" cy="458.2" r="4.45" fill="#E2DE6B"/>
<text x="251.7" y="461.4" font-size="8.9" fill="#222" stroke="#222" text-anchor="middle" stroke-width="0">4</text>
<text x="257.8" y="461.5" font-size="9.3" fill="#111" stroke="#111">NKp</text>
<circle cx="284.5" cy="399.6" r="4.45" fill="#B01525"/>
<text x="284.5" y="402.8" font-size="8.9" fill="#222" stroke="#222" text-anchor="middle" stroke-width="0">5</text>
<text x="290.6" y="402.9" font-size="9.3" fill="#111" stroke="#111">mac1</text>
<circle cx="284.5" cy="419.1" r="4.45" fill="#F88000"/>
<text x="284.5" y="422.3" font-size="8.9" fill="#222" stroke="#222" text-anchor="middle" stroke-width="0">6</text>
<text x="290.6" y="422.4" font-size="9.3" fill="#111" stroke="#111">mac2</text>
<circle cx="284.5" cy="438.7" r="4.45" fill="#683A5E"/>
<text x="284.5" y="441.9" font-size="8.9" fill="#222" stroke="#222" text-anchor="middle" stroke-width="0">7</text>
<text x="290.6" y="442" font-size="9.3" fill="#111" stroke="#111">T</text>
<circle cx="284.5" cy="458.2" r="4.45" fill="#FFC4D0"/>
<text x="284.5" y="461.4" font-size="8.9" fill="#222" stroke="#222" text-anchor="middle" stroke-width="0">8</text>
<text x="290.6" y="461.5" font-size="9.3" fill="#111" stroke="#111">NKT</text>
<circle cx="322.7" cy="399.6" r="4.45" fill="#3A80C4"/>
<text x="322.7" y="402.8" font-size="8.9" fill="#222" stroke="#222" text-anchor="middle" stroke-width="0">9</text>
<text x="328.8" y="402.9" font-size="9.3" fill="#111" stroke="#111">B</text>
<circle cx="322.7" cy="419.1" r="4.45" fill="#BACAF0"/>
<text x="322.4" y="422.3" font-size="8.9" fill="#222" stroke="#222" text-anchor="middle" stroke-width="0" letter-spacing="-0.6">10</text>
<text x="328.8" y="422.4" font-size="9.3" fill="#111" stroke="#111">DC</text>
<circle cx="322.7" cy="438.7" r="4.45" fill="#4A2A1C"/>
<text x="322.4" y="441.9" font-size="8.9" fill="#222" stroke="#222" text-anchor="middle" stroke-width="0" letter-spacing="-0.6">11</text>
<text x="328.8" y="442" font-size="9.3" fill="#111" stroke="#111">pro</text>
<text x="367.6" y="241.3" font-size="16.6" fill="#000" stroke="#000" font-weight="bold">c</text>
<text x="404" y="246.5" font-size="9.3" fill="#111" stroke="#111" text-anchor="middle">n</text>
<text x="435.1" y="246.5" font-size="9.65" fill="#111" stroke="#111" text-anchor="middle" font-style="italic">NKG7</text>
<text x="473.4" y="246.5" font-size="9.65" fill="#111" stroke="#111" text-anchor="middle" font-style="italic">CD68</text>
<text x="511.3" y="246.5" font-size="9.65" fill="#111" stroke="#111" text-anchor="middle" font-style="italic">CD3D</text>
<text x="549.2" y="246.5" font-size="9.65" fill="#111" stroke="#111" text-anchor="middle" font-style="italic">FGFBP2</text>
<text x="587.6" y="246.5" font-size="9.65" fill="#111" stroke="#111" text-anchor="middle" font-style="italic">CD79A</text>
<text x="625.6" y="246.5" font-size="9.65" fill="#111" stroke="#111" text-anchor="middle" font-style="italic">CLEC9A</text>
<text x="662.8" y="246.5" font-size="9.65" fill="#111" stroke="#111" text-anchor="middle" font-style="italic">KIT</text>
<line x1="390.5" y1="251.2" x2="390.5" y2="480.9" stroke="#444" stroke-width="0.9"/>
<text x="389.4" y="267.1" font-size="9.4" fill="#111" stroke="#111" text-anchor="end">NK1</text>
<text x="414.8" y="267.1" font-size="9.55" fill="#111" stroke="#111" text-anchor="end">2223</text>
<text x="389.4" y="287.68" font-size="9.4" fill="#111" stroke="#111" text-anchor="end">NK2</text>
<text x="414.8" y="287.68" font-size="9.55" fill="#111" stroke="#111" text-anchor="end">4528</text>
<text x="389.4" y="308.26" font-size="9.4" fill="#111" stroke="#111" text-anchor="end">NK3</text>
<text x="414.8" y="308.26" font-size="9.55" fill="#111" stroke="#111" text-anchor="end">2288</text>
<text x="389.4" y="328.84" font-size="9.4" fill="#111" stroke="#111" text-anchor="end">NKp</text>
<text x="414.8" y="328.84" font-size="9.55" fill="#111" stroke="#111" text-anchor="end">370</text>
<text x="389.4" y="349.42" font-size="9.4" fill="#111" stroke="#111" text-anchor="end">mac1</text>
<text x="414.8" y="349.42" font-size="9.55" fill="#111" stroke="#111" text-anchor="end">908</text>
<text x="389.4" y="370" font-size="9.4" fill="#111" stroke="#111" text-anchor="end">mac2</text>
<text x="414.8" y="370" font-size="9.55" fill="#111" stroke="#111" text-anchor="end">2498</text>
<text x="389.4" y="390.58" font-size="9.4" fill="#111" stroke="#111" text-anchor="end">T</text>
<text x="414.8" y="390.58" font-size="9.55" fill="#111" stroke="#111" text-anchor="end">4075</text>
<text x="389.4" y="411.16" font-size="9.4" fill="#111" stroke="#111" text-anchor="end">NKT</text>
<text x="414.8" y="411.16" font-size="9.55" fill="#111" stroke="#111" text-anchor="end">580</text>
<text x="389.4" y="431.74" font-size="9.4" fill="#111" stroke="#111" text-anchor="end">B</text>
<text x="414.8" y="431.74" font-size="9.55" fill="#111" stroke="#111" text-anchor="end">441</text>
<text x="389.4" y="452.32" font-size="9.4" fill="#111" stroke="#111" text-anchor="end">DC</text>
<text x="414.8" y="452.32" font-size="9.55" fill="#111" stroke="#111" text-anchor="end">420</text>
<text x="389.4" y="472.9" font-size="9.4" fill="#111" stroke="#111" text-anchor="end">pro</text>
<text x="414.8" y="472.9" font-size="9.55" fill="#111" stroke="#111" text-anchor="end">315</text>
<rect x="416.9" y="251.2" width="259.9" height="229.7" fill="none" stroke="#707070" stroke-width="1"/>
<line x1="416.9" y1="251.2" x2="416.9" y2="480.9" stroke="#5a5a5a" stroke-width="1.1"/>
<line x1="454.6" y1="251.2" x2="454.6" y2="480.9" stroke="#8c8c8c" stroke-width="0.85"/>
<line x1="492.2" y1="251.2" x2="492.2" y2="480.9" stroke="#8c8c8c" stroke-width="0.85"/>
<line x1="529.6" y1="251.2" x2="529.6" y2="480.9" stroke="#8c8c8c" stroke-width="0.85"/>
<line x1="567.7" y1="251.2" x2="567.7" y2="480.9" stroke="#8c8c8c" stroke-width="0.85"/>
<line x1="604.8" y1="251.2" x2="604.8" y2="480.9" stroke="#8c8c8c" stroke-width="0.85"/>
<line x1="642.2" y1="251.2" x2="642.2" y2="480.9" stroke="#8c8c8c" stroke-width="0.85"/>
<line x1="456.2" y1="254.85" x2="456.2" y2="273.65" stroke="#333" stroke-width="1.4"/>
<line x1="456.2" y1="264.25" x2="469.8" y2="264.25" stroke="#2a2a2a" stroke-width="0.9"/>
<line x1="456.2" y1="275.31" x2="456.2" y2="294.11" stroke="#333" stroke-width="1.4"/>
<line x1="456.2" y1="284.71" x2="476.8" y2="284.71" stroke="#2a2a2a" stroke-width="0.9"/>
<line x1="456.2" y1="295.77" x2="456.2" y2="314.57" stroke="#333" stroke-width="1.4"/>
<line x1="456.2" y1="305.17" x2="471.4" y2="305.17" stroke="#2a2a2a" stroke-width="0.9"/>
<line x1="456.2" y1="316.23" x2="456.2" y2="335.03" stroke="#333" stroke-width="1.4"/>
<line x1="456.2" y1="325.63" x2="474.8" y2="325.63" stroke="#2a2a2a" stroke-width="0.9"/>
<line x1="456.2" y1="377.61" x2="456.2" y2="396.41" stroke="#333" stroke-width="1.4"/>
<line x1="456.2" y1="387.01" x2="472" y2="387.01" stroke="#2a2a2a" stroke-width="0.9"/>
<line x1="456.2" y1="398.07" x2="456.2" y2="416.87" stroke="#333" stroke-width="1.4"/>
<line x1="456.2" y1="407.47" x2="471.2" y2="407.47" stroke="#2a2a2a" stroke-width="0.9"/>
<line x1="456.2" y1="418.53" x2="456.2" y2="437.33" stroke="#333" stroke-width="1.4"/>
<line x1="456.2" y1="427.93" x2="471" y2="427.93" stroke="#2a2a2a" stroke-width="0.9"/>
<line x1="493.8" y1="275.31" x2="493.8" y2="294.11" stroke="#333" stroke-width="1.4"/>
<line x1="493.8" y1="284.71" x2="516.6" y2="284.71" stroke="#2a2a2a" stroke-width="0.9"/>
<line x1="493.8" y1="295.77" x2="493.8" y2="314.57" stroke="#333" stroke-width="1.4"/>
<line x1="493.8" y1="305.17" x2="516.6" y2="305.17" stroke="#2a2a2a" stroke-width="0.9"/>
<line x1="493.8" y1="336.69" x2="493.8" y2="355.49" stroke="#333" stroke-width="1.4"/>
<line x1="493.8" y1="346.09" x2="509.6" y2="346.09" stroke="#2a2a2a" stroke-width="0.9"/>
<line x1="493.8" y1="357.15" x2="493.8" y2="375.95" stroke="#333" stroke-width="1.4"/>
<line x1="493.8" y1="366.55" x2="512.4" y2="366.55" stroke="#2a2a2a" stroke-width="0.9"/>
<line x1="493.8" y1="418.53" x2="493.8" y2="437.33" stroke="#333" stroke-width="1.4"/>
<line x1="493.8" y1="427.93" x2="507.6" y2="427.93" stroke="#2a2a2a" stroke-width="0.9"/>
<line x1="493.8" y1="438.99" x2="493.8" y2="457.79" stroke="#333" stroke-width="1.4"/>
<line x1="493.8" y1="448.39" x2="506.9" y2="448.39" stroke="#2a2a2a" stroke-width="0.9"/>
<line x1="493.8" y1="459.45" x2="493.8" y2="478.25" stroke="#333" stroke-width="1.4"/>
<line x1="493.8" y1="468.85" x2="510.4" y2="468.85" stroke="#2a2a2a" stroke-width="0.9"/>
<line x1="531.2" y1="254.85" x2="531.2" y2="273.65" stroke="#333" stroke-width="1.4"/>
<line x1="531.2" y1="264.25" x2="545" y2="264.25" stroke="#2a2a2a" stroke-width="0.9"/>
<line x1="531.2" y1="275.31" x2="531.2" y2="294.11" stroke="#333" stroke-width="1.4"/>
<line x1="531.2" y1="284.71" x2="546" y2="284.71" stroke="#2a2a2a" stroke-width="0.9"/>
<line x1="531.2" y1="295.77" x2="531.2" y2="314.57" stroke="#333" stroke-width="1.4"/>
<line x1="531.2" y1="305.17" x2="551.6" y2="305.17" stroke="#2a2a2a" stroke-width="0.9"/>
<line x1="531.2" y1="316.23" x2="531.2" y2="335.03" stroke="#333" stroke-width="1.4"/>
<line x1="531.2" y1="325.63" x2="541" y2="325.63" stroke="#2a2a2a" stroke-width="0.9"/>
<line x1="531.2" y1="336.69" x2="531.2" y2="355.49" stroke="#333" stroke-width="1.4"/>
<line x1="531.2" y1="346.09" x2="539.4" y2="346.09" stroke="#2a2a2a" stroke-width="0.9"/>
<line x1="531.2" y1="357.15" x2="531.2" y2="375.95" stroke="#333" stroke-width="1.4"/>
<line x1="531.2" y1="366.55" x2="546.4" y2="366.55" stroke="#2a2a2a" stroke-width="0.9"/>
<line x1="531.2" y1="377.61" x2="531.2" y2="396.41" stroke="#333" stroke-width="1.4"/>
<line x1="531.2" y1="387.01" x2="550.8" y2="387.01" stroke="#2a2a2a" stroke-width="0.9"/>
<line x1="531.2" y1="418.53" x2="531.2" y2="437.33" stroke="#333" stroke-width="1.4"/>
<line x1="531.2" y1="427.93" x2="540.8" y2="427.93" stroke="#2a2a2a" stroke-width="0.9"/>
<line x1="531.2" y1="438.99" x2="531.2" y2="457.79" stroke="#333" stroke-width="1.4"/>
<line x1="531.2" y1="448.39" x2="540.8" y2="448.39" stroke="#2a2a2a" stroke-width="0.9"/>
<line x1="531.2" y1="459.45" x2="531.2" y2="478.25" stroke="#333" stroke-width="1.4"/>
<line x1="531.2" y1="468.85" x2="541.6" y2="468.85" stroke="#2a2a2a" stroke-width="0.9"/>
<line x1="569.3" y1="254.85" x2="569.3" y2="273.65" stroke="#333" stroke-width="1.4"/>
<line x1="569.3" y1="264.25" x2="579.4" y2="264.25" stroke="#2a2a2a" stroke-width="0.9"/>
<line x1="569.3" y1="275.31" x2="569.3" y2="294.11" stroke="#333" stroke-width="1.4"/>
<line x1="569.3" y1="284.71" x2="585" y2="284.71" stroke="#2a2a2a" stroke-width="0.9"/>
<line x1="569.3" y1="295.77" x2="569.3" y2="314.57" stroke="#333" stroke-width="1.4"/>
<line x1="569.3" y1="305.17" x2="583.6" y2="305.17" stroke="#2a2a2a" stroke-width="0.9"/>
<line x1="569.3" y1="316.23" x2="569.3" y2="335.03" stroke="#333" stroke-width="1.4"/>
<line x1="569.3" y1="325.63" x2="581.6" y2="325.63" stroke="#2a2a2a" stroke-width="0.9"/>
<line x1="569.3" y1="336.69" x2="569.3" y2="355.49" stroke="#333" stroke-width="1.4"/>
<line x1="569.3" y1="346.09" x2="585.4" y2="346.09" stroke="#2a2a2a" stroke-width="0.9"/>
<line x1="569.3" y1="357.15" x2="569.3" y2="375.95" stroke="#333" stroke-width="1.4"/>
<line x1="569.3" y1="366.55" x2="583" y2="366.55" stroke="#2a2a2a" stroke-width="0.9"/>
<line x1="569.3" y1="377.61" x2="569.3" y2="396.41" stroke="#333" stroke-width="1.4"/>
<line x1="569.3" y1="387.01" x2="582.4" y2="387.01" stroke="#2a2a2a" stroke-width="0.9"/>
<line x1="569.3" y1="398.07" x2="569.3" y2="416.87" stroke="#333" stroke-width="1.4"/>
<line x1="569.3" y1="407.47" x2="579.2" y2="407.47" stroke="#2a2a2a" stroke-width="0.9"/>
<line x1="569.3" y1="438.99" x2="569.3" y2="457.79" stroke="#333" stroke-width="1.4"/>
<line x1="569.3" y1="448.39" x2="576.4" y2="448.39" stroke="#2a2a2a" stroke-width="0.9"/>
<line x1="569.3" y1="459.45" x2="569.3" y2="478.25" stroke="#333" stroke-width="1.4"/>
<line x1="569.3" y1="468.85" x2="578.8" y2="468.85" stroke="#2a2a2a" stroke-width="0.9"/>
<line x1="606.4" y1="254.85" x2="606.4" y2="273.65" stroke="#333" stroke-width="1.4"/>
<line x1="606.4" y1="275.31" x2="606.4" y2="294.11" stroke="#333" stroke-width="1.4"/>
<line x1="606.4" y1="284.71" x2="617" y2="284.71" stroke="#2a2a2a" stroke-width="0.9"/>
<line x1="606.4" y1="295.77" x2="606.4" y2="314.57" stroke="#333" stroke-width="1.4"/>
<line x1="606.4" y1="305.17" x2="617" y2="305.17" stroke="#2a2a2a" stroke-width="0.9"/>
<line x1="606.4" y1="316.23" x2="606.4" y2="335.03" stroke="#333" stroke-width="1.4"/>
<line x1="606.4" y1="325.63" x2="609.6" y2="325.63" stroke="#2a2a2a" stroke-width="0.9"/>
<line x1="606.4" y1="336.69" x2="606.4" y2="355.49" stroke="#333" stroke-width="1.4"/>
<line x1="606.4" y1="346.09" x2="616" y2="346.09" stroke="#2a2a2a" stroke-width="0.9"/>
<line x1="606.4" y1="357.15" x2="606.4" y2="375.95" stroke="#333" stroke-width="1.4"/>
<line x1="606.4" y1="366.55" x2="617.6" y2="366.55" stroke="#2a2a2a" stroke-width="0.9"/>
<line x1="606.4" y1="377.61" x2="606.4" y2="396.41" stroke="#333" stroke-width="1.4"/>
<line x1="606.4" y1="387.01" x2="616.6" y2="387.01" stroke="#2a2a2a" stroke-width="0.9"/>
<line x1="606.4" y1="398.07" x2="606.4" y2="416.87" stroke="#333" stroke-width="1.4"/>
<line x1="606.4" y1="418.53" x2="606.4" y2="437.33" stroke="#333" stroke-width="1.4"/>
<line x1="606.4" y1="459.45" x2="606.4" y2="478.25" stroke="#333" stroke-width="1.4"/>
<line x1="643.8" y1="254.85" x2="643.8" y2="273.65" stroke="#333" stroke-width="1.4"/>
<line x1="643.8" y1="264.25" x2="654" y2="264.25" stroke="#2a2a2a" stroke-width="0.9"/>
<line x1="643.8" y1="275.31" x2="643.8" y2="294.11" stroke="#333" stroke-width="1.4"/>
<line x1="643.8" y1="284.71" x2="661" y2="284.71" stroke="#2a2a2a" stroke-width="0.9"/>
<line x1="643.8" y1="295.77" x2="643.8" y2="314.57" stroke="#333" stroke-width="1.4"/>
<line x1="643.8" y1="305.17" x2="657" y2="305.17" stroke="#2a2a2a" stroke-width="0.9"/>
<line x1="643.8" y1="316.23" x2="643.8" y2="335.03" stroke="#333" stroke-width="1.4"/>
<line x1="643.8" y1="325.63" x2="652" y2="325.63" stroke="#2a2a2a" stroke-width="0.9"/>
<line x1="643.8" y1="336.69" x2="643.8" y2="355.49" stroke="#333" stroke-width="1.4"/>
<line x1="643.8" y1="346.09" x2="648" y2="346.09" stroke="#2a2a2a" stroke-width="0.9"/>
<line x1="643.8" y1="357.15" x2="643.8" y2="375.95" stroke="#333" stroke-width="1.4"/>
<line x1="643.8" y1="366.55" x2="648" y2="366.55" stroke="#2a2a2a" stroke-width="0.9"/>
<line x1="643.8" y1="377.61" x2="643.8" y2="396.41" stroke="#333" stroke-width="1.4"/>
<line x1="643.8" y1="387.01" x2="653.6" y2="387.01" stroke="#2a2a2a" stroke-width="0.9"/>
<line x1="643.8" y1="398.07" x2="643.8" y2="416.87" stroke="#333" stroke-width="1.4"/>
<line x1="643.8" y1="407.47" x2="649.8" y2="407.47" stroke="#2a2a2a" stroke-width="0.9"/>
<line x1="643.8" y1="418.53" x2="643.8" y2="437.33" stroke="#333" stroke-width="1.4"/>
<line x1="643.8" y1="427.93" x2="649" y2="427.93" stroke="#2a2a2a" stroke-width="0.9"/>
<line x1="643.8" y1="438.99" x2="643.8" y2="457.79" stroke="#333" stroke-width="1.4"/>
<line x1="643.8" y1="448.39" x2="647.2" y2="448.39" stroke="#2a2a2a" stroke-width="0.9"/>
<line x1="417.35" y1="336.69" x2="417.35" y2="355.49" stroke="#333" stroke-width="1.4"/>
<line x1="417.35" y1="357.15" x2="417.35" y2="375.95" stroke="#333" stroke-width="1.4"/>
<line x1="417.35" y1="377.61" x2="417.35" y2="396.41" stroke="#333" stroke-width="1.4"/>
<line x1="417.35" y1="398.07" x2="417.35" y2="416.87" stroke="#333" stroke-width="1.4"/>
<line x1="417.35" y1="418.53" x2="417.35" y2="437.33" stroke="#333" stroke-width="1.4"/>
<line x1="417.35" y1="438.99" x2="417.35" y2="457.79" stroke="#333" stroke-width="1.4"/>
<line x1="417.35" y1="459.45" x2="417.35" y2="478.25" stroke="#333" stroke-width="1.4"/>
<path d="M417.6 264.13C421.08 264.12 434.67 264.3 438.5 264.05C442.33 263.8 439.95 263.28 440.6 262.65C441.25 262.02 441.78 261.15 442.4 260.25C443.02 259.35 443.7 258.15 444.3 257.25C444.9 256.35 445.43 254.75 446 254.85C446.57 254.95 447.17 256.82 447.7 257.85C448.23 258.88 448.82 260.17 449.2 261.05C449.58 261.93 449.82 262.62 450 263.15C450.18 263.68 450.25 264.07 450.3 264.25L450.3 264.25C450.25 264.43 450.18 264.82 450 265.35C449.82 265.88 449.58 266.57 449.2 267.45C448.82 268.33 448.23 269.62 447.7 270.65C447.17 271.68 446.57 273.55 446 273.65C445.43 273.75 444.9 272.15 444.3 271.25C443.7 270.35 443.02 269.15 442.4 268.25C441.78 267.35 441.25 266.48 440.6 265.85C439.95 265.22 442.33 264.7 438.5 264.45C434.67 264.2 421.08 264.38 417.6 264.37Z" fill="#F5D000" stroke="#1c1c1c" stroke-width="0.95" stroke-linejoin="round"/>
<path d="M417.6 284.59C420.25 284.58 430.35 284.66 433.5 284.51C436.65 284.36 435.5 284.18 436.5 283.71C437.5 283.24 438.5 282.54 439.5 281.71C440.5 280.88 441.67 279.59 442.5 278.71C443.33 277.83 444 276.98 444.5 276.41C445 275.84 445.03 275.06 445.5 275.31C445.97 275.56 446.72 276.91 447.3 277.91C447.88 278.91 448.55 280.36 449 281.31C449.45 282.26 449.78 283.04 450 283.61C450.22 284.18 450.25 284.53 450.3 284.71L450.3 284.71C450.25 284.89 450.22 285.24 450 285.81C449.78 286.38 449.45 287.16 449 288.11C448.55 289.06 447.88 290.51 447.3 291.51C446.72 292.51 445.97 293.86 445.5 294.11C445.03 294.36 445 293.58 444.5 293.01C444 292.44 443.33 291.59 442.5 290.71C441.67 289.83 440.5 288.54 439.5 287.71C438.5 286.88 437.5 286.18 436.5 285.71C435.5 285.24 436.65 285.06 433.5 284.91C430.35 284.76 420.25 284.84 417.6 284.83Z" fill="#8DBE0B" stroke="#1c1c1c" stroke-width="0.95" stroke-linejoin="round"/>
<path d="M417.6 305.05C417.77 304.95 418.2 304.48 418.6 304.47C419 304.46 418.85 304.9 420 304.97C421.15 305.04 424.08 305.04 425.5 304.87C426.92 304.7 427.42 304.35 428.5 303.97C429.58 303.59 430.75 303.1 432 302.57C433.25 302.04 434.75 301.5 436 300.77C437.25 300.04 438.53 298.9 439.5 298.17C440.47 297.44 441.18 296.77 441.8 296.37C442.42 295.97 442.62 295.6 443.2 295.77C443.78 295.94 444.57 296.6 445.3 297.37C446.03 298.14 446.9 299.37 447.6 300.37C448.3 301.37 449.08 302.57 449.5 303.37C449.92 304.17 450 304.87 450.1 305.17L450.1 305.17C450 305.47 449.92 306.17 449.5 306.97C449.08 307.77 448.3 308.97 447.6 309.97C446.9 310.97 446.03 312.2 445.3 312.97C444.57 313.74 443.78 314.4 443.2 314.57C442.62 314.74 442.42 314.37 441.8 313.97C441.18 313.57 440.47 312.9 439.5 312.17C438.53 311.44 437.25 310.3 436 309.57C434.75 308.84 433.25 308.3 432 307.77C430.75 307.24 429.58 306.75 428.5 306.37C427.42 305.99 426.92 305.64 425.5 305.47C424.08 305.3 421.15 305.3 420 305.37C418.85 305.44 419 305.88 418.6 305.87C418.2 305.86 417.77 305.39 417.6 305.29Z" fill="#15763A" stroke="#1c1c1c" stroke-width="0.95" stroke-linejoin="round"/>
<path d="M417.6 325.13C417.8 325.01 418.37 324.44 418.8 324.43C419.23 324.42 419.42 324.98 420.2 325.08C420.98 325.18 422.73 325.1 423.5 325.03C424.27 324.95 424.3 324.63 424.8 324.63C425.3 324.63 425.63 325.03 426.5 325.03C427.37 325.03 428.75 324.83 430 324.63C431.25 324.43 432.67 324.3 434 323.83C435.33 323.36 436.75 322.66 438 321.83C439.25 321 440.5 319.76 441.5 318.83C442.5 317.9 443.28 316.23 444 316.23C444.72 316.23 445.18 317.86 445.8 318.83C446.42 319.8 447.17 321.11 447.7 322.03C448.23 322.95 448.68 323.73 449 324.33C449.32 324.93 449.5 325.41 449.6 325.63L449.6 325.63C449.5 325.85 449.32 326.33 449 326.93C448.68 327.53 448.23 328.31 447.7 329.23C447.17 330.15 446.42 331.46 445.8 332.43C445.18 333.4 444.72 335.03 444 335.03C443.28 335.03 442.5 333.36 441.5 332.43C440.5 331.5 439.25 330.26 438 329.43C436.75 328.6 435.33 327.9 434 327.43C432.67 326.96 431.25 326.83 430 326.63C428.75 326.43 427.37 326.23 426.5 326.23C425.63 326.23 425.3 326.63 424.8 326.63C424.3 326.63 424.27 326.31 423.5 326.23C422.73 326.16 420.98 326.08 420.2 326.18C419.42 326.28 419.23 326.84 418.8 326.83C418.37 326.82 417.8 326.25 417.6 326.13Z" fill="#E2DE6B" stroke="#1c1c1c" stroke-width="0.95" stroke-linejoin="round"/>
<path d="M417.8 337.89C417.89 338.41 418.09 340.09 418.31 341.01C418.54 341.92 418.85 342.8 419.14 343.38C419.44 343.97 419.79 344.22 420.1 344.51C420.41 344.79 420.43 345.59 421 345.09C421.57 344.59 422.67 342.41 423.5 341.49C424.33 340.57 425.13 339.97 426 339.59C426.87 339.21 427.78 339.11 428.7 339.19C429.62 339.27 430.53 339.47 431.5 340.09C432.47 340.71 433.58 342.09 434.5 342.89C435.42 343.69 436.25 344.45 437 344.89C437.75 345.33 437.55 345.36 439 345.54C440.45 345.72 444.58 345.92 445.7 345.99L445.7 346.19C444.58 346.27 440.45 346.46 439 346.64C437.55 346.82 437.75 346.85 437 347.29C436.25 347.73 435.42 348.49 434.5 349.29C433.58 350.09 432.47 351.47 431.5 352.09C430.53 352.71 429.62 352.91 428.7 352.99C427.78 353.07 426.87 352.97 426 352.59C425.13 352.21 424.33 351.61 423.5 350.69C422.67 349.77 421.57 347.59 421 347.09C420.43 346.59 420.41 347.39 420.1 347.67C419.79 347.96 419.44 348.21 419.14 348.8C418.85 349.38 418.54 350.26 418.31 351.17C418.09 352.09 417.89 353.77 417.8 354.29Z" fill="#B01525" stroke="#1c1c1c" stroke-width="0.95" stroke-linejoin="round"/>
<path d="M417.8 360.15C417.9 360.56 418.14 361.87 418.41 362.58C418.67 363.3 419.04 363.98 419.4 364.44C419.75 364.89 420.17 365.08 420.54 365.3C420.9 365.52 421.02 365.78 421.6 365.75C422.18 365.72 423.17 365.32 424 365.15C424.83 364.98 425.6 364.75 426.6 364.75C427.6 364.75 428.85 364.97 430 365.15C431.15 365.33 432.5 365.69 433.5 365.85C434.5 366.01 433.97 366 436 366.1C438.03 366.2 444.08 366.39 445.7 366.45L445.7 366.65C444.08 366.71 438.03 366.9 436 367C433.97 367.1 434.5 367.09 433.5 367.25C432.5 367.41 431.15 367.77 430 367.95C428.85 368.13 427.6 368.35 426.6 368.35C425.6 368.35 424.83 368.12 424 367.95C423.17 367.78 422.18 367.38 421.6 367.35C421.02 367.32 420.9 367.58 420.54 367.8C420.17 368.02 419.75 368.21 419.4 368.66C419.04 369.12 418.67 369.8 418.41 370.52C418.14 371.23 417.9 372.54 417.8 372.95Z" fill="#F88000" stroke="#1c1c1c" stroke-width="0.95" stroke-linejoin="round"/>
<path d="M417.8 378.61C417.92 379.14 418.2 380.86 418.52 381.8C418.83 382.74 419.27 383.64 419.69 384.24C420.11 384.84 420.61 385.11 421.04 385.4C421.48 385.7 421.72 386.51 422.3 386.01C422.88 385.51 423.63 383.46 424.5 382.41C425.37 381.36 426.42 380.28 427.5 379.71C428.58 379.14 429.83 379.09 431 379.01C432.17 378.93 433.25 378.81 434.5 379.21C435.75 379.61 437.25 380.58 438.5 381.41C439.75 382.24 440.87 383.43 442 384.21C443.13 384.99 444.13 385.66 445.3 386.11C446.47 386.56 448.38 386.78 449 386.91L449 387.11C448.38 387.24 446.47 387.46 445.3 387.91C444.13 388.36 443.13 389.03 442 389.81C440.87 390.59 439.75 391.78 438.5 392.61C437.25 393.44 435.75 394.41 434.5 394.81C433.25 395.21 432.17 395.09 431 395.01C429.83 394.93 428.58 394.88 427.5 394.31C426.42 393.74 425.37 392.66 424.5 391.61C423.63 390.56 422.88 388.51 422.3 388.01C421.72 387.51 421.48 388.32 421.04 388.62C420.61 388.91 420.11 389.18 419.69 389.78C419.27 390.38 418.83 391.28 418.52 392.22C418.2 393.16 417.92 394.88 417.8 395.41Z" fill="#683A5E" stroke="#1c1c1c" stroke-width="0.95" stroke-linejoin="round"/>
<path d="M417.6 407.35C419.83 407.34 428.18 407.45 431 407.27C433.82 407.09 433.33 406.8 434.5 406.27C435.67 405.74 436.83 404.97 438 404.07C439.17 403.17 440.5 401.87 441.5 400.87C442.5 399.87 443.23 398.14 444 398.07C444.77 398 445.4 399.54 446.1 400.47C446.8 401.4 447.62 402.72 448.2 403.67C448.78 404.62 449.3 405.54 449.6 406.17C449.9 406.8 449.93 407.25 450 407.47L450 407.47C449.93 407.69 449.9 408.14 449.6 408.77C449.3 409.4 448.78 410.32 448.2 411.27C447.62 412.22 446.8 413.54 446.1 414.47C445.4 415.4 444.77 416.94 444 416.87C443.23 416.8 442.5 415.07 441.5 414.07C440.5 413.07 439.17 411.77 438 410.87C436.83 409.97 435.67 409.2 434.5 408.67C433.33 408.14 433.82 407.85 431 407.67C428.18 407.49 419.83 407.6 417.6 407.59Z" fill="#FFC4D0" stroke="#1c1c1c" stroke-width="0.95" stroke-linejoin="round"/>
<path d="M417.8 418.93C417.94 419.5 418.27 421.35 418.63 422.35C419 423.36 419.5 424.31 419.98 424.96C420.47 425.61 421.04 425.92 421.54 426.25C422.05 426.58 422.34 427.22 423 426.93C423.66 426.64 424.75 425.23 425.5 424.53C426.25 423.83 426.92 423.13 427.5 422.73C428.08 422.33 428.42 422.1 429 422.13C429.58 422.16 430.17 422.4 431 422.93C431.83 423.46 432.92 424.65 434 425.33C435.08 426.01 436.5 426.67 437.5 427.03C438.5 427.39 438.63 427.35 440 427.48C441.37 427.61 444.75 427.77 445.7 427.83L445.7 428.03C444.75 428.09 441.37 428.25 440 428.38C438.63 428.51 438.5 428.47 437.5 428.83C436.5 429.19 435.08 429.85 434 430.53C432.92 431.21 431.83 432.4 431 432.93C430.17 433.46 429.58 433.7 429 433.73C428.42 433.76 428.08 433.53 427.5 433.13C426.92 432.73 426.25 432.03 425.5 431.33C424.75 430.63 423.66 429.22 423 428.93C422.34 428.64 422.05 429.28 421.54 429.61C421.04 429.94 420.47 430.25 419.98 430.9C419.5 431.55 419 432.5 418.63 433.51C418.27 434.51 417.94 436.36 417.8 436.93Z" fill="#3A80C4" stroke="#1c1c1c" stroke-width="0.95" stroke-linejoin="round"/>
<path d="M417.8 439.99C417.9 440.52 418.14 442.24 418.41 443.18C418.67 444.12 419.04 445.13 419.4 445.62C419.75 446.11 420.17 446.02 420.54 446.13C420.9 446.25 421.19 446.97 421.6 446.31C422.01 445.65 422.55 443.18 423 442.19C423.45 441.2 423.72 440.39 424.3 440.39C424.88 440.39 425.63 441.49 426.5 442.19C427.37 442.89 428.5 443.86 429.5 444.59C430.5 445.32 431.48 446.06 432.5 446.59C433.52 447.12 434.23 447.51 435.6 447.79C436.97 448.07 439.85 448.21 440.7 448.29L440.7 448.49C439.85 448.57 436.97 448.71 435.6 448.99C434.23 449.27 433.52 449.66 432.5 450.19C431.48 450.72 430.5 451.46 429.5 452.19C428.5 452.92 427.37 453.89 426.5 454.59C425.63 455.29 424.88 456.39 424.3 456.39C423.72 456.39 423.45 455.58 423 454.59C422.55 453.6 422.01 451.13 421.6 450.47C421.19 449.81 420.9 450.53 420.54 450.65C420.17 450.76 419.75 450.67 419.4 451.16C419.04 451.65 418.67 452.66 418.41 453.6C418.14 454.54 417.9 456.26 417.8 456.79Z" fill="#BACAF0" stroke="#1c1c1c" stroke-width="0.95" stroke-linejoin="round"/>
<path d="M417.8 459.45C417.92 460.05 418.2 461.97 418.52 463.02C418.83 464.07 419.27 465.23 419.69 465.75C420.11 466.27 420.61 466.06 421.04 466.14C421.48 466.22 421.72 466.69 422.3 466.21C422.88 465.73 423.67 463.96 424.5 463.25C425.33 462.54 426.22 461.95 427.3 461.95C428.38 461.95 429.72 462.7 431 463.25C432.28 463.8 433.67 464.62 435 465.25C436.33 465.88 437.63 466.47 439 467.05C440.37 467.63 442.5 468.47 443.2 468.75L443.2 468.95C442.5 469.23 440.37 470.07 439 470.65C437.63 471.23 436.33 471.82 435 472.45C433.67 473.08 432.28 473.9 431 474.45C429.72 475 428.38 475.75 427.3 475.75C426.22 475.75 425.33 475.16 424.5 474.45C423.67 473.74 422.88 471.97 422.3 471.49C421.72 471.01 421.48 471.49 421.04 471.56C420.61 471.64 420.11 471.43 419.69 471.95C419.27 472.47 418.83 473.63 418.52 474.68C418.2 475.73 417.92 477.65 417.8 478.25Z" fill="#4A2A1C" stroke="#1c1c1c" stroke-width="0.95" stroke-linejoin="round"/>
<path d="M455.5 341.69C455.58 341.97 455.78 342.87 456 343.36C456.21 343.85 456.51 344.36 456.8 344.64C457.09 344.91 457.43 344.93 457.73 345.02C458.03 345.11 458.14 345.23 458.6 345.19C459.06 345.15 459.85 345.12 460.5 344.79C461.15 344.46 461.83 343.79 462.5 343.19C463.17 342.59 463.83 341.89 464.5 341.19C465.17 340.49 465.92 339.64 466.5 338.99C467.08 338.34 467.6 337.67 468 337.29C468.4 336.91 468.57 336.64 468.9 336.69C469.23 336.74 469.48 337.02 470 337.59C470.52 338.16 471.33 339.26 472 340.09C472.67 340.92 473.33 341.84 474 342.59C474.67 343.34 475.35 344.08 476 344.59C476.65 345.1 477.35 345.41 477.9 345.64C478.45 345.87 479.07 345.93 479.3 345.99L479.3 346.19C479.07 346.25 478.45 346.31 477.9 346.54C477.35 346.77 476.65 347.08 476 347.59C475.35 348.1 474.67 348.84 474 349.59C473.33 350.34 472.67 351.26 472 352.09C471.33 352.92 470.52 354.02 470 354.59C469.48 355.16 469.23 355.44 468.9 355.49C468.57 355.54 468.4 355.27 468 354.89C467.6 354.51 467.08 353.84 466.5 353.19C465.92 352.54 465.17 351.69 464.5 350.99C463.83 350.29 463.17 349.59 462.5 348.99C461.83 348.39 461.15 347.72 460.5 347.39C459.85 347.06 459.06 347.03 458.6 346.99C458.14 346.95 458.03 347.07 457.73 347.16C457.43 347.25 457.09 347.27 456.8 347.54C456.51 347.82 456.21 348.33 456 348.82C455.78 349.31 455.58 350.21 455.5 350.49Z" fill="#B01525" stroke="#1c1c1c" stroke-width="0.95" stroke-linejoin="round"/>
<path d="M455.5 361.75C455.58 362.05 455.78 363.04 456 363.57C456.21 364.11 456.51 364.65 456.8 364.97C457.09 365.29 457.43 365.36 457.73 365.49C458.03 365.62 458.06 365.82 458.6 365.75C459.14 365.68 460.18 365.45 461 365.05C461.82 364.65 462.67 364 463.5 363.35C464.33 362.7 465.2 361.88 466 361.15C466.8 360.42 467.68 359.53 468.3 358.95C468.92 358.37 469.33 357.95 469.7 357.65C470.07 357.35 470.2 357.08 470.5 357.15C470.8 357.22 471.03 357.52 471.5 358.05C471.97 358.58 472.67 359.53 473.3 360.35C473.93 361.17 474.65 362.15 475.3 362.95C475.95 363.75 476.65 364.62 477.2 365.15C477.75 365.68 478.2 365.93 478.6 366.15C479 366.37 479.43 366.4 479.6 366.45L479.6 366.65C479.43 366.7 479 366.73 478.6 366.95C478.2 367.17 477.75 367.42 477.2 367.95C476.65 368.48 475.95 369.35 475.3 370.15C474.65 370.95 473.93 371.93 473.3 372.75C472.67 373.57 471.97 374.52 471.5 375.05C471.03 375.58 470.8 375.88 470.5 375.95C470.2 376.02 470.07 375.75 469.7 375.45C469.33 375.15 468.92 374.73 468.3 374.15C467.68 373.57 466.8 372.68 466 371.95C465.2 371.22 464.33 370.4 463.5 369.75C462.67 369.1 461.82 368.45 461 368.05C460.18 367.65 459.14 367.42 458.6 367.35C458.06 367.28 458.03 367.48 457.73 367.61C457.43 367.74 457.09 367.81 456.8 368.13C456.51 368.45 456.21 368.99 456 369.53C455.78 370.06 455.58 371.05 455.5 371.35Z" fill="#F88000" stroke="#1c1c1c" stroke-width="0.95" stroke-linejoin="round"/>
<path d="M455.5 439.79C455.58 440.33 455.78 442.1 456 443.06C456.21 444.02 456.51 444.94 456.8 445.55C457.09 446.17 457.43 446.45 457.73 446.76C458.03 447.06 458.17 447.88 458.6 447.39C459.03 446.9 459.73 444.66 460.3 443.79C460.87 442.92 461.3 442.22 462 442.19C462.7 442.16 463.5 442.96 464.5 443.59C465.5 444.22 466.92 445.32 468 445.99C469.08 446.66 470.17 447.21 471 447.59C471.83 447.97 472.67 448.17 473 448.29L473 448.49C472.67 448.61 471.83 448.81 471 449.19C470.17 449.57 469.08 450.12 468 450.79C466.92 451.46 465.5 452.56 464.5 453.19C463.5 453.82 462.7 454.62 462 454.59C461.3 454.56 460.87 453.86 460.3 452.99C459.73 452.12 459.03 449.88 458.6 449.39C458.17 448.9 458.03 449.72 457.73 450.02C457.43 450.33 457.09 450.61 456.8 451.23C456.51 451.84 456.21 452.76 456 453.72C455.78 454.68 455.58 456.45 455.5 456.99Z" fill="#BACAF0" stroke="#1c1c1c" stroke-width="0.95" stroke-linejoin="round"/>
<path d="M455.5 459.45C455.61 460.05 455.87 461.97 456.16 463.02C456.44 464.07 456.84 465.06 457.22 465.75C457.6 466.43 458.06 466.77 458.45 467.12C458.85 467.47 458.84 467.81 459.6 467.85C460.36 467.89 461.33 467.5 463 467.35C464.67 467.2 467.85 466.9 469.6 466.95C471.35 467 472.3 467.35 473.5 467.65C474.7 467.95 476.25 468.57 476.8 468.75L476.8 468.95C476.25 469.13 474.7 469.75 473.5 470.05C472.3 470.35 471.35 470.7 469.6 470.75C467.85 470.8 464.67 470.5 463 470.35C461.33 470.2 460.36 469.81 459.6 469.85C458.84 469.89 458.85 470.23 458.45 470.58C458.06 470.93 457.6 471.27 457.22 471.95C456.84 472.64 456.44 473.63 456.16 474.68C455.87 475.73 455.61 477.65 455.5 478.25Z" fill="#4A2A1C" stroke="#1c1c1c" stroke-width="0.95" stroke-linejoin="round"/>
<path d="M493.1 254.85C493.14 255.45 493.23 257.37 493.34 258.42C493.44 259.47 493.59 260.41 493.73 261.15C493.87 261.89 494.04 262.41 494.18 262.85C494.32 263.29 493.96 263.67 494.6 263.8C495.24 263.93 496.43 263.66 498 263.65C499.57 263.64 501.47 263.67 504 263.75C506.53 263.83 511.67 264.08 513.2 264.15L513.2 264.35C511.67 264.42 506.53 264.67 504 264.75C501.47 264.83 499.57 264.86 498 264.85C496.43 264.84 495.24 264.57 494.6 264.7C493.96 264.83 494.32 265.21 494.18 265.65C494.04 266.09 493.87 266.61 493.73 267.35C493.59 268.09 493.44 269.03 493.34 270.08C493.23 271.13 493.14 273.05 493.1 273.65Z" fill="#F5D000" stroke="#1c1c1c" stroke-width="0.95" stroke-linejoin="round"/>
<path d="M493.1 316.23C493.15 316.83 493.25 318.75 493.37 319.8C493.49 320.85 493.66 321.8 493.81 322.53C493.97 323.25 494.16 323.73 494.32 324.14C494.49 324.56 494.27 324.95 494.8 325.03C495.33 325.11 496.47 324.63 497.5 324.63C498.53 324.63 498.25 324.88 501 325.03C503.75 325.18 511.83 325.45 514 325.53L514 325.73C511.83 325.81 503.75 326.08 501 326.23C498.25 326.38 498.53 326.63 497.5 326.63C496.47 326.63 495.33 326.15 494.8 326.23C494.27 326.31 494.49 326.7 494.32 327.12C494.16 327.53 493.97 328.01 493.81 328.73C493.66 329.46 493.49 330.41 493.37 331.46C493.25 332.51 493.15 334.43 493.1 335.03Z" fill="#E2DE6B" stroke="#1c1c1c" stroke-width="0.95" stroke-linejoin="round"/>
<path d="M493.1 380.41C493.24 380.83 493.56 382.18 493.92 382.92C494.27 383.66 494.77 384.38 495.24 384.83C495.72 385.28 496.28 385.42 496.77 385.62C497.26 385.81 497.66 386.11 498.2 386.01C498.74 385.91 499.28 385.54 500 385.01C500.72 384.48 501.58 383.64 502.5 382.81C503.42 381.98 504.5 380.88 505.5 380.01C506.5 379.14 507.58 377.58 508.5 377.61C509.42 377.64 510.08 379.14 511 380.21C511.92 381.28 513.13 383.03 514 384.01C514.87 384.99 515.22 385.63 516.2 386.11C517.18 386.59 519.28 386.78 519.9 386.91L519.9 387.11C519.28 387.24 517.18 387.43 516.2 387.91C515.22 388.39 514.87 389.03 514 390.01C513.13 390.99 511.92 392.74 511 393.81C510.08 394.88 509.42 396.38 508.5 396.41C507.58 396.44 506.5 394.88 505.5 394.01C504.5 393.14 503.42 392.04 502.5 391.21C501.58 390.38 500.72 389.54 500 389.01C499.28 388.48 498.74 388.11 498.2 388.01C497.66 387.91 497.26 388.21 496.77 388.4C496.28 388.6 495.72 388.74 495.24 389.19C494.77 389.64 494.27 390.36 493.92 391.1C493.56 391.84 493.24 393.19 493.1 393.61Z" fill="#683A5E" stroke="#1c1c1c" stroke-width="0.95" stroke-linejoin="round"/>
<path d="M493.1 398.07C493.24 398.67 493.56 400.59 493.92 401.64C494.27 402.69 494.77 403.68 495.24 404.37C495.72 405.05 496.28 405.39 496.77 405.74C497.26 406.09 497.41 406.52 498.2 406.47C498.99 406.42 500.37 405.77 501.5 405.47C502.63 405.17 503.92 404.84 505 404.67C506.08 404.5 506.92 404.44 508 404.47C509.08 404.5 510.25 404.6 511.5 404.87C512.75 405.14 514.27 405.65 515.5 406.07C516.73 406.49 518.33 407.15 518.9 407.37L518.9 407.57C518.33 407.79 516.73 408.45 515.5 408.87C514.27 409.29 512.75 409.8 511.5 410.07C510.25 410.34 509.08 410.44 508 410.47C506.92 410.5 506.08 410.44 505 410.27C503.92 410.1 502.63 409.77 501.5 409.47C500.37 409.17 498.99 408.52 498.2 408.47C497.41 408.42 497.26 408.85 496.77 409.2C496.28 409.55 495.72 409.89 495.24 410.57C494.77 411.26 494.27 412.25 493.92 413.3C493.56 414.35 493.24 416.27 493.1 416.87Z" fill="#FFC4D0" stroke="#1c1c1c" stroke-width="0.95" stroke-linejoin="round"/>
<path d="M530.5 398.47C530.65 399.04 531.01 400.89 531.41 401.89C531.81 402.9 532.36 403.85 532.89 404.5C533.43 405.15 534.05 405.46 534.6 405.79C535.16 406.12 535.63 406.92 536.2 406.47C536.77 406.02 537.4 404.1 538 403.07C538.6 402.04 539.2 400.99 539.8 400.27C540.4 399.55 540.92 399.07 541.6 398.77C542.28 398.47 543 398.44 543.9 398.47C544.8 398.5 545.93 398.54 547 398.97C548.07 399.4 549.27 400.22 550.3 401.07C551.33 401.92 552.28 403.22 553.2 404.07C554.12 404.92 554.7 405.62 555.8 406.17C556.9 406.72 559.13 407.17 559.8 407.37L559.8 407.57C559.13 407.77 556.9 408.22 555.8 408.77C554.7 409.32 554.12 410.02 553.2 410.87C552.28 411.72 551.33 413.02 550.3 413.87C549.27 414.72 548.07 415.54 547 415.97C545.93 416.4 544.8 416.44 543.9 416.47C543 416.5 542.28 416.47 541.6 416.17C540.92 415.87 540.4 415.39 539.8 414.67C539.2 413.95 538.6 412.9 538 411.87C537.4 410.84 536.77 408.92 536.2 408.47C535.63 408.02 535.16 408.82 534.6 409.15C534.05 409.48 533.43 409.79 532.89 410.44C532.36 411.09 531.81 412.05 531.41 413.05C531.01 414.06 530.65 415.9 530.5 416.47Z" fill="#FFC4D0" stroke="#1c1c1c" stroke-width="0.95" stroke-linejoin="round"/>
<path d="M568.6 423.33C568.71 423.62 568.98 424.56 569.27 425.08C569.57 425.59 569.97 426.11 570.36 426.41C570.76 426.72 571.22 426.78 571.62 426.9C572.03 427.02 572.07 427.29 572.8 427.13C573.53 426.97 574.8 426.56 576 425.93C577.2 425.3 578.58 424.26 580 423.33C581.42 422.4 583.27 421.13 584.5 420.33C585.73 419.53 586.52 418.43 587.4 418.53C588.28 418.63 588.87 419.9 589.8 420.93C590.73 421.96 592.03 423.71 593 424.73C593.97 425.75 595 426.51 595.6 427.03C596.2 427.55 596.43 427.7 596.6 427.83L596.6 428.03C596.43 428.16 596.2 428.31 595.6 428.83C595 429.35 593.97 430.11 593 431.13C592.03 432.15 590.73 433.9 589.8 434.93C588.87 435.96 588.28 437.23 587.4 437.33C586.52 437.43 585.73 436.33 584.5 435.53C583.27 434.73 581.42 433.46 580 432.53C578.58 431.6 577.2 430.56 576 429.93C574.8 429.3 573.53 428.89 572.8 428.73C572.07 428.57 572.03 428.84 571.62 428.96C571.22 429.08 570.76 429.14 570.36 429.45C569.97 429.75 569.57 430.27 569.27 430.78C568.98 431.3 568.71 432.24 568.6 432.53Z" fill="#3A80C4" stroke="#1c1c1c" stroke-width="0.95" stroke-linejoin="round"/>
<path d="M605.7 442.89C605.78 443.24 605.96 444.37 606.16 444.98C606.37 445.59 606.65 446.22 606.92 446.57C607.19 446.93 607.51 446.99 607.79 447.13C608.07 447.27 608.15 447.91 608.6 447.39C609.05 446.87 609.8 445.12 610.5 443.99C611.2 442.86 612.1 441.42 612.8 440.59C613.5 439.76 613.97 439.06 614.7 438.99C615.43 438.92 616.32 439.49 617.2 440.19C618.08 440.89 619.15 442.19 620 443.19C620.85 444.19 621.7 445.34 622.3 446.19C622.9 447.04 623.38 447.94 623.6 448.29L623.6 448.49C623.38 448.84 622.9 449.74 622.3 450.59C621.7 451.44 620.85 452.59 620 453.59C619.15 454.59 618.08 455.89 617.2 456.59C616.32 457.29 615.43 457.86 614.7 457.79C613.97 457.72 613.5 457.02 612.8 456.19C612.1 455.36 611.2 453.92 610.5 452.79C609.8 451.66 609.05 449.91 608.6 449.39C608.15 448.87 608.07 449.51 607.79 449.65C607.51 449.79 607.19 449.85 606.92 450.2C606.65 450.56 606.37 451.19 606.16 451.8C605.96 452.41 605.78 453.54 605.7 453.89Z" fill="#BACAF0" stroke="#1c1c1c" stroke-width="0.95" stroke-linejoin="round"/>
<path d="M643.1 459.45C643.22 460.05 643.51 461.97 643.82 463.02C644.13 464.07 644.57 465.06 644.99 465.75C645.41 466.43 645.9 466.77 646.34 467.12C646.78 467.47 647.07 468.03 647.6 467.85C648.13 467.67 648.88 466.43 649.5 466.05C650.12 465.67 650.55 465.48 651.3 465.55C652.05 465.62 652.97 466.1 654 466.45C655.03 466.8 656.33 467.27 657.5 467.65C658.67 468.03 660.42 468.57 661 468.75L661 468.95C660.42 469.13 658.67 469.67 657.5 470.05C656.33 470.43 655.03 470.9 654 471.25C652.97 471.6 652.05 472.08 651.3 472.15C650.55 472.22 650.12 472.03 649.5 471.65C648.88 471.27 648.13 470.03 647.6 469.85C647.07 469.67 646.78 470.23 646.34 470.58C645.9 470.93 645.41 471.27 644.99 471.95C644.57 472.64 644.13 473.63 643.82 474.68C643.51 475.73 643.22 477.65 643.1 478.25Z" fill="#4A2A1C" stroke="#1c1c1c" stroke-width="0.95" stroke-linejoin="round"/>
<text x="1.8" y="506.3" font-size="16.4" fill="#000" stroke="#000" font-weight="bold">d</text>
<path d="M82.75 578.4L82.75 516.7A61.7 61.7 0 0 1 144.33 574.62Z" fill="#8DBE0B" stroke="#fff" stroke-width="0.9" stroke-linejoin="round"/><path d="M82.75 578.4L144.33 574.62A61.7 61.7 0 0 1 120.14 627.48Z" fill="#F5D000" stroke="#fff" stroke-width="0.9" stroke-linejoin="round"/><path d="M82.75 578.4L120.14 627.48A61.7 61.7 0 0 1 98.3 638.11Z" fill="#15763A" stroke="#fff" stroke-width="0.9" stroke-linejoin="round"/><path d="M82.75 578.4L98.3 638.11A61.7 61.7 0 0 1 88.37 639.84Z" fill="#E2DE6B" stroke="#fff" stroke-width="0.9" stroke-linejoin="round"/><path d="M82.75 578.4L88.37 639.84A61.7 61.7 0 0 1 25.43 601.23Z" fill="#F88000" stroke="#fff" stroke-width="0.9" stroke-linejoin="round"/><path d="M82.75 578.4L25.43 601.23A61.7 61.7 0 0 1 22.02 589.31Z" fill="#B01525" stroke="#fff" stroke-width="0.9" stroke-linejoin="round"/><path d="M82.75 578.4L22.02 589.31A61.7 61.7 0 0 1 43.69 530.64Z" fill="#683A5E" stroke="#fff" stroke-width="0.9" stroke-linejoin="round"/><path d="M82.75 578.4L43.69 530.64A61.7 61.7 0 0 1 53 524.35Z" fill="#FFC4D0" stroke="#fff" stroke-width="0.9" stroke-linejoin="round"/><path d="M82.75 578.4L53 524.35A61.7 61.7 0 0 1 63.67 519.73Z" fill="#3A80C4" stroke="#fff" stroke-width="0.9" stroke-linejoin="round"/><path d="M82.75 578.4L63.67 519.73A61.7 61.7 0 0 1 74.24 517.29Z" fill="#BACAF0" stroke="#fff" stroke-width="0.9" stroke-linejoin="round"/><path d="M82.75 578.4L74.24 517.29A61.7 61.7 0 0 1 82.75 516.7Z" fill="#4A2A1C" stroke="#fff" stroke-width="0.9" stroke-linejoin="round"/>
<text x="129.8" y="526.95" font-size="9.7" fill="#111" stroke="#111" text-anchor="middle">Ctrl</text>
<text x="108.5" y="549.25" font-size="9.7" fill="#111" stroke="#111" text-anchor="middle">24</text>
<text x="124.8" y="598.75" font-size="9.7" fill="#111" stroke="#111" text-anchor="middle">15.6</text>
<text x="104.6" y="624.35" font-size="9.7" fill="#111" stroke="#111" text-anchor="middle">6.3</text>
<text x="96.5" y="649.15" font-size="9.7" fill="#111" stroke="#111" text-anchor="middle">2.6</text>
<text x="58.3" y="620.65" font-size="9.7" fill="#111" stroke="#111" text-anchor="middle">20.4</text>
<text x="32.7" y="596.75" font-size="9.7" fill="#111" stroke="#111" text-anchor="middle">3.2</text>
<text x="38.2" y="565.95" font-size="9.7" fill="#111" stroke="#111" text-anchor="middle">16.9</text>
<text x="40.8" y="521.6" font-size="9.7" fill="#111" stroke="#111" text-anchor="middle">2.9</text>
<text x="54.2" y="515.4" font-size="9.7" fill="#111" stroke="#111" text-anchor="middle">3.0</text>
<text x="67.7" y="509.5" font-size="9.7" fill="#111" stroke="#111" text-anchor="middle">2.8</text>
<text x="81.7" y="508.1" font-size="9.7" fill="#111" stroke="#111" text-anchor="middle">2.2</text>
<line x1="93.2" y1="637.8" x2="95.2" y2="641.8" stroke="#222" stroke-width="0.75"/>
<line x1="46.6" y1="528.2" x2="44.4" y2="523" stroke="#222" stroke-width="0.75"/>
<line x1="58" y1="521.8" x2="56.7" y2="517.2" stroke="#222" stroke-width="0.75"/>
<line x1="69" y1="518.2" x2="68.1" y2="512.2" stroke="#222" stroke-width="0.75"/>
<line x1="79.2" y1="516.6" x2="79.6" y2="511" stroke="#222" stroke-width="0.75"/>
<path d="M226.9 578.4L226.9 516.7A61.7 61.7 0 0 1 288.58 576.85Z" fill="#8DBE0B" stroke="#fff" stroke-width="0.9" stroke-linejoin="round"/><path d="M226.9 578.4L288.58 576.85A61.7 61.7 0 0 1 282.56 605.02Z" fill="#F5D000" stroke="#fff" stroke-width="0.9" stroke-linejoin="round"/><path d="M226.9 578.4L282.56 605.02A61.7 61.7 0 0 1 221.09 639.83Z" fill="#15763A" stroke="#fff" stroke-width="0.9" stroke-linejoin="round"/><path d="M226.9 578.4L221.09 639.83A61.7 61.7 0 0 1 216.48 639.21Z" fill="#E2DE6B" stroke="#fff" stroke-width="0.9" stroke-linejoin="round"/><path d="M226.9 578.4L216.48 639.21A61.7 61.7 0 0 1 197.86 632.84Z" fill="#F88000" stroke="#fff" stroke-width="0.9" stroke-linejoin="round"/><path d="M226.9 578.4L197.86 632.84A61.7 61.7 0 0 1 177.68 615.6Z" fill="#B01525" stroke="#fff" stroke-width="0.9" stroke-linejoin="round"/><path d="M226.9 578.4L177.68 615.6A61.7 61.7 0 0 1 198.54 523.6Z" fill="#683A5E" stroke="#fff" stroke-width="0.9" stroke-linejoin="round"/><path d="M226.9 578.4L198.54 523.6A61.7 61.7 0 0 1 210.43 518.94Z" fill="#FFC4D0" stroke="#fff" stroke-width="0.9" stroke-linejoin="round"/><path d="M226.9 578.4L210.43 518.94A61.7 61.7 0 0 1 216.48 517.59Z" fill="#3A80C4" stroke="#fff" stroke-width="0.9" stroke-linejoin="round"/><path d="M226.9 578.4L216.48 517.59A61.7 61.7 0 0 1 222.64 516.85Z" fill="#BACAF0" stroke="#fff" stroke-width="0.9" stroke-linejoin="round"/><path d="M226.9 578.4L222.64 516.85A61.7 61.7 0 0 1 226.9 516.7Z" fill="#4A2A1C" stroke="#fff" stroke-width="0.9" stroke-linejoin="round"/>
<text x="276" y="527.75" font-size="9.7" fill="#111" stroke="#111" text-anchor="middle">RPL</text>
<text x="259" y="549.25" font-size="9.7" fill="#111" stroke="#111" text-anchor="middle">24.6</text>
<text x="273.6" y="592.35" font-size="9.7" fill="#111" stroke="#111" text-anchor="middle">7.5</text>
<text x="248" y="624.35" font-size="9.7" fill="#111" stroke="#111" text-anchor="middle">19.4</text>
<text x="215.3" y="649.15" font-size="9.7" fill="#111" stroke="#111" text-anchor="middle">1.2</text>
<text x="210.3" y="629.35" font-size="9.7" fill="#111" stroke="#111" text-anchor="middle">5.1</text>
<text x="193.6" y="619.65" font-size="9.7" fill="#111" stroke="#111" text-anchor="middle">6.9</text>
<text x="184.5" y="574.05" font-size="9.7" fill="#111" stroke="#111" text-anchor="middle">27.7</text>
<text x="189.4" y="518.6" font-size="9.7" fill="#111" stroke="#111" text-anchor="middle">3.3</text>
<text x="201.7" y="513" font-size="9.7" fill="#111" stroke="#111" text-anchor="middle">1.6</text>
<text x="214.5" y="510.5" font-size="9.7" fill="#111" stroke="#111" text-anchor="middle">1.6</text>
<text x="228.8" y="509.5" font-size="9.7" fill="#111" stroke="#111" text-anchor="middle">1.1</text>
<line x1="217.6" y1="639" x2="216.3" y2="641.8" stroke="#222" stroke-width="0.75"/>
<line x1="203.5" y1="520.8" x2="197.5" y2="518.2" stroke="#222" stroke-width="0.75"/>
<line x1="211.5" y1="518" x2="207" y2="514.8" stroke="#222" stroke-width="0.75"/>
<line x1="219.6" y1="517" x2="217.2" y2="513" stroke="#222" stroke-width="0.75"/>
<line x1="225.3" y1="516.5" x2="227" y2="512.5" stroke="#222" stroke-width="0.75"/>
<text x="323" y="506.1" font-size="16.4" fill="#000" stroke="#000" font-weight="bold">e</text>
<text transform="translate(342.7 583.3) rotate(-90)" font-size="9.7" text-anchor="middle" fill="#111" stroke="#111">% live CD45<tspan font-size="6.2" dy="-3.3">+</tspan><tspan dy="3.3"> cells</tspan></text>
<text x="409.5" y="522.3" font-size="9.75" fill="#111" stroke="#111" text-anchor="middle">NK cells</text><rect x="376.3" y="579.1" width="25.2" height="48.9" fill="#fff" stroke="#333" stroke-width="1"/><rect x="414.2" y="573.3" width="25.4" height="54.7" fill="#CF2415" stroke="#222" stroke-width="1"/><line x1="382.9" y1="577.3" x2="394.9" y2="577.3" stroke="#555" stroke-width="0.8"/><line x1="382.9" y1="580.9" x2="394.9" y2="580.9" stroke="#555" stroke-width="0.8"/><line x1="388.9" y1="577.3" x2="388.9" y2="580.9" stroke="#555" stroke-width="0.8"/><line x1="420.9" y1="571.5" x2="432.9" y2="571.5" stroke="#333" stroke-width="0.8"/><line x1="420.9" y1="575.1" x2="432.9" y2="575.1" stroke="#333" stroke-width="0.8"/><line x1="426.9" y1="571.5" x2="426.9" y2="575.1" stroke="#333" stroke-width="0.8"/><line x1="363.55" y1="538.8" x2="363.55" y2="628.5" stroke="#666" stroke-width="1.1"/><line x1="363.05" y1="628" x2="452.15" y2="628" stroke="#666" stroke-width="1.1"/><line x1="388.9" y1="628" x2="388.9" y2="630.5" stroke="#555" stroke-width="0.9"/><line x1="426.9" y1="628" x2="426.9" y2="630.5" stroke="#555" stroke-width="0.9"/><line x1="360.75" y1="628" x2="363.55" y2="628" stroke="#666" stroke-width="1"/><text x="360.45" y="630.95" font-size="9.6" fill="#111" stroke="#111" text-anchor="end">0</text><line x1="360.75" y1="610.26" x2="363.55" y2="610.26" stroke="#666" stroke-width="1"/><text x="360.45" y="613.21" font-size="9.6" fill="#111" stroke="#111" text-anchor="end">20</text><line x1="360.75" y1="592.52" x2="363.55" y2="592.52" stroke="#666" stroke-width="1"/><text x="360.45" y="595.47" font-size="9.6" fill="#111" stroke="#111" text-anchor="end">40</text><line x1="360.75" y1="574.78" x2="363.55" y2="574.78" stroke="#666" stroke-width="1"/><text x="360.45" y="577.73" font-size="9.6" fill="#111" stroke="#111" text-anchor="end">60</text><line x1="360.75" y1="557.04" x2="363.55" y2="557.04" stroke="#666" stroke-width="1"/><text x="360.45" y="559.99" font-size="9.6" fill="#111" stroke="#111" text-anchor="end">80</text><line x1="360.75" y1="539.3" x2="363.55" y2="539.3" stroke="#666" stroke-width="1"/><text x="360.45" y="542.25" font-size="9.6" fill="#111" stroke="#111" text-anchor="end">100</text><circle cx="378.5" cy="564.29" r="1.7" fill="#000"/><circle cx="396.36" cy="562.19" r="1.7" fill="#000"/><circle cx="383.52" cy="567.21" r="1.7" fill="#000"/><circle cx="391.34" cy="566.28" r="1.7" fill="#000"/><circle cx="380.95" cy="569.2" r="1.7" fill="#000"/><circle cx="396.36" cy="570.01" r="1.7" fill="#000"/><circle cx="386.2" cy="571.77" r="1.7" fill="#000"/><circle cx="391.34" cy="572.47" r="1.7" fill="#000"/><circle cx="399.05" cy="574.45" r="1.7" fill="#000"/><circle cx="378.5" cy="575.62" r="1.7" fill="#000"/><circle cx="382.35" cy="578.19" r="1.7" fill="#000"/><circle cx="386.44" cy="579.36" r="1.7" fill="#000"/><circle cx="390.76" cy="578.54" r="1.7" fill="#000"/><circle cx="394.85" cy="577.96" r="1.7" fill="#000"/><circle cx="378.5" cy="584.15" r="1.7" fill="#000"/><circle cx="383.52" cy="586.13" r="1.7" fill="#000"/><circle cx="393.68" cy="584.96" r="1.7" fill="#000"/><circle cx="398.93" cy="583.45" r="1.7" fill="#000"/><circle cx="388.54" cy="588.12" r="1.7" fill="#000"/><circle cx="378.5" cy="589.4" r="1.7" fill="#000"/><circle cx="383.52" cy="591.5" r="1.7" fill="#000"/><circle cx="398.93" cy="589.64" r="1.7" fill="#000"/><circle cx="388.54" cy="593.49" r="1.7" fill="#000"/><circle cx="393.68" cy="593.26" r="1.7" fill="#000"/><rect x="422.56" y="549.49" width="3.2" height="3.2" fill="#000"/><rect x="430.15" y="550.9" width="3.2" height="3.2" fill="#000"/><rect x="427.82" y="555.57" width="3.2" height="3.2" fill="#000"/><rect x="422.56" y="556.5" width="3.2" height="3.2" fill="#000"/><rect x="417.54" y="559.77" width="3.2" height="3.2" fill="#000"/><rect x="432.72" y="560.94" width="3.2" height="3.2" fill="#000"/><rect x="422.56" y="562.11" width="3.2" height="3.2" fill="#000"/><rect x="427.82" y="564.09" width="3.2" height="3.2" fill="#000"/><rect x="414.97" y="568.18" width="3.2" height="3.2" fill="#000"/><rect x="432.72" y="567.95" width="3.2" height="3.2" fill="#000"/><rect x="420.11" y="570.52" width="3.2" height="3.2" fill="#000"/><rect x="427.82" y="569.93" width="3.2" height="3.2" fill="#000"/><rect x="417.54" y="573.09" width="3.2" height="3.2" fill="#000"/><rect x="422.56" y="574.37" width="3.2" height="3.2" fill="#000"/><rect x="432.72" y="573.79" width="3.2" height="3.2" fill="#000"/><rect x="427.82" y="576.94" width="3.2" height="3.2" fill="#000"/><rect x="427.82" y="582.78" width="3.2" height="3.2" fill="#000"/><rect x="420.11" y="583.71" width="3.2" height="3.2" fill="#000"/><rect x="417.54" y="585.12" width="3.2" height="3.2" fill="#000"/><rect x="422.56" y="588.85" width="3.2" height="3.2" fill="#000"/><rect x="427.82" y="589.55" width="3.2" height="3.2" fill="#000"/><rect x="432.72" y="588.62" width="3.2" height="3.2" fill="#000"/><rect x="425.13" y="595.86" width="3.2" height="3.2" fill="#000"/><text x="387.8" y="640" font-size="9.9" fill="#111" stroke="#111" text-anchor="middle">Ctrl</text><text x="427.7" y="640" font-size="9.9" fill="#111" stroke="#111" text-anchor="middle">RPL</text><line x1="390" y1="541.5" x2="424.6" y2="541.5" stroke="#333" stroke-width="0.8"/><text x="408.3" y="537.3" font-size="9.3" fill="#111" stroke="#111" text-anchor="middle">ns.</text>
<text x="516.3" y="522.3" font-size="9.75" fill="#111" stroke="#111" text-anchor="middle">macrophages</text><rect x="484.3" y="609.4" width="25.3" height="18.6" fill="#fff" stroke="#333" stroke-width="1"/><rect x="522.5" y="617.9" width="25.3" height="10.1" fill="#CF2415" stroke="#222" stroke-width="1"/><line x1="490.95" y1="607.6" x2="502.95" y2="607.6" stroke="#555" stroke-width="0.8"/><line x1="490.95" y1="611.2" x2="502.95" y2="611.2" stroke="#555" stroke-width="0.8"/><line x1="496.95" y1="607.6" x2="496.95" y2="611.2" stroke="#555" stroke-width="0.8"/><line x1="529.15" y1="616.1" x2="541.15" y2="616.1" stroke="#333" stroke-width="0.8"/><line x1="529.15" y1="619.7" x2="541.15" y2="619.7" stroke="#333" stroke-width="0.8"/><line x1="535.15" y1="616.1" x2="535.15" y2="619.7" stroke="#333" stroke-width="0.8"/><line x1="471.5" y1="538.8" x2="471.5" y2="628.5" stroke="#666" stroke-width="1.1"/><line x1="471" y1="628" x2="560.1" y2="628" stroke="#666" stroke-width="1.1"/><line x1="496.95" y1="628" x2="496.95" y2="630.5" stroke="#555" stroke-width="0.9"/><line x1="535.15" y1="628" x2="535.15" y2="630.5" stroke="#555" stroke-width="0.9"/><line x1="468.7" y1="628" x2="471.5" y2="628" stroke="#666" stroke-width="1"/><text x="468.4" y="630.95" font-size="9.6" fill="#111" stroke="#111" text-anchor="end">0</text><line x1="468.7" y1="610.26" x2="471.5" y2="610.26" stroke="#666" stroke-width="1"/><text x="468.4" y="613.21" font-size="9.6" fill="#111" stroke="#111" text-anchor="end">20</text><line x1="468.7" y1="592.52" x2="471.5" y2="592.52" stroke="#666" stroke-width="1"/><text x="468.4" y="595.47" font-size="9.6" fill="#111" stroke="#111" text-anchor="end">40</text><line x1="468.7" y1="574.78" x2="471.5" y2="574.78" stroke="#666" stroke-width="1"/><text x="468.4" y="577.73" font-size="9.6" fill="#111" stroke="#111" text-anchor="end">60</text><line x1="468.7" y1="557.04" x2="471.5" y2="557.04" stroke="#666" stroke-width="1"/><text x="468.4" y="559.99" font-size="9.6" fill="#111" stroke="#111" text-anchor="end">80</text><line x1="468.7" y1="539.3" x2="471.5" y2="539.3" stroke="#666" stroke-width="1"/><text x="468.4" y="542.25" font-size="9.6" fill="#111" stroke="#111" text-anchor="end">100</text><circle cx="494.67" cy="587.17" r="1.7" fill="#000"/><circle cx="502.38" cy="590.2" r="1.7" fill="#000"/><circle cx="494.67" cy="595.69" r="1.7" fill="#000"/><circle cx="499.69" cy="594.88" r="1.7" fill="#000"/><circle cx="502.38" cy="603.28" r="1.7" fill="#000"/><circle cx="492.1" cy="605.39" r="1.7" fill="#000"/><circle cx="497.36" cy="605.39" r="1.7" fill="#000"/><circle cx="487.08" cy="607.37" r="1.7" fill="#000"/><circle cx="507.52" cy="607.72" r="1.7" fill="#000"/><circle cx="490.35" cy="609.36" r="1.7" fill="#000"/><circle cx="504.36" cy="610.29" r="1.7" fill="#000"/><circle cx="493.85" cy="611.11" r="1.7" fill="#000"/><circle cx="500.63" cy="611.11" r="1.7" fill="#000"/><circle cx="497.36" cy="612.28" r="1.7" fill="#000"/><circle cx="507.52" cy="613.45" r="1.7" fill="#000"/><circle cx="487.08" cy="614.38" r="1.7" fill="#000"/><circle cx="490.35" cy="615.55" r="1.7" fill="#000"/><circle cx="504.13" cy="615.55" r="1.7" fill="#000"/><circle cx="500.63" cy="616.36" r="1.7" fill="#000"/><circle cx="493.85" cy="617.3" r="1.7" fill="#000"/><circle cx="497.36" cy="618.23" r="1.7" fill="#000"/><circle cx="492.1" cy="620.45" r="1.7" fill="#000"/><circle cx="502.38" cy="622.2" r="1.7" fill="#000"/><circle cx="497.36" cy="624.07" r="1.7" fill="#000"/><rect x="533.95" y="598.18" width="3.2" height="3.2" fill="#000"/><rect x="538.97" y="602.62" width="3.2" height="3.2" fill="#000"/><rect x="526.12" y="606.94" width="3.2" height="3.2" fill="#000"/><rect x="533.95" y="606.94" width="3.2" height="3.2" fill="#000"/><rect x="523.44" y="609.86" width="3.2" height="3.2" fill="#000"/><rect x="536.4" y="610.21" width="3.2" height="3.2" fill="#000"/><rect x="528.81" y="611.03" width="3.2" height="3.2" fill="#000"/><rect x="541.31" y="613.71" width="3.2" height="3.2" fill="#000"/><rect x="533.95" y="614.3" width="3.2" height="3.2" fill="#000"/><rect x="543.87" y="615.7" width="3.2" height="3.2" fill="#000"/><rect x="523.79" y="617.45" width="3.2" height="3.2" fill="#000"/><rect x="538.97" y="618.04" width="3.2" height="3.2" fill="#000"/><rect x="528.81" y="618.62" width="3.2" height="3.2" fill="#000"/><rect x="533.95" y="619.79" width="3.2" height="3.2" fill="#000"/><rect x="523.79" y="619.79" width="3.2" height="3.2" fill="#000"/><rect x="543.87" y="620.95" width="3.2" height="3.2" fill="#000"/><rect x="526.12" y="622.12" width="3.2" height="3.2" fill="#000"/><rect x="541.31" y="622.71" width="3.2" height="3.2" fill="#000"/><rect x="528.81" y="623.87" width="3.2" height="3.2" fill="#000"/><rect x="538.97" y="623.87" width="3.2" height="3.2" fill="#000"/><rect x="531.38" y="624.81" width="3.2" height="3.2" fill="#000"/><rect x="536.4" y="624.81" width="3.2" height="3.2" fill="#000"/><rect x="533.95" y="625.63" width="3.2" height="3.2" fill="#000"/><text x="494.7" y="640" font-size="9.9" fill="#111" stroke="#111" text-anchor="middle">Ctrl</text><text x="533.8" y="640" font-size="9.9" fill="#111" stroke="#111" text-anchor="middle">RPL</text><line x1="498.6" y1="540.5" x2="532.8" y2="540.5" stroke="#333" stroke-width="0.8"/><text x="515.7" y="539.6" font-size="9.6" fill="#111" stroke="#111" text-anchor="middle">**</text>
<text x="626.7" y="522.3" font-size="9.75" fill="#111" stroke="#111" text-anchor="middle">T cells</text><rect x="595.9" y="613.4" width="25.7" height="14.6" fill="#fff" stroke="#333" stroke-width="1"/><rect x="634.2" y="605.6" width="25.4" height="22.4" fill="#CF2415" stroke="#222" stroke-width="1"/><line x1="602.75" y1="611.6" x2="614.75" y2="611.6" stroke="#555" stroke-width="0.8"/><line x1="602.75" y1="615.2" x2="614.75" y2="615.2" stroke="#555" stroke-width="0.8"/><line x1="608.75" y1="611.6" x2="608.75" y2="615.2" stroke="#555" stroke-width="0.8"/><line x1="640.9" y1="603.8" x2="652.9" y2="603.8" stroke="#333" stroke-width="0.8"/><line x1="640.9" y1="607.4" x2="652.9" y2="607.4" stroke="#333" stroke-width="0.8"/><line x1="646.9" y1="603.8" x2="646.9" y2="607.4" stroke="#333" stroke-width="0.8"/><line x1="583.6" y1="538.8" x2="583.6" y2="628.5" stroke="#666" stroke-width="1.1"/><line x1="583.1" y1="628" x2="672.2" y2="628" stroke="#666" stroke-width="1.1"/><line x1="608.75" y1="628" x2="608.75" y2="630.5" stroke="#555" stroke-width="0.9"/><line x1="646.9" y1="628" x2="646.9" y2="630.5" stroke="#555" stroke-width="0.9"/><line x1="580.8" y1="628" x2="583.6" y2="628" stroke="#666" stroke-width="1"/><text x="580.5" y="630.95" font-size="9.6" fill="#111" stroke="#111" text-anchor="end">0</text><line x1="580.8" y1="610.26" x2="583.6" y2="610.26" stroke="#666" stroke-width="1"/><text x="580.5" y="613.21" font-size="9.6" fill="#111" stroke="#111" text-anchor="end">20</text><line x1="580.8" y1="592.52" x2="583.6" y2="592.52" stroke="#666" stroke-width="1"/><text x="580.5" y="595.47" font-size="9.6" fill="#111" stroke="#111" text-anchor="end">40</text><line x1="580.8" y1="574.78" x2="583.6" y2="574.78" stroke="#666" stroke-width="1"/><text x="580.5" y="577.73" font-size="9.6" fill="#111" stroke="#111" text-anchor="end">60</text><line x1="580.8" y1="557.04" x2="583.6" y2="557.04" stroke="#666" stroke-width="1"/><text x="580.5" y="559.99" font-size="9.6" fill="#111" stroke="#111" text-anchor="end">80</text><line x1="580.8" y1="539.3" x2="583.6" y2="539.3" stroke="#666" stroke-width="1"/><text x="580.5" y="542.25" font-size="9.6" fill="#111" stroke="#111" text-anchor="end">100</text><circle cx="608.54" cy="591.37" r="1.7" fill="#000"/><circle cx="598.26" cy="600.6" r="1.7" fill="#000"/><circle cx="602.35" cy="602.35" r="1.7" fill="#000"/><circle cx="619.28" cy="602.12" r="1.7" fill="#000"/><circle cx="606.67" cy="604.22" r="1.7" fill="#000"/><circle cx="614.85" cy="604.22" r="1.7" fill="#000"/><circle cx="610.76" cy="605.62" r="1.7" fill="#000"/><circle cx="611.34" cy="612.04" r="1.7" fill="#000"/><circle cx="606.44" cy="613.56" r="1.7" fill="#000"/><circle cx="618.35" cy="614.61" r="1.7" fill="#000"/><circle cx="598.26" cy="616.13" r="1.7" fill="#000"/><circle cx="602.35" cy="616.95" r="1.7" fill="#000"/><circle cx="615.2" cy="616.95" r="1.7" fill="#000"/><circle cx="605.85" cy="618.12" r="1.7" fill="#000"/><circle cx="612.28" cy="618.12" r="1.7" fill="#000"/><circle cx="608.77" cy="619.28" r="1.7" fill="#000"/><circle cx="598.26" cy="620.45" r="1.7" fill="#000"/><circle cx="619.05" cy="620.22" r="1.7" fill="#000"/><circle cx="615.2" cy="622.55" r="1.7" fill="#000"/><circle cx="602.35" cy="623.49" r="1.7" fill="#000"/><circle cx="610.76" cy="624.07" r="1.7" fill="#000"/><circle cx="606.67" cy="624.66" r="1.7" fill="#000"/><circle cx="608.77" cy="616.13" r="1.7" fill="#000"/><circle cx="600.01" cy="616.72" r="1.7" fill="#000"/><rect x="645.13" y="574.01" width="3.2" height="3.2" fill="#000"/><rect x="650.15" y="580.43" width="3.2" height="3.2" fill="#000"/><rect x="640.11" y="583.23" width="3.2" height="3.2" fill="#000"/><rect x="645.13" y="583.23" width="3.2" height="3.2" fill="#000"/><rect x="645.13" y="594.44" width="3.2" height="3.2" fill="#000"/><rect x="634.85" y="599.58" width="3.2" height="3.2" fill="#000"/><rect x="655.64" y="599.93" width="3.2" height="3.2" fill="#000"/><rect x="638.71" y="601.92" width="3.2" height="3.2" fill="#000"/><rect x="651.55" y="601.92" width="3.2" height="3.2" fill="#000"/><rect x="642.79" y="603.2" width="3.2" height="3.2" fill="#000"/><rect x="647.47" y="603.44" width="3.2" height="3.2" fill="#000"/><rect x="640.11" y="605.54" width="3.2" height="3.2" fill="#000"/><rect x="653.31" y="608.69" width="3.2" height="3.2" fill="#000"/><rect x="645.13" y="609.28" width="3.2" height="3.2" fill="#000"/><rect x="655.64" y="609.86" width="3.2" height="3.2" fill="#000"/><rect x="634.85" y="613.13" width="3.2" height="3.2" fill="#000"/><rect x="640.11" y="613.95" width="3.2" height="3.2" fill="#000"/><rect x="650.15" y="613.71" width="3.2" height="3.2" fill="#000"/><rect x="645.13" y="614.76" width="3.2" height="3.2" fill="#000"/><rect x="652.72" y="617.8" width="3.2" height="3.2" fill="#000"/><rect x="637.54" y="619.44" width="3.2" height="3.2" fill="#000"/><rect x="642.56" y="620.72" width="3.2" height="3.2" fill="#000"/><rect x="647.82" y="620.6" width="3.2" height="3.2" fill="#000"/><text x="606.9" y="640" font-size="9.9" fill="#111" stroke="#111" text-anchor="middle">Ctrl</text><text x="646.7" y="640" font-size="9.9" fill="#111" stroke="#111" text-anchor="middle">RPL</text><line x1="610.2" y1="540.5" x2="644.2" y2="540.5" stroke="#333" stroke-width="0.8"/><text x="627.2" y="539.6" font-size="9.6" fill="#111" stroke="#111" text-anchor="middle">*</text>
</svg>
</body>
</html>
